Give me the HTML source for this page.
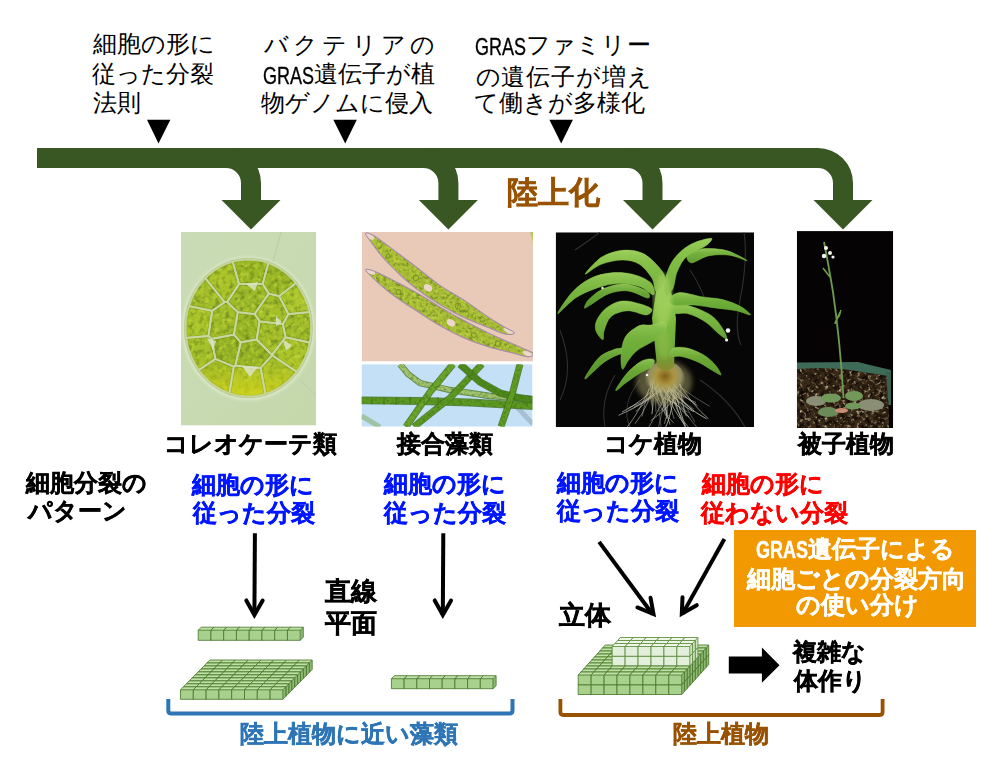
<!DOCTYPE html>
<html><head><meta charset="utf-8"><title>GRAS</title>
<style>
html,body{margin:0;padding:0;background:#fff;}
body{width:1000px;height:782px;position:relative;overflow:hidden;font-family:"Liberation Sans",sans-serif;}
.t{position:absolute;white-space:nowrap;line-height:1;}
.b{font-weight:bold;-webkit-text-stroke:0.45px currentColor;}
svg.main{position:absolute;left:0;top:0;}
.box{position:absolute;left:734px;top:530.3px;width:242px;height:97px;background:#f29800;}

.t:not(.b) .lat{-webkit-text-stroke:0.35px currentColor;}
.lat{font-family:"Liberation Sans",sans-serif;display:inline-block;transform:scaleX(0.75);transform-origin:0 0;margin-right:-17px;position:relative;top:1.5px;}
</style></head><body>
<div class="box"></div>
<svg class="main" width="1000" height="782" viewBox="0 0 1000 782">
<defs><clipPath id="cp1"><rect x="181" y="232" width="135" height="193.6"/></clipPath><clipPath id="cd1"><ellipse cx="248.4" cy="328" rx="63.599999999999994" ry="69.3"/></clipPath><linearGradient id="g1b" x1="0" y1="0" x2="1" y2="1"><stop offset="0" stop-color="#cadcb6"/><stop offset="1" stop-color="#c4d8ab"/></linearGradient><linearGradient id="g1y" x1="0" y1="0" x2="0" y2="1"><stop offset="0.7" stop-color="#c8d020" stop-opacity="0"/><stop offset="0.93" stop-color="#d2d41a" stop-opacity="0.7"/><stop offset="1" stop-color="#d8d820" stop-opacity="0.8"/></linearGradient><filter id="n1a" x="0" y="0" width="100%" height="100%" color-interpolation-filters="sRGB"><feTurbulence type="fractalNoise" baseFrequency="0.2" numOctaves="2" seed="4"/><feColorMatrix type="matrix" values="0 0 0 0 0.373 0 0 0 0 0.490 0 0 0 0 0.098 2.2 0 0 0 -1.0"/><feGaussianBlur stdDeviation="0.6"/></filter><filter id="n1b" x="0" y="0" width="100%" height="100%" color-interpolation-filters="sRGB"><feTurbulence type="fractalNoise" baseFrequency="0.22" numOctaves="2" seed="9"/><feColorMatrix type="matrix" values="0 0 0 0 0.804 0 0 0 0 0.863 0 0 0 0 0.275 0 2.2 0 0 -1.1"/><feGaussianBlur stdDeviation="0.6"/></filter><filter id="bl1"><feGaussianBlur stdDeviation="0.7"/></filter><filter id="bl2"><feGaussianBlur stdDeviation="1.5"/></filter></defs><g clip-path="url(#cp1)"><rect x="181" y="232" width="135" height="193.6" fill="url(#g1b)"/><line x1="281" y1="232" x2="273" y2="262" stroke="#b5c99e" stroke-width="0.8"/><line x1="300" y1="380" x2="316" y2="395" stroke="#b5c99e" stroke-width="0.8"/><ellipse cx="248.4" cy="328.5" rx="66.1" ry="71.8" fill="#dde8cc" filter="url(#bl2)"/><ellipse cx="248.4" cy="328" rx="64.1" ry="69.8" fill="#c4d49a" filter="url(#bl1)"/><clipPath id="cc1x"><polygon points="233.9,334.7 237.8,312.1 254.6,314.1 259.6,321.3 256.6,339.5 240.8,342.3"/><polygon points="224.6,302.2 227.2,302.1 237.8,312.1 233.9,334.7 211.6,338.9 208.4,336.0 212.2,310.8"/><polygon points="268.8,293.6 254.6,314.1 237.8,312.1 227.2,302.1 239.0,283.9 262.7,283.9"/><polygon points="259.6,321.3 254.6,314.1 268.8,293.6 279.2,296.1 288.4,314.1 282.8,324.2"/><polygon points="272.0,354.9 256.6,339.5 259.6,321.3 282.8,324.2 285.6,337.3"/><polygon points="235.3,365.7 240.8,342.3 256.6,339.5 272.0,354.9 272.0,355.3 260.6,368.0"/><polygon points="211.6,338.9 233.9,334.7 240.8,342.3 235.3,365.7 233.8,366.5 215.4,359.0"/><polygon points="205.4,278.2 208.0,275.5 212.4,271.9 217.0,268.7 221.9,265.9 226.9,263.6 232.1,261.8 232.7,261.7 239.0,283.9 227.2,302.1 224.6,302.2"/><polygon points="232.7,261.7 237.5,260.5 242.9,259.8 248.4,259.5 253.9,259.8 259.3,260.5 264.7,261.8 268.4,263.1 262.7,283.9 239.0,283.9"/><polygon points="268.8,293.6 262.7,283.9 268.4,263.1 269.9,263.6 274.9,265.9 279.8,268.7 284.4,271.9 288.8,275.5 292.8,279.6 295.8,283.1 279.2,296.1"/><polygon points="288.4,314.1 279.2,296.1 295.8,283.1 296.5,284.0 299.8,288.7 302.8,293.8 305.3,299.1 307.4,304.6 309.1,310.3 309.4,312.1"/><polygon points="311.2,328.0 311.0,334.0 310.2,339.9 309.7,342.5 285.6,337.3 282.8,324.2 288.4,314.1 309.4,312.1 310.2,316.1 311.0,322.0"/><polygon points="309.7,342.5 309.1,345.7 307.4,351.4 305.3,356.9 302.8,362.2 299.8,367.3 296.7,371.8 272.0,355.3 272.0,354.9 285.6,337.3"/><polygon points="296.7,371.8 296.5,372.0 292.8,376.4 288.8,380.5 284.4,384.1 279.8,387.3 274.9,390.1 269.9,392.4 265.4,393.9 260.6,368.0 272.0,355.3"/><polygon points="265.4,393.9 264.7,394.2 259.3,395.5 253.9,396.2 248.4,396.5 242.9,396.2 237.5,395.5 232.1,394.2 229.4,393.2 233.8,366.5 235.3,365.7 260.6,368.0"/><polygon points="229.4,393.2 226.9,392.4 221.9,390.1 217.0,387.3 212.4,384.1 208.0,380.5 204.0,376.4 200.3,372.0 198.9,370.0 215.4,359.0 233.8,366.5"/><polygon points="198.9,370.0 197.0,367.3 194.0,362.2 191.5,356.9 189.4,351.4 187.7,345.7 186.6,339.9 186.3,337.9 208.4,336.0 211.6,338.9 215.4,359.0"/><polygon points="186.3,337.9 185.8,334.0 185.6,328.0 185.8,322.0 186.6,316.1 187.7,310.3 189.0,306.1 212.2,310.8 208.4,336.0"/><polygon points="189.0,306.1 189.4,304.6 191.5,299.1 194.0,293.8 197.0,288.7 200.3,284.0 204.0,279.6 205.4,278.2 224.6,302.2 212.2,310.8"/></clipPath><g filter="url(#bl1)"><polygon points="233.9,334.7 237.8,312.1 254.6,314.1 259.6,321.3 256.6,339.5 240.8,342.3" fill="#9bb828"/><polygon points="224.6,302.2 227.2,302.1 237.8,312.1 233.9,334.7 211.6,338.9 208.4,336.0 212.2,310.8" fill="#a3be2a"/><polygon points="268.8,293.6 254.6,314.1 237.8,312.1 227.2,302.1 239.0,283.9 262.7,283.9" fill="#9ebb29"/><polygon points="259.6,321.3 254.6,314.1 268.8,293.6 279.2,296.1 288.4,314.1 282.8,324.2" fill="#a4bf2a"/><polygon points="272.0,354.9 256.6,339.5 259.6,321.3 282.8,324.2 285.6,337.3" fill="#a5c02a"/><polygon points="235.3,365.7 240.8,342.3 256.6,339.5 272.0,354.9 272.0,355.3 260.6,368.0" fill="#97b526"/><polygon points="211.6,338.9 233.9,334.7 240.8,342.3 235.3,365.7 233.8,366.5 215.4,359.0" fill="#96b426"/><polygon points="205.4,278.2 208.0,275.5 212.4,271.9 217.0,268.7 221.9,265.9 226.9,263.6 232.1,261.8 232.7,261.7 239.0,283.9 227.2,302.1 224.6,302.2" fill="#aac42c"/><polygon points="232.7,261.7 237.5,260.5 242.9,259.8 248.4,259.5 253.9,259.8 259.3,260.5 264.7,261.8 268.4,263.1 262.7,283.9 239.0,283.9" fill="#9cb928"/><polygon points="268.8,293.6 262.7,283.9 268.4,263.1 269.9,263.6 274.9,265.9 279.8,268.7 284.4,271.9 288.8,275.5 292.8,279.6 295.8,283.1 279.2,296.1" fill="#9bb828"/><polygon points="288.4,314.1 279.2,296.1 295.8,283.1 296.5,284.0 299.8,288.7 302.8,293.8 305.3,299.1 307.4,304.6 309.1,310.3 309.4,312.1" fill="#adc72d"/><polygon points="311.2,328.0 311.0,334.0 310.2,339.9 309.7,342.5 285.6,337.3 282.8,324.2 288.4,314.1 309.4,312.1 310.2,316.1 311.0,322.0" fill="#a1bd29"/><polygon points="309.7,342.5 309.1,345.7 307.4,351.4 305.3,356.9 302.8,362.2 299.8,367.3 296.7,371.8 272.0,355.3 272.0,354.9 285.6,337.3" fill="#aac42c"/><polygon points="296.7,371.8 296.5,372.0 292.8,376.4 288.8,380.5 284.4,384.1 279.8,387.3 274.9,390.1 269.9,392.4 265.4,393.9 260.6,368.0 272.0,355.3" fill="#a1bd29"/><polygon points="265.4,393.9 264.7,394.2 259.3,395.5 253.9,396.2 248.4,396.5 242.9,396.2 237.5,395.5 232.1,394.2 229.4,393.2 233.8,366.5 235.3,365.7 260.6,368.0" fill="#a5c02b"/><polygon points="229.4,393.2 226.9,392.4 221.9,390.1 217.0,387.3 212.4,384.1 208.0,380.5 204.0,376.4 200.3,372.0 198.9,370.0 215.4,359.0 233.8,366.5" fill="#99b727"/><polygon points="198.9,370.0 197.0,367.3 194.0,362.2 191.5,356.9 189.4,351.4 187.7,345.7 186.6,339.9 186.3,337.9 208.4,336.0 211.6,338.9 215.4,359.0" fill="#a5c02a"/><polygon points="186.3,337.9 185.8,334.0 185.6,328.0 185.8,322.0 186.6,316.1 187.7,310.3 189.0,306.1 212.2,310.8 208.4,336.0" fill="#aac52c"/><polygon points="189.0,306.1 189.4,304.6 191.5,299.1 194.0,293.8 197.0,288.7 200.3,284.0 204.0,279.6 205.4,278.2 224.6,302.2 212.2,310.8" fill="#a2be2a"/></g><g clip-path="url(#cc1x)"><rect x="181" y="232" width="135" height="193.6" filter="url(#n1a)" opacity="0.85"/><rect x="181" y="232" width="135" height="193.6" filter="url(#n1b)" opacity="0.85"/><rect x="183.8" y="257.7" width="129.2" height="140.6" fill="url(#g1y)"/></g><g filter="url(#bl1)" fill="none" stroke-linejoin="round"><polygon points="233.9,334.7 237.8,312.1 254.6,314.1 259.6,321.3 256.6,339.5 240.8,342.3" stroke="#6f8c22" stroke-width="3.6" stroke-opacity="0.2"/><polygon points="224.6,302.2 227.2,302.1 237.8,312.1 233.9,334.7 211.6,338.9 208.4,336.0 212.2,310.8" stroke="#6f8c22" stroke-width="3.6" stroke-opacity="0.2"/><polygon points="268.8,293.6 254.6,314.1 237.8,312.1 227.2,302.1 239.0,283.9 262.7,283.9" stroke="#6f8c22" stroke-width="3.6" stroke-opacity="0.2"/><polygon points="259.6,321.3 254.6,314.1 268.8,293.6 279.2,296.1 288.4,314.1 282.8,324.2" stroke="#6f8c22" stroke-width="3.6" stroke-opacity="0.2"/><polygon points="272.0,354.9 256.6,339.5 259.6,321.3 282.8,324.2 285.6,337.3" stroke="#6f8c22" stroke-width="3.6" stroke-opacity="0.2"/><polygon points="235.3,365.7 240.8,342.3 256.6,339.5 272.0,354.9 272.0,355.3 260.6,368.0" stroke="#6f8c22" stroke-width="3.6" stroke-opacity="0.2"/><polygon points="211.6,338.9 233.9,334.7 240.8,342.3 235.3,365.7 233.8,366.5 215.4,359.0" stroke="#6f8c22" stroke-width="3.6" stroke-opacity="0.2"/><polygon points="205.4,278.2 208.0,275.5 212.4,271.9 217.0,268.7 221.9,265.9 226.9,263.6 232.1,261.8 232.7,261.7 239.0,283.9 227.2,302.1 224.6,302.2" stroke="#6f8c22" stroke-width="3.6" stroke-opacity="0.2"/><polygon points="232.7,261.7 237.5,260.5 242.9,259.8 248.4,259.5 253.9,259.8 259.3,260.5 264.7,261.8 268.4,263.1 262.7,283.9 239.0,283.9" stroke="#6f8c22" stroke-width="3.6" stroke-opacity="0.2"/><polygon points="268.8,293.6 262.7,283.9 268.4,263.1 269.9,263.6 274.9,265.9 279.8,268.7 284.4,271.9 288.8,275.5 292.8,279.6 295.8,283.1 279.2,296.1" stroke="#6f8c22" stroke-width="3.6" stroke-opacity="0.2"/><polygon points="288.4,314.1 279.2,296.1 295.8,283.1 296.5,284.0 299.8,288.7 302.8,293.8 305.3,299.1 307.4,304.6 309.1,310.3 309.4,312.1" stroke="#6f8c22" stroke-width="3.6" stroke-opacity="0.2"/><polygon points="311.2,328.0 311.0,334.0 310.2,339.9 309.7,342.5 285.6,337.3 282.8,324.2 288.4,314.1 309.4,312.1 310.2,316.1 311.0,322.0" stroke="#6f8c22" stroke-width="3.6" stroke-opacity="0.2"/><polygon points="309.7,342.5 309.1,345.7 307.4,351.4 305.3,356.9 302.8,362.2 299.8,367.3 296.7,371.8 272.0,355.3 272.0,354.9 285.6,337.3" stroke="#6f8c22" stroke-width="3.6" stroke-opacity="0.2"/><polygon points="296.7,371.8 296.5,372.0 292.8,376.4 288.8,380.5 284.4,384.1 279.8,387.3 274.9,390.1 269.9,392.4 265.4,393.9 260.6,368.0 272.0,355.3" stroke="#6f8c22" stroke-width="3.6" stroke-opacity="0.2"/><polygon points="265.4,393.9 264.7,394.2 259.3,395.5 253.9,396.2 248.4,396.5 242.9,396.2 237.5,395.5 232.1,394.2 229.4,393.2 233.8,366.5 235.3,365.7 260.6,368.0" stroke="#6f8c22" stroke-width="3.6" stroke-opacity="0.2"/><polygon points="229.4,393.2 226.9,392.4 221.9,390.1 217.0,387.3 212.4,384.1 208.0,380.5 204.0,376.4 200.3,372.0 198.9,370.0 215.4,359.0 233.8,366.5" stroke="#6f8c22" stroke-width="3.6" stroke-opacity="0.2"/><polygon points="198.9,370.0 197.0,367.3 194.0,362.2 191.5,356.9 189.4,351.4 187.7,345.7 186.6,339.9 186.3,337.9 208.4,336.0 211.6,338.9 215.4,359.0" stroke="#6f8c22" stroke-width="3.6" stroke-opacity="0.2"/><polygon points="186.3,337.9 185.8,334.0 185.6,328.0 185.8,322.0 186.6,316.1 187.7,310.3 189.0,306.1 212.2,310.8 208.4,336.0" stroke="#6f8c22" stroke-width="3.6" stroke-opacity="0.2"/><polygon points="189.0,306.1 189.4,304.6 191.5,299.1 194.0,293.8 197.0,288.7 200.3,284.0 204.0,279.6 205.4,278.2 224.6,302.2 212.2,310.8" stroke="#6f8c22" stroke-width="3.6" stroke-opacity="0.2"/><polygon points="233.9,334.7 237.8,312.1 254.6,314.1 259.6,321.3 256.6,339.5 240.8,342.3" stroke="#cad8a4" stroke-width="1.8" stroke-opacity="0.9"/><polygon points="224.6,302.2 227.2,302.1 237.8,312.1 233.9,334.7 211.6,338.9 208.4,336.0 212.2,310.8" stroke="#cad8a4" stroke-width="1.8" stroke-opacity="0.9"/><polygon points="268.8,293.6 254.6,314.1 237.8,312.1 227.2,302.1 239.0,283.9 262.7,283.9" stroke="#cad8a4" stroke-width="1.8" stroke-opacity="0.9"/><polygon points="259.6,321.3 254.6,314.1 268.8,293.6 279.2,296.1 288.4,314.1 282.8,324.2" stroke="#cad8a4" stroke-width="1.8" stroke-opacity="0.9"/><polygon points="272.0,354.9 256.6,339.5 259.6,321.3 282.8,324.2 285.6,337.3" stroke="#cad8a4" stroke-width="1.8" stroke-opacity="0.9"/><polygon points="235.3,365.7 240.8,342.3 256.6,339.5 272.0,354.9 272.0,355.3 260.6,368.0" stroke="#cad8a4" stroke-width="1.8" stroke-opacity="0.9"/><polygon points="211.6,338.9 233.9,334.7 240.8,342.3 235.3,365.7 233.8,366.5 215.4,359.0" stroke="#cad8a4" stroke-width="1.8" stroke-opacity="0.9"/><polygon points="205.4,278.2 208.0,275.5 212.4,271.9 217.0,268.7 221.9,265.9 226.9,263.6 232.1,261.8 232.7,261.7 239.0,283.9 227.2,302.1 224.6,302.2" stroke="#cad8a4" stroke-width="1.8" stroke-opacity="0.9"/><polygon points="232.7,261.7 237.5,260.5 242.9,259.8 248.4,259.5 253.9,259.8 259.3,260.5 264.7,261.8 268.4,263.1 262.7,283.9 239.0,283.9" stroke="#cad8a4" stroke-width="1.8" stroke-opacity="0.9"/><polygon points="268.8,293.6 262.7,283.9 268.4,263.1 269.9,263.6 274.9,265.9 279.8,268.7 284.4,271.9 288.8,275.5 292.8,279.6 295.8,283.1 279.2,296.1" stroke="#cad8a4" stroke-width="1.8" stroke-opacity="0.9"/><polygon points="288.4,314.1 279.2,296.1 295.8,283.1 296.5,284.0 299.8,288.7 302.8,293.8 305.3,299.1 307.4,304.6 309.1,310.3 309.4,312.1" stroke="#cad8a4" stroke-width="1.8" stroke-opacity="0.9"/><polygon points="311.2,328.0 311.0,334.0 310.2,339.9 309.7,342.5 285.6,337.3 282.8,324.2 288.4,314.1 309.4,312.1 310.2,316.1 311.0,322.0" stroke="#cad8a4" stroke-width="1.8" stroke-opacity="0.9"/><polygon points="309.7,342.5 309.1,345.7 307.4,351.4 305.3,356.9 302.8,362.2 299.8,367.3 296.7,371.8 272.0,355.3 272.0,354.9 285.6,337.3" stroke="#cad8a4" stroke-width="1.8" stroke-opacity="0.9"/><polygon points="296.7,371.8 296.5,372.0 292.8,376.4 288.8,380.5 284.4,384.1 279.8,387.3 274.9,390.1 269.9,392.4 265.4,393.9 260.6,368.0 272.0,355.3" stroke="#cad8a4" stroke-width="1.8" stroke-opacity="0.9"/><polygon points="265.4,393.9 264.7,394.2 259.3,395.5 253.9,396.2 248.4,396.5 242.9,396.2 237.5,395.5 232.1,394.2 229.4,393.2 233.8,366.5 235.3,365.7 260.6,368.0" stroke="#cad8a4" stroke-width="1.8" stroke-opacity="0.9"/><polygon points="229.4,393.2 226.9,392.4 221.9,390.1 217.0,387.3 212.4,384.1 208.0,380.5 204.0,376.4 200.3,372.0 198.9,370.0 215.4,359.0 233.8,366.5" stroke="#cad8a4" stroke-width="1.8" stroke-opacity="0.9"/><polygon points="198.9,370.0 197.0,367.3 194.0,362.2 191.5,356.9 189.4,351.4 187.7,345.7 186.6,339.9 186.3,337.9 208.4,336.0 211.6,338.9 215.4,359.0" stroke="#cad8a4" stroke-width="1.8" stroke-opacity="0.9"/><polygon points="186.3,337.9 185.8,334.0 185.6,328.0 185.8,322.0 186.6,316.1 187.7,310.3 189.0,306.1 212.2,310.8 208.4,336.0" stroke="#cad8a4" stroke-width="1.8" stroke-opacity="0.9"/><polygon points="189.0,306.1 189.4,304.6 191.5,299.1 194.0,293.8 197.0,288.7 200.3,284.0 204.0,279.6 205.4,278.2 224.6,302.2 212.2,310.8" stroke="#cad8a4" stroke-width="1.8" stroke-opacity="0.9"/></g><g fill="#dfe8cc" opacity="0.8" filter="url(#bl1)"><path d="M246 284 L258 282 L255 291Z"/><path d="M242 366 L258 367 L250 377Z"/><path d="M283 340 L292 345 L286 351Z"/><path d="M207 338 L216 341 L213 350Z"/><path d="M276 316 L282 322 L276 326Z"/></g></g><defs><clipPath id="cp2"><rect x="362" y="232" width="171" height="129.5"/></clipPath><clipPath id="cc1"><path d="M365.8 233.3C366.6 232.8 369 232.9 373.8 235.8C378.6 238.7 387.2 245.3 394.5 250.7C401.8 256.1 409.9 262.2 417.5 268C425.1 273.8 432.2 280.2 440 285.6C447.8 291 456.2 295.1 464.3 300.4C472.4 305.7 481.8 312.9 488.6 317.4C495.4 321.9 500.7 324.9 505 327.5C509.3 330.1 514.1 331.7 514.3 332.8C514.5 333.9 510.3 335.1 506 334.2C501.7 333.3 495.6 330.4 488.6 327.6C481.7 324.8 472.4 321.4 464.3 317.6C456.2 313.8 447.8 309.3 440 304.6C432.2 299.9 424.1 294.4 417.5 289.5C410.9 284.6 406.1 280.3 400.3 275C394.6 269.7 388.2 263.5 383 257.5C377.8 251.5 371.9 243 369 239C366.1 235 365 233.8 365.8 233.3Z"/></clipPath><clipPath id="cc2"><path d="M366.5 269.3C368 269.2 371.7 270.1 377.3 272.6C382.9 275.1 392.6 280.1 400.3 284.1C408 288.1 416.7 292.9 423.3 296.7C429.9 300.5 433.2 303.2 440 307.2C446.8 311.2 456.2 316.5 464.3 320.8C472.4 325.1 480.5 329.3 488.6 333.2C496.7 337.1 506.2 341.1 512.9 344.1C519.6 347.1 525.6 349.4 529 351C532.4 352.6 533.7 353 533.5 354C533.3 355 531.4 357 528 356.8C524.6 356.6 519.5 354.7 512.9 353C506.3 351.3 496.7 349.3 488.6 346.8C480.5 344.3 472.4 341.5 464.3 338C456.2 334.5 447.4 329.8 440 325.6C432.6 321.4 426.7 317.3 420 313C413.3 308.7 406.2 304.3 400 300C393.8 295.7 388.2 291.4 383 287C377.8 282.6 371.2 276.4 368.5 273.5C365.8 270.6 365 269.4 366.5 269.3Z"/></clipPath><filter id="n2a" x="0" y="0" width="100%" height="100%" color-interpolation-filters="sRGB"><feTurbulence type="fractalNoise" baseFrequency="0.3" numOctaves="2" seed="11"/><feColorMatrix type="matrix" values="0 0 0 0 0.412 0 0 0 0 0.510 0 0 0 0 0.118 2.4 0 0 0 -1.1"/></filter><filter id="n2b" x="0" y="0" width="100%" height="100%" color-interpolation-filters="sRGB"><feTurbulence type="fractalNoise" baseFrequency="0.3" numOctaves="2" seed="5"/><feColorMatrix type="matrix" values="0 0 0 0 0.784 0 0 0 0 0.843 0 0 0 0 0.275 0 2.4 0 0 -1.2"/></filter><filter id="bl3"><feGaussianBlur stdDeviation="0.5"/></filter></defs><g clip-path="url(#cp2)"><rect x="362" y="232" width="171" height="129.5" fill="#e9cab8"/><path d="M530 232 Q533 240 533 246 L533 232Z" fill="#b8c860"/><path d="M365.8 233.3C366.6 232.8 369 232.9 373.8 235.8C378.6 238.7 387.2 245.3 394.5 250.7C401.8 256.1 409.9 262.2 417.5 268C425.1 273.8 432.2 280.2 440 285.6C447.8 291 456.2 295.1 464.3 300.4C472.4 305.7 481.8 312.9 488.6 317.4C495.4 321.9 500.7 324.9 505 327.5C509.3 330.1 514.1 331.7 514.3 332.8C514.5 333.9 510.3 335.1 506 334.2C501.7 333.3 495.6 330.4 488.6 327.6C481.7 324.8 472.4 321.4 464.3 317.6C456.2 313.8 447.8 309.3 440 304.6C432.2 299.9 424.1 294.4 417.5 289.5C410.9 284.6 406.1 280.3 400.3 275C394.6 269.7 388.2 263.5 383 257.5C377.8 251.5 371.9 243 369 239C366.1 235 365 233.8 365.8 233.3Z" fill="#a9bf36" stroke="#ad93aa" stroke-width="1.1"/><g clip-path="url(#cc1)"><rect x="362" y="232" width="171" height="129.5" filter="url(#n2a)"/><rect x="362" y="232" width="171" height="129.5" filter="url(#n2b)"/><g filter="url(#bl3)" fill="#edd7cc"><ellipse cx="428" cy="287.8" rx="4.5" ry="3.2" transform="rotate(33 428 287.8)"/><ellipse cx="369" cy="236" rx="6" ry="2.6" transform="rotate(30 369 236)"/><ellipse cx="509" cy="331" rx="6" ry="2.4" transform="rotate(25 509 331)"/></g></g><path d="M365.8 233.3C366.6 232.8 369 232.9 373.8 235.8C378.6 238.7 387.2 245.3 394.5 250.7C401.8 256.1 409.9 262.2 417.5 268C425.1 273.8 432.2 280.2 440 285.6C447.8 291 456.2 295.1 464.3 300.4C472.4 305.7 481.8 312.9 488.6 317.4C495.4 321.9 500.7 324.9 505 327.5C509.3 330.1 514.1 331.7 514.3 332.8C514.5 333.9 510.3 335.1 506 334.2C501.7 333.3 495.6 330.4 488.6 327.6C481.7 324.8 472.4 321.4 464.3 317.6C456.2 313.8 447.8 309.3 440 304.6C432.2 299.9 424.1 294.4 417.5 289.5C410.9 284.6 406.1 280.3 400.3 275C394.6 269.7 388.2 263.5 383 257.5C377.8 251.5 371.9 243 369 239C366.1 235 365 233.8 365.8 233.3Z" fill="none" stroke="#a88ea8" stroke-width="0.9"/><path d="M366.5 269.3C368 269.2 371.7 270.1 377.3 272.6C382.9 275.1 392.6 280.1 400.3 284.1C408 288.1 416.7 292.9 423.3 296.7C429.9 300.5 433.2 303.2 440 307.2C446.8 311.2 456.2 316.5 464.3 320.8C472.4 325.1 480.5 329.3 488.6 333.2C496.7 337.1 506.2 341.1 512.9 344.1C519.6 347.1 525.6 349.4 529 351C532.4 352.6 533.7 353 533.5 354C533.3 355 531.4 357 528 356.8C524.6 356.6 519.5 354.7 512.9 353C506.3 351.3 496.7 349.3 488.6 346.8C480.5 344.3 472.4 341.5 464.3 338C456.2 334.5 447.4 329.8 440 325.6C432.6 321.4 426.7 317.3 420 313C413.3 308.7 406.2 304.3 400 300C393.8 295.7 388.2 291.4 383 287C377.8 282.6 371.2 276.4 368.5 273.5C365.8 270.6 365 269.4 366.5 269.3Z" fill="#a9bf36" stroke="#ad93aa" stroke-width="1.1"/><g clip-path="url(#cc2)"><rect x="362" y="232" width="171" height="129.5" filter="url(#n2a)"/><rect x="362" y="232" width="171" height="129.5" filter="url(#n2b)"/><g filter="url(#bl3)" fill="#edd7cc"><ellipse cx="451" cy="322.8" rx="4.5" ry="3.2" transform="rotate(33 451 322.8)"/><ellipse cx="370" cy="271" rx="6" ry="2.6" transform="rotate(30 370 271)"/><ellipse cx="528" cy="354" rx="6" ry="2.4" transform="rotate(25 528 354)"/></g></g><path d="M366.5 269.3C368 269.2 371.7 270.1 377.3 272.6C382.9 275.1 392.6 280.1 400.3 284.1C408 288.1 416.7 292.9 423.3 296.7C429.9 300.5 433.2 303.2 440 307.2C446.8 311.2 456.2 316.5 464.3 320.8C472.4 325.1 480.5 329.3 488.6 333.2C496.7 337.1 506.2 341.1 512.9 344.1C519.6 347.1 525.6 349.4 529 351C532.4 352.6 533.7 353 533.5 354C533.3 355 531.4 357 528 356.8C524.6 356.6 519.5 354.7 512.9 353C506.3 351.3 496.7 349.3 488.6 346.8C480.5 344.3 472.4 341.5 464.3 338C456.2 334.5 447.4 329.8 440 325.6C432.6 321.4 426.7 317.3 420 313C413.3 308.7 406.2 304.3 400 300C393.8 295.7 388.2 291.4 383 287C377.8 282.6 371.2 276.4 368.5 273.5C365.8 270.6 365 269.4 366.5 269.3Z" fill="none" stroke="#a88ea8" stroke-width="0.9"/><g fill="none" stroke="#6f8a1c" stroke-width="0.9" opacity="0.9"><circle cx="416" cy="278" r="2.8"/><circle cx="458" cy="306" r="2.8"/><circle cx="482.5" cy="319.5" r="2.5"/><circle cx="498" cy="343.8" r="2.8"/><circle cx="473.8" cy="335" r="2.5"/><circle cx="398.5" cy="292" r="2.5"/><circle cx="388" cy="256" r="2.0"/></g></g><defs><clipPath id="cp3"><rect x="361.5" y="364.2" width="171" height="62.5"/></clipPath><filter id="bl4"><feGaussianBlur stdDeviation="0.55"/></filter><filter id="n3a" x="0" y="0" width="100%" height="100%" color-interpolation-filters="sRGB"><feTurbulence type="fractalNoise" baseFrequency="0.35" numOctaves="2" seed="21"/><feColorMatrix type="matrix" values="0 0 0 0 0.235 0 0 0 0 0.392 0 0 0 0 0.078 2.0 0 0 0 -0.9"/></filter><mask id="m3"><g fill="none" stroke="#fff" stroke-width="7" stroke-linecap="butt"><path d="M400 364.2 L408 374 L420 383 L450 390 L490 396 L533 399" stroke-width="5.2"/><path d="M361.5 400.4 L420 401 L470 402.5 L533 406" stroke-width="6.6"/><path d="M453 364.2 L430 392 L406 426.7" stroke-width="5.8"/><path d="M482 364.2 L450 398 L414 426.7" stroke-width="5.8"/><path d="M460 364.2 L480 382 L500 393 L520 398 L533 400" stroke-width="6.2"/><path d="M520 364.2 L512 395 L501 426.7" stroke-width="5.8"/></g></mask></defs><g clip-path="url(#cp3)"><rect x="361.5" y="364.2" width="171" height="62.5" fill="#c4e0f6"/><path d="M515 405 L533 424" stroke="#8898a8" stroke-width="5" opacity="0.45" filter="url(#bl4)"/><path d="M361.5 416 L380 427" stroke="#8ab070" stroke-width="5" opacity="0.6" filter="url(#bl4)"/><g fill="none" filter="url(#bl4)"><path d="M400 364.2 L408 374 L420 383 L450 390 L490 396 L533 399" stroke="#3e6f16" stroke-width="6.4" opacity="0.7200000000000001"/><path d="M400 364.2 L408 374 L420 383 L450 390 L490 396 L533 399" stroke="#a8c870" stroke-width="4.6000000000000005" opacity="0.9"/><path d="M361.5 400.4 L420 401 L470 402.5 L533 406" stroke="#3e6f16" stroke-width="7.8" opacity="0.8"/><path d="M361.5 400.4 L420 401 L470 402.5 L533 406" stroke="#5c9a20" stroke-width="6.0" opacity="1"/><path d="M453 364.2 L430 392 L406 426.7" stroke="#3e6f16" stroke-width="7.0" opacity="0.8"/><path d="M453 364.2 L430 392 L406 426.7" stroke="#6aa62a" stroke-width="5.2" opacity="1"/><path d="M482 364.2 L450 398 L414 426.7" stroke="#3e6f16" stroke-width="7.0" opacity="0.8"/><path d="M482 364.2 L450 398 L414 426.7" stroke="#5b9a22" stroke-width="5.2" opacity="1"/><path d="M460 364.2 L480 382 L500 393 L520 398 L533 400" stroke="#3e6f16" stroke-width="7.4" opacity="0.8"/><path d="M460 364.2 L480 382 L500 393 L520 398 L533 400" stroke="#4e8a1d" stroke-width="5.6000000000000005" opacity="1"/><path d="M520 364.2 L512 395 L501 426.7" stroke="#3e6f16" stroke-width="7.0" opacity="0.8"/><path d="M520 364.2 L512 395 L501 426.7" stroke="#5e9e24" stroke-width="5.2" opacity="1"/></g><rect x="361.5" y="364.2" width="171" height="62.5" filter="url(#n3a)" mask="url(#m3)" opacity="0.7"/><g stroke="#355f12" stroke-width="0.9" opacity="0.7"><line x1="372" y1="397" x2="372" y2="404.5"/><line x1="384" y1="397" x2="384" y2="404.5"/><line x1="396" y1="397" x2="396" y2="404.5"/><line x1="410" y1="397" x2="410" y2="404.5"/><line x1="424" y1="397" x2="424" y2="404.5"/><line x1="438" y1="397" x2="438" y2="404.5"/></g></g><defs><clipPath id="cp4"><rect x="555.7" y="232.3" width="198.3" height="194.7"/></clipPath><filter id="bl5"><feGaussianBlur stdDeviation="0.6"/></filter><filter id="bl6"><feGaussianBlur stdDeviation="2.5"/></filter><radialGradient id="rt4" cx="0.5" cy="0.4" r="0.55"><stop offset="0" stop-color="#806016"/><stop offset="0.4" stop-color="#aa9440"/><stop offset="0.75" stop-color="#c2bc80" stop-opacity="0.55"/><stop offset="1" stop-color="#8a8a70" stop-opacity="0"/></radialGradient><linearGradient id="st4" x1="0" y1="0" x2="0" y2="1"><stop offset="0" stop-color="#90c84c"/><stop offset="0.5" stop-color="#7ab83c"/><stop offset="0.8" stop-color="#6aa234"/><stop offset="1" stop-color="#8a8a30"/></linearGradient><linearGradient id="lg4" x1="0" y1="0" x2="0" y2="1"><stop offset="0" stop-color="#b4e070"/><stop offset="0.45" stop-color="#8cc44c" stop-opacity="0.3"/><stop offset="1" stop-color="#3c7a1c" stop-opacity="0.6"/></linearGradient></defs><g clip-path="url(#cp4)"><rect x="555.7" y="232.3" width="198.3" height="194.7" fill="#060606"/><g fill="none" stroke="#3a3a3a" stroke-width="1.1" opacity="0.8" filter="url(#bl5)"><path d="M744 232 Q748 260 740 300 Q734 330 741 345"/><path d="M615 375 Q600 400 605 427"/><path d="M560 330 Q575 370 560 400"/><path d="M640 380 Q620 405 630 427"/><path d="M700 380 Q730 400 745 427"/><path d="M575 250 Q590 240 600 232"/><path d="M690 270 Q700 285 705 300"/></g><g fill="none" stroke="#e2e2d0" stroke-width="0.85" opacity="0.85" filter="url(#bl5)"><path d="M674.4 390.2 Q671.9 415.5 663.4 432.3" stroke-opacity="0.95"/><path d="M679.2 386.1 Q694.6 398.2 709.7 406.3" stroke-opacity="0.47"/><path d="M666.4 385 Q663.3 403.7 668.4 416.1" stroke-opacity="0.53"/><path d="M673.5 379.2 Q684.4 405 694.9 422.1" stroke-opacity="0.48"/><path d="M649.1 389.2 Q644 405.6 642.2 416.5" stroke-opacity="0.53"/><path d="M658.3 390.5 Q642.7 405.4 618.6 415.3" stroke-opacity="0.81"/><path d="M671.1 390.5 Q685.5 414.3 699.2 430.1" stroke-opacity="0.58"/><path d="M653.7 377.9 Q655.4 394.7 662 405.8" stroke-opacity="0.76"/><path d="M659.8 381.3 Q676.8 394.1 696 402.6" stroke-opacity="0.69"/><path d="M671.5 377.8 Q680.9 398.4 685.5 412.1" stroke-opacity="0.41"/><path d="M649.6 388 Q639.3 412 626.5 428" stroke-opacity="0.75"/><path d="M654.8 390.4 Q661.3 398.5 677.2 403.9" stroke-opacity="0.85"/><path d="M660 382 Q645 400.1 622 412.2" stroke-opacity="0.87"/><path d="M674.5 389 Q683.6 406.9 706.5 418.8" stroke-opacity="0.97"/><path d="M668.5 389.9 Q677.4 403 693.9 411.8" stroke-opacity="0.95"/><path d="M659.1 379.5 Q654.5 399.1 656 412.1" stroke-opacity="0.49"/><path d="M654.2 377.7 Q650.4 405.3 634.9 423.7" stroke-opacity="0.72"/><path d="M668 388.6 Q670.1 406.8 674.1 418.9" stroke-opacity="0.65"/><path d="M650 383.9 Q668.1 401.1 688.5 412.5" stroke-opacity="0.48"/><path d="M669.2 388 Q656.9 413.9 646.4 431.2" stroke-opacity="0.66"/><path d="M658.4 383.3 Q674.8 403.9 689.3 417.6" stroke-opacity="0.91"/><path d="M664.6 387.2 Q652.2 399 634.1 406.9" stroke-opacity="0.57"/><path d="M661.1 390.8 Q667 407.7 666.8 418.9" stroke-opacity="0.78"/><path d="M651.9 380.8 Q654.1 400.9 651.9 414.3" stroke-opacity="0.92"/><path d="M673.8 386.7 Q680.2 412.4 686.6 429.5" stroke-opacity="0.86"/><path d="M658 383.8 Q665 408.3 670 424.7" stroke-opacity="0.81"/><path d="M669.8 385.1 Q674 411.6 690.1 429.3" stroke-opacity="0.73"/><path d="M663.8 388.4 Q673.3 410.2 684.7 424.7" stroke-opacity="0.88"/><path d="M672.6 388.6 Q676.6 412 685.5 427.6" stroke-opacity="0.91"/><path d="M680.2 390.4 Q668.6 408.5 650.7 420.6" stroke-opacity="0.72"/><path d="M679 383.7 Q692.3 404.8 708.5 418.8" stroke-opacity="0.83"/><path d="M674 385.1 Q669.9 400.7 660.4 411.1" stroke-opacity="0.65"/><path d="M669.4 387.1 Q661.1 412.8 658 430" stroke-opacity="0.50"/><path d="M656 386.6 Q659.1 411.2 661.1 427.5" stroke-opacity="0.43"/><path d="M650.7 378.9 Q650 397.2 652.6 409.5" stroke-opacity="0.51"/><path d="M663.9 382.3 Q671 394.8 679.4 403.1" stroke-opacity="0.75"/><path d="M649 382.7 Q657.2 407 673.9 423.3" stroke-opacity="0.65"/><path d="M661 377.5 Q675.1 396.5 694 409.2" stroke-opacity="0.46"/><path d="M667.6 390.4 Q668.9 410.4 664.4 423.8" stroke-opacity="0.65"/><path d="M660.8 379 Q651.6 398.5 635.8 411.5" stroke-opacity="0.74"/><path d="M668.5 381.9 Q655.5 398.9 628.2 410.2" stroke-opacity="0.40"/><path d="M668.7 379 Q681.2 395 697.3 405.6" stroke-opacity="0.93"/><path d="M656.2 381.1 Q663.7 401.8 665.4 415.7" stroke-opacity="0.63"/><path d="M668.1 380.6 Q656.2 397 628.7 407.8" stroke-opacity="0.70"/><path d="M680.5 383.9 Q681.1 403.4 686.3 416.3" stroke-opacity="0.69"/><path d="M663.2 381.1 Q677 398.2 692 409.6" stroke-opacity="0.90"/></g><ellipse cx="664" cy="382" rx="28" ry="22" fill="#b8b070" opacity="0.45" filter="url(#bl6)"/><ellipse cx="665" cy="380" rx="20" ry="19" fill="url(#rt4)" filter="url(#bl5)"/><path d="M658 280 L669 280 L676 318 L674 366 Q666 376 657 366 L652 318 Z" fill="url(#st4)" filter="url(#bl5)"/><g filter="url(#bl5)"><path d="M646.4 291C642.6 288.6 632.3 284.4 625.3 284C618.3 283.6 610.3 285.7 604.2 288.3C598.1 290.9 592.1 296.2 588.8 299.5C585.5 302.8 584.3 307.1 584.5 308C584.7 308.9 586.2 307.5 590.2 305.1C594.2 302.8 602.1 296.2 608.4 293.9C614.7 291.5 621.5 290.3 628.1 291C634.7 291.7 644.8 298.1 647.8 298.1C650.8 298.1 650.1 293.4 646.4 291Z" fill="#5a9a2c" stroke="#8cc850" stroke-width="0.7" stroke-opacity="0.6"/><path d="M646.4 291C642.6 288.6 632.3 284.4 625.3 284C618.3 283.6 610.3 285.7 604.2 288.3C598.1 290.9 592.1 296.2 588.8 299.5C585.5 302.8 584.3 307.1 584.5 308C584.7 308.9 586.2 307.5 590.2 305.1C594.2 302.8 602.1 296.2 608.4 293.9C614.7 291.5 621.5 290.3 628.1 291C634.7 291.7 644.8 298.1 647.8 298.1C650.8 298.1 650.1 293.4 646.4 291Z" fill="url(#lg4)" opacity="0.55"/><path d="M650.6 282.6C647.1 279.2 639 275.8 632.4 274.2C625.8 272.6 618.3 272.1 611.3 272.8C604.3 273.5 596.8 275.1 590.2 278.4C583.6 281.7 577.3 286.6 571.9 292.5C566.5 298.4 557.1 312.7 557.8 313.6C558.5 314.5 569.4 302 576 297.7C582.6 293.4 590.2 290.2 597.2 287.9C604.2 285.5 611.3 283.9 618.3 283.6C625.3 283.4 633.5 284.5 639.4 286.4C645.3 288.3 651.6 295.5 653.5 294.9C655.4 294.3 654.1 286.1 650.6 282.6Z" fill="#74b23c" stroke="#8cc850" stroke-width="0.7" stroke-opacity="0.6"/><path d="M650.6 282.6C647.1 279.2 639 275.8 632.4 274.2C625.8 272.6 618.3 272.1 611.3 272.8C604.3 273.5 596.8 275.1 590.2 278.4C583.6 281.7 577.3 286.6 571.9 292.5C566.5 298.4 557.1 312.7 557.8 313.6C558.5 314.5 569.4 302 576 297.7C582.6 293.4 590.2 290.2 597.2 287.9C604.2 285.5 611.3 283.9 618.3 283.6C625.3 283.4 633.5 284.5 639.4 286.4C645.3 288.3 651.6 295.5 653.5 294.9C655.4 294.3 654.1 286.1 650.6 282.6Z" fill="url(#lg4)" opacity="0.55"/><path d="M665 278.4C665.2 274.2 661.5 270 657.7 265.8C653.9 261.6 648.1 255.7 642.2 253.1C636.3 250.5 629.3 249.6 622.5 250.3C615.7 251 607.6 253.3 601.4 257.3C595.2 261.3 585.2 273 585.2 274.2C585.2 275.4 595.2 266.6 601.4 264.3C607.6 262 616.2 260.1 622.5 260.1C628.8 260.1 634.5 261.2 639.4 264.3C644.3 267.4 649.2 273.9 652 278.4C654.8 282.8 654.1 291 656.3 291C658.5 291 664.8 282.6 665 278.4Z" fill="#80bc44" stroke="#8cc850" stroke-width="0.7" stroke-opacity="0.6"/><path d="M665 278.4C665.2 274.2 661.5 270 657.7 265.8C653.9 261.6 648.1 255.7 642.2 253.1C636.3 250.5 629.3 249.6 622.5 250.3C615.7 251 607.6 253.3 601.4 257.3C595.2 261.3 585.2 273 585.2 274.2C585.2 275.4 595.2 266.6 601.4 264.3C607.6 262 616.2 260.1 622.5 260.1C628.8 260.1 634.5 261.2 639.4 264.3C644.3 267.4 649.2 273.9 652 278.4C654.8 282.8 654.1 291 656.3 291C658.5 291 664.8 282.6 665 278.4Z" fill="url(#lg4)" opacity="0.55"/><path d="M650.6 308C647.1 305.6 632.3 301.1 625.3 300.9C618.3 300.6 613.1 303.4 608.4 306.5C603.7 309.6 599.3 315.2 597.2 319.2C595.1 323.2 594.9 327.1 595.8 330.5C596.7 333.9 601.4 339.7 602.8 339.7C604.2 339.7 602.8 334.4 604.2 330.5C605.6 326.6 607.3 319.7 611.3 316.4C615.3 313.1 622.2 311 628.1 310.8C634 310.6 642.6 315.5 646.4 315C650.1 314.5 654.1 310.4 650.6 308Z" fill="#70ae3a" stroke="#8cc850" stroke-width="0.7" stroke-opacity="0.6"/><path d="M650.6 308C647.1 305.6 632.3 301.1 625.3 300.9C618.3 300.6 613.1 303.4 608.4 306.5C603.7 309.6 599.3 315.2 597.2 319.2C595.1 323.2 594.9 327.1 595.8 330.5C596.7 333.9 601.4 339.7 602.8 339.7C604.2 339.7 602.8 334.4 604.2 330.5C605.6 326.6 607.3 319.7 611.3 316.4C615.3 313.1 622.2 311 628.1 310.8C634 310.6 642.6 315.5 646.4 315C650.1 314.5 654.1 310.4 650.6 308Z" fill="url(#lg4)" opacity="0.55"/><path d="M640 343C637.7 342.7 625.4 347 621.1 348.1C616.8 349.2 617.6 348.1 614.1 349.5C610.6 350.9 604.5 352.6 600 356.6C595.5 360.6 589.8 369.6 587.3 373.4C584.8 377.1 584.5 379.1 585.2 379.1C585.9 379.1 588.4 376.2 591.6 373.4C594.8 370.6 600 365.2 604.2 362.2C608.4 359.2 611.8 357.2 616.9 355.2C622 353.2 631.1 352 635 350C638.9 348 642.3 343.3 640 343Z" fill="#56962a" stroke="#8cc850" stroke-width="0.7" stroke-opacity="0.6"/><path d="M640 343C637.7 342.7 625.4 347 621.1 348.1C616.8 349.2 617.6 348.1 614.1 349.5C610.6 350.9 604.5 352.6 600 356.6C595.5 360.6 589.8 369.6 587.3 373.4C584.8 377.1 584.5 379.1 585.2 379.1C585.9 379.1 588.4 376.2 591.6 373.4C594.8 370.6 600 365.2 604.2 362.2C608.4 359.2 611.8 357.2 616.9 355.2C622 353.2 631.1 352 635 350C638.9 348 642.3 343.3 640 343Z" fill="url(#lg4)" opacity="0.55"/><path d="M653.5 359.4C651.9 358.5 646.4 358.7 642.2 360.8C638 362.9 632.3 367.6 628.1 372C623.9 376.4 618.8 384.4 616.9 387.5C615 390.6 615.5 391 616.9 390.3C618.3 389.6 621.5 386.1 625.3 383.3C629 380.5 634.9 376.2 639.4 373.4C643.9 370.6 649.6 368.7 652 366.4C654.4 364.1 655.1 360.3 653.5 359.4Z" fill="#5e9e2e" stroke="#8cc850" stroke-width="0.7" stroke-opacity="0.6"/><path d="M653.5 359.4C651.9 358.5 646.4 358.7 642.2 360.8C638 362.9 632.3 367.6 628.1 372C623.9 376.4 618.8 384.4 616.9 387.5C615 390.6 615.5 391 616.9 390.3C618.3 389.6 621.5 386.1 625.3 383.3C629 380.5 634.9 376.2 639.4 373.4C643.9 370.6 649.6 368.7 652 366.4C654.4 364.1 655.1 360.3 653.5 359.4Z" fill="url(#lg4)" opacity="0.55"/><path d="M665 322C662.6 320.5 654.9 324.4 650.6 325C646.3 325.6 643.6 323.6 639.4 325.6C635.2 327.6 628.3 332 625.3 336.9C622.2 341.8 621.6 349.8 621.1 355.2C620.6 360.6 621.3 368.3 622.5 369.2C623.7 370.1 625.8 363.9 628.1 360.8C630.5 357.8 632.4 354.2 636.6 350.9C640.8 347.6 648.8 343.9 653.5 341.1C658.2 338.3 663.1 337.3 665 334.1C666.9 330.9 667.4 323.5 665 322Z" fill="#6aaa36" stroke="#8cc850" stroke-width="0.7" stroke-opacity="0.6"/><path d="M665 322C662.6 320.5 654.9 324.4 650.6 325C646.3 325.6 643.6 323.6 639.4 325.6C635.2 327.6 628.3 332 625.3 336.9C622.2 341.8 621.6 349.8 621.1 355.2C620.6 360.6 621.3 368.3 622.5 369.2C623.7 370.1 625.8 363.9 628.1 360.8C630.5 357.8 632.4 354.2 636.6 350.9C640.8 347.6 648.8 343.9 653.5 341.1C658.2 338.3 663.1 337.3 665 334.1C666.9 330.9 667.4 323.5 665 322Z" fill="url(#lg4)" opacity="0.55"/><path d="M687.2 254.5C688.9 252.2 695.4 249.7 701.3 248.9C707.2 248.1 716.5 248.7 722.4 249.6C728.2 250.5 732.3 252.6 736.4 254.5C740.5 256.4 748.2 260.7 747 260.8C745.8 260.9 735.9 256 729.4 255.2C722.9 254.4 714.6 254.6 708.3 255.9C702 257.2 694.9 263.1 691.4 262.9C687.9 262.7 685.6 256.8 687.2 254.5Z" fill="#6aa836" stroke="#8cc850" stroke-width="0.7" stroke-opacity="0.6"/><path d="M687.2 254.5C688.9 252.2 695.4 249.7 701.3 248.9C707.2 248.1 716.5 248.7 722.4 249.6C728.2 250.5 732.3 252.6 736.4 254.5C740.5 256.4 748.2 260.7 747 260.8C745.8 260.9 735.9 256 729.4 255.2C722.9 254.4 714.6 254.6 708.3 255.9C702 257.2 694.9 263.1 691.4 262.9C687.9 262.7 685.6 256.8 687.2 254.5Z" fill="url(#lg4)" opacity="0.55"/><path d="M666.1 295.3C664.7 294.1 663.5 287.1 664.7 281.2C665.9 275.3 668.9 266.2 673.1 260.1C677.3 254 683.7 248.3 690 244.7C696.3 241.1 708.5 238.1 711.1 238.3C713.7 238.5 709.5 243.2 705.5 246.1C701.5 249 691.9 251.7 687.2 255.9C682.5 260.1 679.6 266 677.3 271.4C674.9 276.8 675 284.3 673.1 288.3C671.2 292.3 667.5 296.5 666.1 295.3Z" fill="#7cba42" stroke="#8cc850" stroke-width="0.7" stroke-opacity="0.6"/><path d="M666.1 295.3C664.7 294.1 663.5 287.1 664.7 281.2C665.9 275.3 668.9 266.2 673.1 260.1C677.3 254 683.7 248.3 690 244.7C696.3 241.1 708.5 238.1 711.1 238.3C713.7 238.5 709.5 243.2 705.5 246.1C701.5 249 691.9 251.7 687.2 255.9C682.5 260.1 679.6 266 677.3 271.4C674.9 276.8 675 284.3 673.1 288.3C671.2 292.3 667.5 296.5 666.1 295.3Z" fill="url(#lg4)" opacity="0.55"/><path d="M666 303C670 301.7 682.2 303.8 690 306C697.8 308.2 706.9 312.3 712.5 316.4C718.1 320.5 721.4 326.8 723.8 330.5C726.1 334.2 727.5 338.4 726.6 338.9C725.7 339.4 721.6 336.1 718.1 333.3C714.6 330.5 710.6 325.3 705.5 322C700.4 318.7 693.8 315 687.2 313.6C680.6 312.2 669.6 315.4 666.1 313.6C662.6 311.8 662 304.3 666 303Z" fill="#72b23c" stroke="#8cc850" stroke-width="0.7" stroke-opacity="0.6"/><path d="M666 303C670 301.7 682.2 303.8 690 306C697.8 308.2 706.9 312.3 712.5 316.4C718.1 320.5 721.4 326.8 723.8 330.5C726.1 334.2 727.5 338.4 726.6 338.9C725.7 339.4 721.6 336.1 718.1 333.3C714.6 330.5 710.6 325.3 705.5 322C700.4 318.7 693.8 315 687.2 313.6C680.6 312.2 669.6 315.4 666.1 313.6C662.6 311.8 662 304.3 666 303Z" fill="url(#lg4)" opacity="0.55"/><path d="M670.3 298.1C671.5 296 675 292.7 680.2 292.5C685.4 292.3 694.3 295.5 701.3 296.7C708.3 297.9 715.8 297.9 722.4 299.5C729 301.1 735.9 303.9 740.6 306.5C745.3 309.1 751.2 314.3 750.5 315C749.8 315.7 742.3 312 736.4 310.8C730.5 309.6 722.3 308.9 715.3 308C708.3 307.1 701.2 305.6 694.2 305.1C687.2 304.6 677.1 306.3 673.1 305.1C669.1 303.9 669.1 300.2 670.3 298.1Z" fill="#66a834" stroke="#8cc850" stroke-width="0.7" stroke-opacity="0.6"/><path d="M670.3 298.1C671.5 296 675 292.7 680.2 292.5C685.4 292.3 694.3 295.5 701.3 296.7C708.3 297.9 715.8 297.9 722.4 299.5C729 301.1 735.9 303.9 740.6 306.5C745.3 309.1 751.2 314.3 750.5 315C749.8 315.7 742.3 312 736.4 310.8C730.5 309.6 722.3 308.9 715.3 308C708.3 307.1 701.2 305.6 694.2 305.1C687.2 304.6 677.1 306.3 673.1 305.1C669.1 303.9 669.1 300.2 670.3 298.1Z" fill="url(#lg4)" opacity="0.55"/><path d="M673.1 348.1C676 346.8 682 346.9 687.2 348.1C692.4 349.3 699.4 352.4 704.1 355.2C708.8 358 712.5 361.7 715.3 365C718.1 368.3 721.5 374 721 374.9C720.5 375.8 716.3 372.7 712.5 370.6C708.7 368.5 703.5 364.5 698.4 362.2C693.2 359.9 686.3 357.6 681.6 356.6C676.9 355.6 671.4 357.4 670 356C668.6 354.6 670.2 349.4 673.1 348.1Z" fill="#62a02e" stroke="#8cc850" stroke-width="0.7" stroke-opacity="0.6"/><path d="M673.1 348.1C676 346.8 682 346.9 687.2 348.1C692.4 349.3 699.4 352.4 704.1 355.2C708.8 358 712.5 361.7 715.3 365C718.1 368.3 721.5 374 721 374.9C720.5 375.8 716.3 372.7 712.5 370.6C708.7 368.5 703.5 364.5 698.4 362.2C693.2 359.9 686.3 357.6 681.6 356.6C676.9 355.6 671.4 357.4 670 356C668.6 354.6 670.2 349.4 673.1 348.1Z" fill="url(#lg4)" opacity="0.55"/></g><ellipse cx="663" cy="300" rx="9" ry="26" fill="#a6d060" opacity="0.75" filter="url(#bl6)"/><ellipse cx="664" cy="345" rx="7" ry="14" fill="#8cbc48" opacity="0.7" filter="url(#bl6)"/><g fill="#eef4ee" filter="url(#bl5)"><circle cx="728" cy="330.5" r="2.3"/><circle cx="726.6" cy="340" r="1.6"/><circle cx="602.5" cy="288" r="1.2"/><circle cx="647" cy="375" r="1.3"/></g></g><defs><clipPath id="cp5"><rect x="796.8" y="231.1" width="96.4" height="196.9"/></clipPath><filter id="n5a" x="0" y="0" width="100%" height="100%" color-interpolation-filters="sRGB"><feTurbulence type="fractalNoise" baseFrequency="0.28" numOctaves="2" seed="7"/><feColorMatrix type="matrix" values="0 0 0 0 0.769 0 0 0 0 0.714 0 0 0 0 0.573 3.2 0 0 0 -1.75"/></filter><filter id="n5b" x="0" y="0" width="100%" height="100%" color-interpolation-filters="sRGB"><feTurbulence type="fractalNoise" baseFrequency="0.2" numOctaves="2" seed="13"/><feColorMatrix type="matrix" values="0 0 0 0 0.071 0 0 0 0 0.039 0 0 0 0 0.020 0 2.5 0 0 -0.9"/></filter><filter id="bl7"><feGaussianBlur stdDeviation="0.5"/></filter></defs><g clip-path="url(#cp5)"><rect x="796.8" y="231.1" width="96.4" height="196.9" fill="#050304"/><path d="M797 362.5 L858 362 L891 370 L891 405 L797 405 Z" fill="#3d6b58"/><clipPath id="cs5"><path d="M797 369 Q830 367 850 370 L888 376 L889 428 L797 428 Z"/></clipPath><path d="M797 369 Q830 367 850 370 L888 376 L889 428 L797 428 Z" fill="#3a2a18"/><g clip-path="url(#cs5)"><rect x="797" y="366" width="94" height="62" filter="url(#n5b)"/><rect x="797" y="366" width="94" height="62" filter="url(#n5a)"/></g><path d="M886 372 L891 372 L891 405 L888 400Z" fill="#3a6050"/><g filter="url(#bl7)"><path d="M824 242 Q828 262 833 292 Q840 340 843.5 398" stroke="#6e9c50" stroke-width="1.8" fill="none"/><path d="M830 277 Q826 272 823 268" stroke="#6fa24a" stroke-width="1.5" fill="none"/><path d="M835 322 Q841 316 841 310 Q837 316 835 324Z" fill="#6fa24a" stroke="#6fa24a"/><g fill="#f2f2ee"><circle cx="826" cy="248" r="2"/><circle cx="830" cy="253" r="2"/><circle cx="824" cy="256" r="2.2"/><circle cx="833" cy="257" r="1.6"/></g><ellipse cx="816" cy="401" rx="10" ry="5" fill="#8a8e74"/><ellipse cx="871" cy="405" rx="13" ry="6" fill="#8a8e74"/><ellipse cx="831" cy="398" rx="10" ry="4.5" fill="#72985a"/><ellipse cx="854" cy="396" rx="9" ry="5" fill="#72985a"/><ellipse cx="828" cy="412" rx="10" ry="5" fill="#6a8a58"/><ellipse cx="853" cy="406" rx="8" ry="3.5" fill="#72985a"/><ellipse cx="841.5" cy="410.5" rx="6.5" ry="2.4" fill="#c98d74"/></g></g>
<rect x="37" y="148" width="781.5" height="20" fill="#385723"/><path d="M226 148 A35 35 0 0 1 261 183 L261 200 L280.5 200 L251 229.5 L221.5 200 L241 200 L241 183 A15 15 0 0 0 226 168 Z" fill="#385723"/><path d="M423.4 148 A35 35 0 0 1 458.4 183 L458.4 200 L477.9 200 L448.4 229.5 L418.9 200 L438.4 200 L438.4 183 A15 15 0 0 0 423.4 168 Z" fill="#385723"/><path d="M627.5 148 A35 35 0 0 1 662.5 183 L662.5 200 L682 200 L652.5 229.5 L623 200 L642.5 200 L642.5 183 A15 15 0 0 0 627.5 168 Z" fill="#385723"/><path d="M818 148 A35 35 0 0 1 853 183 L853 200 L872.5 200 L843 229.5 L813.5 200 L833 200 L833 183 A15 15 0 0 0 818 168 Z" fill="#385723"/><polygon points="147,119.7 170.4,119.7 158.5,143.5" fill="#000"/><polygon points="333.3,119.7 356.8,119.7 345.2,143.5" fill="#000"/><polygon points="549.4,119.7 572.9,119.7 561.2,143.5" fill="#000"/><polygon points="198.2,630.2 201.3,627.2 214.05,627.2 210.95,630.2" fill="#bfe0a6"/><polygon points="210.95,630.2 214.05,627.2 214.05,637.3 210.95,640.3" fill="#8fb875"/><rect x="198.2" y="630.2" width="12.75" height="10.1" fill="#a9d18e"/><path d="M198.2 630.2L201.3 627.2L214.05 627.2L214.05 637.3L210.95 640.3L198.2 640.3ZM198.2 630.2L210.95 630.2M210.95 630.2L214.05 627.2" fill="none" stroke="#4a7a2c" stroke-width="0.85" stroke-linejoin="round"/><line x1="210.95" y1="630.2" x2="210.95" y2="640.3" stroke="#4a7a2c" stroke-width="0.85"/><polygon points="210.95,630.2 214.05,627.2 226.8,627.2 223.7,630.2" fill="#bfe0a6"/><polygon points="223.7,630.2 226.8,627.2 226.8,637.3 223.7,640.3" fill="#8fb875"/><rect x="210.95" y="630.2" width="12.75" height="10.1" fill="#a9d18e"/><path d="M210.95 630.2L214.05 627.2L226.8 627.2L226.8 637.3L223.7 640.3L210.95 640.3ZM210.95 630.2L223.7 630.2M223.7 630.2L226.8 627.2" fill="none" stroke="#4a7a2c" stroke-width="0.85" stroke-linejoin="round"/><line x1="223.7" y1="630.2" x2="223.7" y2="640.3" stroke="#4a7a2c" stroke-width="0.85"/><polygon points="223.7,630.2 226.8,627.2 239.55,627.2 236.45,630.2" fill="#bfe0a6"/><polygon points="236.45,630.2 239.55,627.2 239.55,637.3 236.45,640.3" fill="#8fb875"/><rect x="223.7" y="630.2" width="12.75" height="10.1" fill="#a9d18e"/><path d="M223.7 630.2L226.8 627.2L239.55 627.2L239.55 637.3L236.45 640.3L223.7 640.3ZM223.7 630.2L236.45 630.2M236.45 630.2L239.55 627.2" fill="none" stroke="#4a7a2c" stroke-width="0.85" stroke-linejoin="round"/><line x1="236.45" y1="630.2" x2="236.45" y2="640.3" stroke="#4a7a2c" stroke-width="0.85"/><polygon points="236.45,630.2 239.55,627.2 252.3,627.2 249.2,630.2" fill="#bfe0a6"/><polygon points="249.2,630.2 252.3,627.2 252.3,637.3 249.2,640.3" fill="#8fb875"/><rect x="236.45" y="630.2" width="12.75" height="10.1" fill="#a9d18e"/><path d="M236.45 630.2L239.55 627.2L252.3 627.2L252.3 637.3L249.2 640.3L236.45 640.3ZM236.45 630.2L249.2 630.2M249.2 630.2L252.3 627.2" fill="none" stroke="#4a7a2c" stroke-width="0.85" stroke-linejoin="round"/><line x1="249.2" y1="630.2" x2="249.2" y2="640.3" stroke="#4a7a2c" stroke-width="0.85"/><polygon points="249.2,630.2 252.3,627.2 265.05,627.2 261.95,630.2" fill="#bfe0a6"/><polygon points="261.95,630.2 265.05,627.2 265.05,637.3 261.95,640.3" fill="#8fb875"/><rect x="249.2" y="630.2" width="12.75" height="10.1" fill="#a9d18e"/><path d="M249.2 630.2L252.3 627.2L265.05 627.2L265.05 637.3L261.95 640.3L249.2 640.3ZM249.2 630.2L261.95 630.2M261.95 630.2L265.05 627.2" fill="none" stroke="#4a7a2c" stroke-width="0.85" stroke-linejoin="round"/><line x1="261.95" y1="630.2" x2="261.95" y2="640.3" stroke="#4a7a2c" stroke-width="0.85"/><polygon points="261.95,630.2 265.05,627.2 277.8,627.2 274.7,630.2" fill="#bfe0a6"/><polygon points="274.7,630.2 277.8,627.2 277.8,637.3 274.7,640.3" fill="#8fb875"/><rect x="261.95" y="630.2" width="12.75" height="10.1" fill="#a9d18e"/><path d="M261.95 630.2L265.05 627.2L277.8 627.2L277.8 637.3L274.7 640.3L261.95 640.3ZM261.95 630.2L274.7 630.2M274.7 630.2L277.8 627.2" fill="none" stroke="#4a7a2c" stroke-width="0.85" stroke-linejoin="round"/><line x1="274.7" y1="630.2" x2="274.7" y2="640.3" stroke="#4a7a2c" stroke-width="0.85"/><polygon points="274.7,630.2 277.8,627.2 290.55,627.2 287.45,630.2" fill="#bfe0a6"/><polygon points="287.45,630.2 290.55,627.2 290.55,637.3 287.45,640.3" fill="#8fb875"/><rect x="274.7" y="630.2" width="12.75" height="10.1" fill="#a9d18e"/><path d="M274.7 630.2L277.8 627.2L290.55 627.2L290.55 637.3L287.45 640.3L274.7 640.3ZM274.7 630.2L287.45 630.2M287.45 630.2L290.55 627.2" fill="none" stroke="#4a7a2c" stroke-width="0.85" stroke-linejoin="round"/><line x1="287.45" y1="630.2" x2="287.45" y2="640.3" stroke="#4a7a2c" stroke-width="0.85"/><polygon points="287.45,630.2 290.55,627.2 303.3,627.2 300.2,630.2" fill="#bfe0a6"/><polygon points="300.2,630.2 303.3,627.2 303.3,637.3 300.2,640.3" fill="#8fb875"/><rect x="287.45" y="630.2" width="12.75" height="10.1" fill="#a9d18e"/><path d="M287.45 630.2L290.55 627.2L303.3 627.2L303.3 637.3L300.2 640.3L287.45 640.3ZM287.45 630.2L300.2 630.2M300.2 630.2L303.3 627.2" fill="none" stroke="#4a7a2c" stroke-width="0.85" stroke-linejoin="round"/><line x1="300.2" y1="630.2" x2="300.2" y2="640.3" stroke="#4a7a2c" stroke-width="0.85"/><polygon points="206.87,662.98 209.8,660 222.6,660 219.67,662.98" fill="#bfe0a6"/><polygon points="219.67,662.98 222.6,660 222.6,669.5 219.67,672.48" fill="#8fb875"/><rect x="206.87" y="662.98" width="12.8" height="9.5" fill="#a9d18e"/><path d="M206.87 662.98L209.8 660L222.6 660L222.6 669.5L219.67 672.48L206.87 672.48ZM206.87 662.98L219.67 662.98M219.67 662.98L222.6 660" fill="none" stroke="#4a7a2c" stroke-width="0.85" stroke-linejoin="round"/><line x1="219.67" y1="662.98" x2="219.67" y2="672.48" stroke="#4a7a2c" stroke-width="0.85"/><polygon points="219.67,662.98 222.6,660 235.4,660 232.47,662.98" fill="#bfe0a6"/><polygon points="232.47,662.98 235.4,660 235.4,669.5 232.47,672.48" fill="#8fb875"/><rect x="219.67" y="662.98" width="12.8" height="9.5" fill="#a9d18e"/><path d="M219.67 662.98L222.6 660L235.4 660L235.4 669.5L232.47 672.48L219.67 672.48ZM219.67 662.98L232.47 662.98M232.47 662.98L235.4 660" fill="none" stroke="#4a7a2c" stroke-width="0.85" stroke-linejoin="round"/><line x1="232.47" y1="662.98" x2="232.47" y2="672.48" stroke="#4a7a2c" stroke-width="0.85"/><polygon points="232.47,662.98 235.4,660 248.2,660 245.27,662.98" fill="#bfe0a6"/><polygon points="245.27,662.98 248.2,660 248.2,669.5 245.27,672.48" fill="#8fb875"/><rect x="232.47" y="662.98" width="12.8" height="9.5" fill="#a9d18e"/><path d="M232.47 662.98L235.4 660L248.2 660L248.2 669.5L245.27 672.48L232.47 672.48ZM232.47 662.98L245.27 662.98M245.27 662.98L248.2 660" fill="none" stroke="#4a7a2c" stroke-width="0.85" stroke-linejoin="round"/><line x1="245.27" y1="662.98" x2="245.27" y2="672.48" stroke="#4a7a2c" stroke-width="0.85"/><polygon points="245.27,662.98 248.2,660 261,660 258.07,662.98" fill="#bfe0a6"/><polygon points="258.07,662.98 261,660 261,669.5 258.07,672.48" fill="#8fb875"/><rect x="245.27" y="662.98" width="12.8" height="9.5" fill="#a9d18e"/><path d="M245.27 662.98L248.2 660L261 660L261 669.5L258.07 672.48L245.27 672.48ZM245.27 662.98L258.07 662.98M258.07 662.98L261 660" fill="none" stroke="#4a7a2c" stroke-width="0.85" stroke-linejoin="round"/><line x1="258.07" y1="662.98" x2="258.07" y2="672.48" stroke="#4a7a2c" stroke-width="0.85"/><polygon points="258.07,662.98 261,660 273.8,660 270.87,662.98" fill="#bfe0a6"/><polygon points="270.87,662.98 273.8,660 273.8,669.5 270.87,672.48" fill="#8fb875"/><rect x="258.07" y="662.98" width="12.8" height="9.5" fill="#a9d18e"/><path d="M258.07 662.98L261 660L273.8 660L273.8 669.5L270.87 672.48L258.07 672.48ZM258.07 662.98L270.87 662.98M270.87 662.98L273.8 660" fill="none" stroke="#4a7a2c" stroke-width="0.85" stroke-linejoin="round"/><line x1="270.87" y1="662.98" x2="270.87" y2="672.48" stroke="#4a7a2c" stroke-width="0.85"/><polygon points="270.87,662.98 273.8,660 286.6,660 283.67,662.98" fill="#bfe0a6"/><polygon points="283.67,662.98 286.6,660 286.6,669.5 283.67,672.48" fill="#8fb875"/><rect x="270.87" y="662.98" width="12.8" height="9.5" fill="#a9d18e"/><path d="M270.87 662.98L273.8 660L286.6 660L286.6 669.5L283.67 672.48L270.87 672.48ZM270.87 662.98L283.67 662.98M283.67 662.98L286.6 660" fill="none" stroke="#4a7a2c" stroke-width="0.85" stroke-linejoin="round"/><line x1="283.67" y1="662.98" x2="283.67" y2="672.48" stroke="#4a7a2c" stroke-width="0.85"/><polygon points="283.67,662.98 286.6,660 299.4,660 296.47,662.98" fill="#bfe0a6"/><polygon points="296.47,662.98 299.4,660 299.4,669.5 296.47,672.48" fill="#8fb875"/><rect x="283.67" y="662.98" width="12.8" height="9.5" fill="#a9d18e"/><path d="M283.67 662.98L286.6 660L299.4 660L299.4 669.5L296.47 672.48L283.67 672.48ZM283.67 662.98L296.47 662.98M296.47 662.98L299.4 660" fill="none" stroke="#4a7a2c" stroke-width="0.85" stroke-linejoin="round"/><line x1="296.47" y1="662.98" x2="296.47" y2="672.48" stroke="#4a7a2c" stroke-width="0.85"/><polygon points="296.47,662.98 299.4,660 312.2,660 309.27,662.98" fill="#bfe0a6"/><polygon points="309.27,662.98 312.2,660 312.2,669.5 309.27,672.48" fill="#8fb875"/><rect x="296.47" y="662.98" width="12.8" height="9.5" fill="#a9d18e"/><path d="M296.47 662.98L299.4 660L312.2 660L312.2 669.5L309.27 672.48L296.47 672.48ZM296.47 662.98L309.27 662.98M309.27 662.98L312.2 660" fill="none" stroke="#4a7a2c" stroke-width="0.85" stroke-linejoin="round"/><line x1="309.27" y1="662.98" x2="309.27" y2="672.48" stroke="#4a7a2c" stroke-width="0.85"/><polygon points="203.94,665.96 206.87,662.98 219.67,662.98 216.74,665.96" fill="#bfe0a6"/><polygon points="216.74,665.96 219.67,662.98 219.67,672.48 216.74,675.46" fill="#8fb875"/><rect x="203.94" y="665.96" width="12.8" height="9.5" fill="#a9d18e"/><path d="M203.94 665.96L206.87 662.98L219.67 662.98L219.67 672.48L216.74 675.46L203.94 675.46ZM203.94 665.96L216.74 665.96M216.74 665.96L219.67 662.98" fill="none" stroke="#4a7a2c" stroke-width="0.85" stroke-linejoin="round"/><line x1="216.74" y1="665.96" x2="216.74" y2="675.46" stroke="#4a7a2c" stroke-width="0.85"/><polygon points="216.74,665.96 219.67,662.98 232.47,662.98 229.54,665.96" fill="#bfe0a6"/><polygon points="229.54,665.96 232.47,662.98 232.47,672.48 229.54,675.46" fill="#8fb875"/><rect x="216.74" y="665.96" width="12.8" height="9.5" fill="#a9d18e"/><path d="M216.74 665.96L219.67 662.98L232.47 662.98L232.47 672.48L229.54 675.46L216.74 675.46ZM216.74 665.96L229.54 665.96M229.54 665.96L232.47 662.98" fill="none" stroke="#4a7a2c" stroke-width="0.85" stroke-linejoin="round"/><line x1="229.54" y1="665.96" x2="229.54" y2="675.46" stroke="#4a7a2c" stroke-width="0.85"/><polygon points="229.54,665.96 232.47,662.98 245.27,662.98 242.34,665.96" fill="#bfe0a6"/><polygon points="242.34,665.96 245.27,662.98 245.27,672.48 242.34,675.46" fill="#8fb875"/><rect x="229.54" y="665.96" width="12.8" height="9.5" fill="#a9d18e"/><path d="M229.54 665.96L232.47 662.98L245.27 662.98L245.27 672.48L242.34 675.46L229.54 675.46ZM229.54 665.96L242.34 665.96M242.34 665.96L245.27 662.98" fill="none" stroke="#4a7a2c" stroke-width="0.85" stroke-linejoin="round"/><line x1="242.34" y1="665.96" x2="242.34" y2="675.46" stroke="#4a7a2c" stroke-width="0.85"/><polygon points="242.34,665.96 245.27,662.98 258.07,662.98 255.14,665.96" fill="#bfe0a6"/><polygon points="255.14,665.96 258.07,662.98 258.07,672.48 255.14,675.46" fill="#8fb875"/><rect x="242.34" y="665.96" width="12.8" height="9.5" fill="#a9d18e"/><path d="M242.34 665.96L245.27 662.98L258.07 662.98L258.07 672.48L255.14 675.46L242.34 675.46ZM242.34 665.96L255.14 665.96M255.14 665.96L258.07 662.98" fill="none" stroke="#4a7a2c" stroke-width="0.85" stroke-linejoin="round"/><line x1="255.14" y1="665.96" x2="255.14" y2="675.46" stroke="#4a7a2c" stroke-width="0.85"/><polygon points="255.14,665.96 258.07,662.98 270.87,662.98 267.94,665.96" fill="#bfe0a6"/><polygon points="267.94,665.96 270.87,662.98 270.87,672.48 267.94,675.46" fill="#8fb875"/><rect x="255.14" y="665.96" width="12.8" height="9.5" fill="#a9d18e"/><path d="M255.14 665.96L258.07 662.98L270.87 662.98L270.87 672.48L267.94 675.46L255.14 675.46ZM255.14 665.96L267.94 665.96M267.94 665.96L270.87 662.98" fill="none" stroke="#4a7a2c" stroke-width="0.85" stroke-linejoin="round"/><line x1="267.94" y1="665.96" x2="267.94" y2="675.46" stroke="#4a7a2c" stroke-width="0.85"/><polygon points="267.94,665.96 270.87,662.98 283.67,662.98 280.74,665.96" fill="#bfe0a6"/><polygon points="280.74,665.96 283.67,662.98 283.67,672.48 280.74,675.46" fill="#8fb875"/><rect x="267.94" y="665.96" width="12.8" height="9.5" fill="#a9d18e"/><path d="M267.94 665.96L270.87 662.98L283.67 662.98L283.67 672.48L280.74 675.46L267.94 675.46ZM267.94 665.96L280.74 665.96M280.74 665.96L283.67 662.98" fill="none" stroke="#4a7a2c" stroke-width="0.85" stroke-linejoin="round"/><line x1="280.74" y1="665.96" x2="280.74" y2="675.46" stroke="#4a7a2c" stroke-width="0.85"/><polygon points="280.74,665.96 283.67,662.98 296.47,662.98 293.54,665.96" fill="#bfe0a6"/><polygon points="293.54,665.96 296.47,662.98 296.47,672.48 293.54,675.46" fill="#8fb875"/><rect x="280.74" y="665.96" width="12.8" height="9.5" fill="#a9d18e"/><path d="M280.74 665.96L283.67 662.98L296.47 662.98L296.47 672.48L293.54 675.46L280.74 675.46ZM280.74 665.96L293.54 665.96M293.54 665.96L296.47 662.98" fill="none" stroke="#4a7a2c" stroke-width="0.85" stroke-linejoin="round"/><line x1="293.54" y1="665.96" x2="293.54" y2="675.46" stroke="#4a7a2c" stroke-width="0.85"/><polygon points="293.54,665.96 296.47,662.98 309.27,662.98 306.34,665.96" fill="#bfe0a6"/><polygon points="306.34,665.96 309.27,662.98 309.27,672.48 306.34,675.46" fill="#8fb875"/><rect x="293.54" y="665.96" width="12.8" height="9.5" fill="#a9d18e"/><path d="M293.54 665.96L296.47 662.98L309.27 662.98L309.27 672.48L306.34 675.46L293.54 675.46ZM293.54 665.96L306.34 665.96M306.34 665.96L309.27 662.98" fill="none" stroke="#4a7a2c" stroke-width="0.85" stroke-linejoin="round"/><line x1="306.34" y1="665.96" x2="306.34" y2="675.46" stroke="#4a7a2c" stroke-width="0.85"/><polygon points="201.01,668.94 203.94,665.96 216.74,665.96 213.81,668.94" fill="#bfe0a6"/><polygon points="213.81,668.94 216.74,665.96 216.74,675.46 213.81,678.44" fill="#8fb875"/><rect x="201.01" y="668.94" width="12.8" height="9.5" fill="#a9d18e"/><path d="M201.01 668.94L203.94 665.96L216.74 665.96L216.74 675.46L213.81 678.44L201.01 678.44ZM201.01 668.94L213.81 668.94M213.81 668.94L216.74 665.96" fill="none" stroke="#4a7a2c" stroke-width="0.85" stroke-linejoin="round"/><line x1="213.81" y1="668.94" x2="213.81" y2="678.44" stroke="#4a7a2c" stroke-width="0.85"/><polygon points="213.81,668.94 216.74,665.96 229.54,665.96 226.61,668.94" fill="#bfe0a6"/><polygon points="226.61,668.94 229.54,665.96 229.54,675.46 226.61,678.44" fill="#8fb875"/><rect x="213.81" y="668.94" width="12.8" height="9.5" fill="#a9d18e"/><path d="M213.81 668.94L216.74 665.96L229.54 665.96L229.54 675.46L226.61 678.44L213.81 678.44ZM213.81 668.94L226.61 668.94M226.61 668.94L229.54 665.96" fill="none" stroke="#4a7a2c" stroke-width="0.85" stroke-linejoin="round"/><line x1="226.61" y1="668.94" x2="226.61" y2="678.44" stroke="#4a7a2c" stroke-width="0.85"/><polygon points="226.61,668.94 229.54,665.96 242.34,665.96 239.41,668.94" fill="#bfe0a6"/><polygon points="239.41,668.94 242.34,665.96 242.34,675.46 239.41,678.44" fill="#8fb875"/><rect x="226.61" y="668.94" width="12.8" height="9.5" fill="#a9d18e"/><path d="M226.61 668.94L229.54 665.96L242.34 665.96L242.34 675.46L239.41 678.44L226.61 678.44ZM226.61 668.94L239.41 668.94M239.41 668.94L242.34 665.96" fill="none" stroke="#4a7a2c" stroke-width="0.85" stroke-linejoin="round"/><line x1="239.41" y1="668.94" x2="239.41" y2="678.44" stroke="#4a7a2c" stroke-width="0.85"/><polygon points="239.41,668.94 242.34,665.96 255.14,665.96 252.21,668.94" fill="#bfe0a6"/><polygon points="252.21,668.94 255.14,665.96 255.14,675.46 252.21,678.44" fill="#8fb875"/><rect x="239.41" y="668.94" width="12.8" height="9.5" fill="#a9d18e"/><path d="M239.41 668.94L242.34 665.96L255.14 665.96L255.14 675.46L252.21 678.44L239.41 678.44ZM239.41 668.94L252.21 668.94M252.21 668.94L255.14 665.96" fill="none" stroke="#4a7a2c" stroke-width="0.85" stroke-linejoin="round"/><line x1="252.21" y1="668.94" x2="252.21" y2="678.44" stroke="#4a7a2c" stroke-width="0.85"/><polygon points="252.21,668.94 255.14,665.96 267.94,665.96 265.01,668.94" fill="#bfe0a6"/><polygon points="265.01,668.94 267.94,665.96 267.94,675.46 265.01,678.44" fill="#8fb875"/><rect x="252.21" y="668.94" width="12.8" height="9.5" fill="#a9d18e"/><path d="M252.21 668.94L255.14 665.96L267.94 665.96L267.94 675.46L265.01 678.44L252.21 678.44ZM252.21 668.94L265.01 668.94M265.01 668.94L267.94 665.96" fill="none" stroke="#4a7a2c" stroke-width="0.85" stroke-linejoin="round"/><line x1="265.01" y1="668.94" x2="265.01" y2="678.44" stroke="#4a7a2c" stroke-width="0.85"/><polygon points="265.01,668.94 267.94,665.96 280.74,665.96 277.81,668.94" fill="#bfe0a6"/><polygon points="277.81,668.94 280.74,665.96 280.74,675.46 277.81,678.44" fill="#8fb875"/><rect x="265.01" y="668.94" width="12.8" height="9.5" fill="#a9d18e"/><path d="M265.01 668.94L267.94 665.96L280.74 665.96L280.74 675.46L277.81 678.44L265.01 678.44ZM265.01 668.94L277.81 668.94M277.81 668.94L280.74 665.96" fill="none" stroke="#4a7a2c" stroke-width="0.85" stroke-linejoin="round"/><line x1="277.81" y1="668.94" x2="277.81" y2="678.44" stroke="#4a7a2c" stroke-width="0.85"/><polygon points="277.81,668.94 280.74,665.96 293.54,665.96 290.61,668.94" fill="#bfe0a6"/><polygon points="290.61,668.94 293.54,665.96 293.54,675.46 290.61,678.44" fill="#8fb875"/><rect x="277.81" y="668.94" width="12.8" height="9.5" fill="#a9d18e"/><path d="M277.81 668.94L280.74 665.96L293.54 665.96L293.54 675.46L290.61 678.44L277.81 678.44ZM277.81 668.94L290.61 668.94M290.61 668.94L293.54 665.96" fill="none" stroke="#4a7a2c" stroke-width="0.85" stroke-linejoin="round"/><line x1="290.61" y1="668.94" x2="290.61" y2="678.44" stroke="#4a7a2c" stroke-width="0.85"/><polygon points="290.61,668.94 293.54,665.96 306.34,665.96 303.41,668.94" fill="#bfe0a6"/><polygon points="303.41,668.94 306.34,665.96 306.34,675.46 303.41,678.44" fill="#8fb875"/><rect x="290.61" y="668.94" width="12.8" height="9.5" fill="#a9d18e"/><path d="M290.61 668.94L293.54 665.96L306.34 665.96L306.34 675.46L303.41 678.44L290.61 678.44ZM290.61 668.94L303.41 668.94M303.41 668.94L306.34 665.96" fill="none" stroke="#4a7a2c" stroke-width="0.85" stroke-linejoin="round"/><line x1="303.41" y1="668.94" x2="303.41" y2="678.44" stroke="#4a7a2c" stroke-width="0.85"/><polygon points="198.08,671.92 201.01,668.94 213.81,668.94 210.88,671.92" fill="#bfe0a6"/><polygon points="210.88,671.92 213.81,668.94 213.81,678.44 210.88,681.42" fill="#8fb875"/><rect x="198.08" y="671.92" width="12.8" height="9.5" fill="#a9d18e"/><path d="M198.08 671.92L201.01 668.94L213.81 668.94L213.81 678.44L210.88 681.42L198.08 681.42ZM198.08 671.92L210.88 671.92M210.88 671.92L213.81 668.94" fill="none" stroke="#4a7a2c" stroke-width="0.85" stroke-linejoin="round"/><line x1="210.88" y1="671.92" x2="210.88" y2="681.42" stroke="#4a7a2c" stroke-width="0.85"/><polygon points="210.88,671.92 213.81,668.94 226.61,668.94 223.68,671.92" fill="#bfe0a6"/><polygon points="223.68,671.92 226.61,668.94 226.61,678.44 223.68,681.42" fill="#8fb875"/><rect x="210.88" y="671.92" width="12.8" height="9.5" fill="#a9d18e"/><path d="M210.88 671.92L213.81 668.94L226.61 668.94L226.61 678.44L223.68 681.42L210.88 681.42ZM210.88 671.92L223.68 671.92M223.68 671.92L226.61 668.94" fill="none" stroke="#4a7a2c" stroke-width="0.85" stroke-linejoin="round"/><line x1="223.68" y1="671.92" x2="223.68" y2="681.42" stroke="#4a7a2c" stroke-width="0.85"/><polygon points="223.68,671.92 226.61,668.94 239.41,668.94 236.48,671.92" fill="#bfe0a6"/><polygon points="236.48,671.92 239.41,668.94 239.41,678.44 236.48,681.42" fill="#8fb875"/><rect x="223.68" y="671.92" width="12.8" height="9.5" fill="#a9d18e"/><path d="M223.68 671.92L226.61 668.94L239.41 668.94L239.41 678.44L236.48 681.42L223.68 681.42ZM223.68 671.92L236.48 671.92M236.48 671.92L239.41 668.94" fill="none" stroke="#4a7a2c" stroke-width="0.85" stroke-linejoin="round"/><line x1="236.48" y1="671.92" x2="236.48" y2="681.42" stroke="#4a7a2c" stroke-width="0.85"/><polygon points="236.48,671.92 239.41,668.94 252.21,668.94 249.28,671.92" fill="#bfe0a6"/><polygon points="249.28,671.92 252.21,668.94 252.21,678.44 249.28,681.42" fill="#8fb875"/><rect x="236.48" y="671.92" width="12.8" height="9.5" fill="#a9d18e"/><path d="M236.48 671.92L239.41 668.94L252.21 668.94L252.21 678.44L249.28 681.42L236.48 681.42ZM236.48 671.92L249.28 671.92M249.28 671.92L252.21 668.94" fill="none" stroke="#4a7a2c" stroke-width="0.85" stroke-linejoin="round"/><line x1="249.28" y1="671.92" x2="249.28" y2="681.42" stroke="#4a7a2c" stroke-width="0.85"/><polygon points="249.28,671.92 252.21,668.94 265.01,668.94 262.08,671.92" fill="#bfe0a6"/><polygon points="262.08,671.92 265.01,668.94 265.01,678.44 262.08,681.42" fill="#8fb875"/><rect x="249.28" y="671.92" width="12.8" height="9.5" fill="#a9d18e"/><path d="M249.28 671.92L252.21 668.94L265.01 668.94L265.01 678.44L262.08 681.42L249.28 681.42ZM249.28 671.92L262.08 671.92M262.08 671.92L265.01 668.94" fill="none" stroke="#4a7a2c" stroke-width="0.85" stroke-linejoin="round"/><line x1="262.08" y1="671.92" x2="262.08" y2="681.42" stroke="#4a7a2c" stroke-width="0.85"/><polygon points="262.08,671.92 265.01,668.94 277.81,668.94 274.88,671.92" fill="#bfe0a6"/><polygon points="274.88,671.92 277.81,668.94 277.81,678.44 274.88,681.42" fill="#8fb875"/><rect x="262.08" y="671.92" width="12.8" height="9.5" fill="#a9d18e"/><path d="M262.08 671.92L265.01 668.94L277.81 668.94L277.81 678.44L274.88 681.42L262.08 681.42ZM262.08 671.92L274.88 671.92M274.88 671.92L277.81 668.94" fill="none" stroke="#4a7a2c" stroke-width="0.85" stroke-linejoin="round"/><line x1="274.88" y1="671.92" x2="274.88" y2="681.42" stroke="#4a7a2c" stroke-width="0.85"/><polygon points="274.88,671.92 277.81,668.94 290.61,668.94 287.68,671.92" fill="#bfe0a6"/><polygon points="287.68,671.92 290.61,668.94 290.61,678.44 287.68,681.42" fill="#8fb875"/><rect x="274.88" y="671.92" width="12.8" height="9.5" fill="#a9d18e"/><path d="M274.88 671.92L277.81 668.94L290.61 668.94L290.61 678.44L287.68 681.42L274.88 681.42ZM274.88 671.92L287.68 671.92M287.68 671.92L290.61 668.94" fill="none" stroke="#4a7a2c" stroke-width="0.85" stroke-linejoin="round"/><line x1="287.68" y1="671.92" x2="287.68" y2="681.42" stroke="#4a7a2c" stroke-width="0.85"/><polygon points="287.68,671.92 290.61,668.94 303.41,668.94 300.48,671.92" fill="#bfe0a6"/><polygon points="300.48,671.92 303.41,668.94 303.41,678.44 300.48,681.42" fill="#8fb875"/><rect x="287.68" y="671.92" width="12.8" height="9.5" fill="#a9d18e"/><path d="M287.68 671.92L290.61 668.94L303.41 668.94L303.41 678.44L300.48 681.42L287.68 681.42ZM287.68 671.92L300.48 671.92M300.48 671.92L303.41 668.94" fill="none" stroke="#4a7a2c" stroke-width="0.85" stroke-linejoin="round"/><line x1="300.48" y1="671.92" x2="300.48" y2="681.42" stroke="#4a7a2c" stroke-width="0.85"/><polygon points="195.15,674.9 198.08,671.92 210.88,671.92 207.95,674.9" fill="#bfe0a6"/><polygon points="207.95,674.9 210.88,671.92 210.88,681.42 207.95,684.4" fill="#8fb875"/><rect x="195.15" y="674.9" width="12.8" height="9.5" fill="#a9d18e"/><path d="M195.15 674.9L198.08 671.92L210.88 671.92L210.88 681.42L207.95 684.4L195.15 684.4ZM195.15 674.9L207.95 674.9M207.95 674.9L210.88 671.92" fill="none" stroke="#4a7a2c" stroke-width="0.85" stroke-linejoin="round"/><line x1="207.95" y1="674.9" x2="207.95" y2="684.4" stroke="#4a7a2c" stroke-width="0.85"/><polygon points="207.95,674.9 210.88,671.92 223.68,671.92 220.75,674.9" fill="#bfe0a6"/><polygon points="220.75,674.9 223.68,671.92 223.68,681.42 220.75,684.4" fill="#8fb875"/><rect x="207.95" y="674.9" width="12.8" height="9.5" fill="#a9d18e"/><path d="M207.95 674.9L210.88 671.92L223.68 671.92L223.68 681.42L220.75 684.4L207.95 684.4ZM207.95 674.9L220.75 674.9M220.75 674.9L223.68 671.92" fill="none" stroke="#4a7a2c" stroke-width="0.85" stroke-linejoin="round"/><line x1="220.75" y1="674.9" x2="220.75" y2="684.4" stroke="#4a7a2c" stroke-width="0.85"/><polygon points="220.75,674.9 223.68,671.92 236.48,671.92 233.55,674.9" fill="#bfe0a6"/><polygon points="233.55,674.9 236.48,671.92 236.48,681.42 233.55,684.4" fill="#8fb875"/><rect x="220.75" y="674.9" width="12.8" height="9.5" fill="#a9d18e"/><path d="M220.75 674.9L223.68 671.92L236.48 671.92L236.48 681.42L233.55 684.4L220.75 684.4ZM220.75 674.9L233.55 674.9M233.55 674.9L236.48 671.92" fill="none" stroke="#4a7a2c" stroke-width="0.85" stroke-linejoin="round"/><line x1="233.55" y1="674.9" x2="233.55" y2="684.4" stroke="#4a7a2c" stroke-width="0.85"/><polygon points="233.55,674.9 236.48,671.92 249.28,671.92 246.35,674.9" fill="#bfe0a6"/><polygon points="246.35,674.9 249.28,671.92 249.28,681.42 246.35,684.4" fill="#8fb875"/><rect x="233.55" y="674.9" width="12.8" height="9.5" fill="#a9d18e"/><path d="M233.55 674.9L236.48 671.92L249.28 671.92L249.28 681.42L246.35 684.4L233.55 684.4ZM233.55 674.9L246.35 674.9M246.35 674.9L249.28 671.92" fill="none" stroke="#4a7a2c" stroke-width="0.85" stroke-linejoin="round"/><line x1="246.35" y1="674.9" x2="246.35" y2="684.4" stroke="#4a7a2c" stroke-width="0.85"/><polygon points="246.35,674.9 249.28,671.92 262.08,671.92 259.15,674.9" fill="#bfe0a6"/><polygon points="259.15,674.9 262.08,671.92 262.08,681.42 259.15,684.4" fill="#8fb875"/><rect x="246.35" y="674.9" width="12.8" height="9.5" fill="#a9d18e"/><path d="M246.35 674.9L249.28 671.92L262.08 671.92L262.08 681.42L259.15 684.4L246.35 684.4ZM246.35 674.9L259.15 674.9M259.15 674.9L262.08 671.92" fill="none" stroke="#4a7a2c" stroke-width="0.85" stroke-linejoin="round"/><line x1="259.15" y1="674.9" x2="259.15" y2="684.4" stroke="#4a7a2c" stroke-width="0.85"/><polygon points="259.15,674.9 262.08,671.92 274.88,671.92 271.95,674.9" fill="#bfe0a6"/><polygon points="271.95,674.9 274.88,671.92 274.88,681.42 271.95,684.4" fill="#8fb875"/><rect x="259.15" y="674.9" width="12.8" height="9.5" fill="#a9d18e"/><path d="M259.15 674.9L262.08 671.92L274.88 671.92L274.88 681.42L271.95 684.4L259.15 684.4ZM259.15 674.9L271.95 674.9M271.95 674.9L274.88 671.92" fill="none" stroke="#4a7a2c" stroke-width="0.85" stroke-linejoin="round"/><line x1="271.95" y1="674.9" x2="271.95" y2="684.4" stroke="#4a7a2c" stroke-width="0.85"/><polygon points="271.95,674.9 274.88,671.92 287.68,671.92 284.75,674.9" fill="#bfe0a6"/><polygon points="284.75,674.9 287.68,671.92 287.68,681.42 284.75,684.4" fill="#8fb875"/><rect x="271.95" y="674.9" width="12.8" height="9.5" fill="#a9d18e"/><path d="M271.95 674.9L274.88 671.92L287.68 671.92L287.68 681.42L284.75 684.4L271.95 684.4ZM271.95 674.9L284.75 674.9M284.75 674.9L287.68 671.92" fill="none" stroke="#4a7a2c" stroke-width="0.85" stroke-linejoin="round"/><line x1="284.75" y1="674.9" x2="284.75" y2="684.4" stroke="#4a7a2c" stroke-width="0.85"/><polygon points="284.75,674.9 287.68,671.92 300.48,671.92 297.55,674.9" fill="#bfe0a6"/><polygon points="297.55,674.9 300.48,671.92 300.48,681.42 297.55,684.4" fill="#8fb875"/><rect x="284.75" y="674.9" width="12.8" height="9.5" fill="#a9d18e"/><path d="M284.75 674.9L287.68 671.92L300.48 671.92L300.48 681.42L297.55 684.4L284.75 684.4ZM284.75 674.9L297.55 674.9M297.55 674.9L300.48 671.92" fill="none" stroke="#4a7a2c" stroke-width="0.85" stroke-linejoin="round"/><line x1="297.55" y1="674.9" x2="297.55" y2="684.4" stroke="#4a7a2c" stroke-width="0.85"/><polygon points="192.22,677.88 195.15,674.9 207.95,674.9 205.02,677.88" fill="#bfe0a6"/><polygon points="205.02,677.88 207.95,674.9 207.95,684.4 205.02,687.38" fill="#8fb875"/><rect x="192.22" y="677.88" width="12.8" height="9.5" fill="#a9d18e"/><path d="M192.22 677.88L195.15 674.9L207.95 674.9L207.95 684.4L205.02 687.38L192.22 687.38ZM192.22 677.88L205.02 677.88M205.02 677.88L207.95 674.9" fill="none" stroke="#4a7a2c" stroke-width="0.85" stroke-linejoin="round"/><line x1="205.02" y1="677.88" x2="205.02" y2="687.38" stroke="#4a7a2c" stroke-width="0.85"/><polygon points="205.02,677.88 207.95,674.9 220.75,674.9 217.82,677.88" fill="#bfe0a6"/><polygon points="217.82,677.88 220.75,674.9 220.75,684.4 217.82,687.38" fill="#8fb875"/><rect x="205.02" y="677.88" width="12.8" height="9.5" fill="#a9d18e"/><path d="M205.02 677.88L207.95 674.9L220.75 674.9L220.75 684.4L217.82 687.38L205.02 687.38ZM205.02 677.88L217.82 677.88M217.82 677.88L220.75 674.9" fill="none" stroke="#4a7a2c" stroke-width="0.85" stroke-linejoin="round"/><line x1="217.82" y1="677.88" x2="217.82" y2="687.38" stroke="#4a7a2c" stroke-width="0.85"/><polygon points="217.82,677.88 220.75,674.9 233.55,674.9 230.62,677.88" fill="#bfe0a6"/><polygon points="230.62,677.88 233.55,674.9 233.55,684.4 230.62,687.38" fill="#8fb875"/><rect x="217.82" y="677.88" width="12.8" height="9.5" fill="#a9d18e"/><path d="M217.82 677.88L220.75 674.9L233.55 674.9L233.55 684.4L230.62 687.38L217.82 687.38ZM217.82 677.88L230.62 677.88M230.62 677.88L233.55 674.9" fill="none" stroke="#4a7a2c" stroke-width="0.85" stroke-linejoin="round"/><line x1="230.62" y1="677.88" x2="230.62" y2="687.38" stroke="#4a7a2c" stroke-width="0.85"/><polygon points="230.62,677.88 233.55,674.9 246.35,674.9 243.42,677.88" fill="#bfe0a6"/><polygon points="243.42,677.88 246.35,674.9 246.35,684.4 243.42,687.38" fill="#8fb875"/><rect x="230.62" y="677.88" width="12.8" height="9.5" fill="#a9d18e"/><path d="M230.62 677.88L233.55 674.9L246.35 674.9L246.35 684.4L243.42 687.38L230.62 687.38ZM230.62 677.88L243.42 677.88M243.42 677.88L246.35 674.9" fill="none" stroke="#4a7a2c" stroke-width="0.85" stroke-linejoin="round"/><line x1="243.42" y1="677.88" x2="243.42" y2="687.38" stroke="#4a7a2c" stroke-width="0.85"/><polygon points="243.42,677.88 246.35,674.9 259.15,674.9 256.22,677.88" fill="#bfe0a6"/><polygon points="256.22,677.88 259.15,674.9 259.15,684.4 256.22,687.38" fill="#8fb875"/><rect x="243.42" y="677.88" width="12.8" height="9.5" fill="#a9d18e"/><path d="M243.42 677.88L246.35 674.9L259.15 674.9L259.15 684.4L256.22 687.38L243.42 687.38ZM243.42 677.88L256.22 677.88M256.22 677.88L259.15 674.9" fill="none" stroke="#4a7a2c" stroke-width="0.85" stroke-linejoin="round"/><line x1="256.22" y1="677.88" x2="256.22" y2="687.38" stroke="#4a7a2c" stroke-width="0.85"/><polygon points="256.22,677.88 259.15,674.9 271.95,674.9 269.02,677.88" fill="#bfe0a6"/><polygon points="269.02,677.88 271.95,674.9 271.95,684.4 269.02,687.38" fill="#8fb875"/><rect x="256.22" y="677.88" width="12.8" height="9.5" fill="#a9d18e"/><path d="M256.22 677.88L259.15 674.9L271.95 674.9L271.95 684.4L269.02 687.38L256.22 687.38ZM256.22 677.88L269.02 677.88M269.02 677.88L271.95 674.9" fill="none" stroke="#4a7a2c" stroke-width="0.85" stroke-linejoin="round"/><line x1="269.02" y1="677.88" x2="269.02" y2="687.38" stroke="#4a7a2c" stroke-width="0.85"/><polygon points="269.02,677.88 271.95,674.9 284.75,674.9 281.82,677.88" fill="#bfe0a6"/><polygon points="281.82,677.88 284.75,674.9 284.75,684.4 281.82,687.38" fill="#8fb875"/><rect x="269.02" y="677.88" width="12.8" height="9.5" fill="#a9d18e"/><path d="M269.02 677.88L271.95 674.9L284.75 674.9L284.75 684.4L281.82 687.38L269.02 687.38ZM269.02 677.88L281.82 677.88M281.82 677.88L284.75 674.9" fill="none" stroke="#4a7a2c" stroke-width="0.85" stroke-linejoin="round"/><line x1="281.82" y1="677.88" x2="281.82" y2="687.38" stroke="#4a7a2c" stroke-width="0.85"/><polygon points="281.82,677.88 284.75,674.9 297.55,674.9 294.62,677.88" fill="#bfe0a6"/><polygon points="294.62,677.88 297.55,674.9 297.55,684.4 294.62,687.38" fill="#8fb875"/><rect x="281.82" y="677.88" width="12.8" height="9.5" fill="#a9d18e"/><path d="M281.82 677.88L284.75 674.9L297.55 674.9L297.55 684.4L294.62 687.38L281.82 687.38ZM281.82 677.88L294.62 677.88M294.62 677.88L297.55 674.9" fill="none" stroke="#4a7a2c" stroke-width="0.85" stroke-linejoin="round"/><line x1="294.62" y1="677.88" x2="294.62" y2="687.38" stroke="#4a7a2c" stroke-width="0.85"/><polygon points="189.29,680.86 192.22,677.88 205.02,677.88 202.09,680.86" fill="#bfe0a6"/><polygon points="202.09,680.86 205.02,677.88 205.02,687.38 202.09,690.36" fill="#8fb875"/><rect x="189.29" y="680.86" width="12.8" height="9.5" fill="#a9d18e"/><path d="M189.29 680.86L192.22 677.88L205.02 677.88L205.02 687.38L202.09 690.36L189.29 690.36ZM189.29 680.86L202.09 680.86M202.09 680.86L205.02 677.88" fill="none" stroke="#4a7a2c" stroke-width="0.85" stroke-linejoin="round"/><line x1="202.09" y1="680.86" x2="202.09" y2="690.36" stroke="#4a7a2c" stroke-width="0.85"/><polygon points="202.09,680.86 205.02,677.88 217.82,677.88 214.89,680.86" fill="#bfe0a6"/><polygon points="214.89,680.86 217.82,677.88 217.82,687.38 214.89,690.36" fill="#8fb875"/><rect x="202.09" y="680.86" width="12.8" height="9.5" fill="#a9d18e"/><path d="M202.09 680.86L205.02 677.88L217.82 677.88L217.82 687.38L214.89 690.36L202.09 690.36ZM202.09 680.86L214.89 680.86M214.89 680.86L217.82 677.88" fill="none" stroke="#4a7a2c" stroke-width="0.85" stroke-linejoin="round"/><line x1="214.89" y1="680.86" x2="214.89" y2="690.36" stroke="#4a7a2c" stroke-width="0.85"/><polygon points="214.89,680.86 217.82,677.88 230.62,677.88 227.69,680.86" fill="#bfe0a6"/><polygon points="227.69,680.86 230.62,677.88 230.62,687.38 227.69,690.36" fill="#8fb875"/><rect x="214.89" y="680.86" width="12.8" height="9.5" fill="#a9d18e"/><path d="M214.89 680.86L217.82 677.88L230.62 677.88L230.62 687.38L227.69 690.36L214.89 690.36ZM214.89 680.86L227.69 680.86M227.69 680.86L230.62 677.88" fill="none" stroke="#4a7a2c" stroke-width="0.85" stroke-linejoin="round"/><line x1="227.69" y1="680.86" x2="227.69" y2="690.36" stroke="#4a7a2c" stroke-width="0.85"/><polygon points="227.69,680.86 230.62,677.88 243.42,677.88 240.49,680.86" fill="#bfe0a6"/><polygon points="240.49,680.86 243.42,677.88 243.42,687.38 240.49,690.36" fill="#8fb875"/><rect x="227.69" y="680.86" width="12.8" height="9.5" fill="#a9d18e"/><path d="M227.69 680.86L230.62 677.88L243.42 677.88L243.42 687.38L240.49 690.36L227.69 690.36ZM227.69 680.86L240.49 680.86M240.49 680.86L243.42 677.88" fill="none" stroke="#4a7a2c" stroke-width="0.85" stroke-linejoin="round"/><line x1="240.49" y1="680.86" x2="240.49" y2="690.36" stroke="#4a7a2c" stroke-width="0.85"/><polygon points="240.49,680.86 243.42,677.88 256.22,677.88 253.29,680.86" fill="#bfe0a6"/><polygon points="253.29,680.86 256.22,677.88 256.22,687.38 253.29,690.36" fill="#8fb875"/><rect x="240.49" y="680.86" width="12.8" height="9.5" fill="#a9d18e"/><path d="M240.49 680.86L243.42 677.88L256.22 677.88L256.22 687.38L253.29 690.36L240.49 690.36ZM240.49 680.86L253.29 680.86M253.29 680.86L256.22 677.88" fill="none" stroke="#4a7a2c" stroke-width="0.85" stroke-linejoin="round"/><line x1="253.29" y1="680.86" x2="253.29" y2="690.36" stroke="#4a7a2c" stroke-width="0.85"/><polygon points="253.29,680.86 256.22,677.88 269.02,677.88 266.09,680.86" fill="#bfe0a6"/><polygon points="266.09,680.86 269.02,677.88 269.02,687.38 266.09,690.36" fill="#8fb875"/><rect x="253.29" y="680.86" width="12.8" height="9.5" fill="#a9d18e"/><path d="M253.29 680.86L256.22 677.88L269.02 677.88L269.02 687.38L266.09 690.36L253.29 690.36ZM253.29 680.86L266.09 680.86M266.09 680.86L269.02 677.88" fill="none" stroke="#4a7a2c" stroke-width="0.85" stroke-linejoin="round"/><line x1="266.09" y1="680.86" x2="266.09" y2="690.36" stroke="#4a7a2c" stroke-width="0.85"/><polygon points="266.09,680.86 269.02,677.88 281.82,677.88 278.89,680.86" fill="#bfe0a6"/><polygon points="278.89,680.86 281.82,677.88 281.82,687.38 278.89,690.36" fill="#8fb875"/><rect x="266.09" y="680.86" width="12.8" height="9.5" fill="#a9d18e"/><path d="M266.09 680.86L269.02 677.88L281.82 677.88L281.82 687.38L278.89 690.36L266.09 690.36ZM266.09 680.86L278.89 680.86M278.89 680.86L281.82 677.88" fill="none" stroke="#4a7a2c" stroke-width="0.85" stroke-linejoin="round"/><line x1="278.89" y1="680.86" x2="278.89" y2="690.36" stroke="#4a7a2c" stroke-width="0.85"/><polygon points="278.89,680.86 281.82,677.88 294.62,677.88 291.69,680.86" fill="#bfe0a6"/><polygon points="291.69,680.86 294.62,677.88 294.62,687.38 291.69,690.36" fill="#8fb875"/><rect x="278.89" y="680.86" width="12.8" height="9.5" fill="#a9d18e"/><path d="M278.89 680.86L281.82 677.88L294.62 677.88L294.62 687.38L291.69 690.36L278.89 690.36ZM278.89 680.86L291.69 680.86M291.69 680.86L294.62 677.88" fill="none" stroke="#4a7a2c" stroke-width="0.85" stroke-linejoin="round"/><line x1="291.69" y1="680.86" x2="291.69" y2="690.36" stroke="#4a7a2c" stroke-width="0.85"/><polygon points="186.36,683.84 189.29,680.86 202.09,680.86 199.16,683.84" fill="#bfe0a6"/><polygon points="199.16,683.84 202.09,680.86 202.09,690.36 199.16,693.34" fill="#8fb875"/><rect x="186.36" y="683.84" width="12.8" height="9.5" fill="#a9d18e"/><path d="M186.36 683.84L189.29 680.86L202.09 680.86L202.09 690.36L199.16 693.34L186.36 693.34ZM186.36 683.84L199.16 683.84M199.16 683.84L202.09 680.86" fill="none" stroke="#4a7a2c" stroke-width="0.85" stroke-linejoin="round"/><line x1="199.16" y1="683.84" x2="199.16" y2="693.34" stroke="#4a7a2c" stroke-width="0.85"/><polygon points="199.16,683.84 202.09,680.86 214.89,680.86 211.96,683.84" fill="#bfe0a6"/><polygon points="211.96,683.84 214.89,680.86 214.89,690.36 211.96,693.34" fill="#8fb875"/><rect x="199.16" y="683.84" width="12.8" height="9.5" fill="#a9d18e"/><path d="M199.16 683.84L202.09 680.86L214.89 680.86L214.89 690.36L211.96 693.34L199.16 693.34ZM199.16 683.84L211.96 683.84M211.96 683.84L214.89 680.86" fill="none" stroke="#4a7a2c" stroke-width="0.85" stroke-linejoin="round"/><line x1="211.96" y1="683.84" x2="211.96" y2="693.34" stroke="#4a7a2c" stroke-width="0.85"/><polygon points="211.96,683.84 214.89,680.86 227.69,680.86 224.76,683.84" fill="#bfe0a6"/><polygon points="224.76,683.84 227.69,680.86 227.69,690.36 224.76,693.34" fill="#8fb875"/><rect x="211.96" y="683.84" width="12.8" height="9.5" fill="#a9d18e"/><path d="M211.96 683.84L214.89 680.86L227.69 680.86L227.69 690.36L224.76 693.34L211.96 693.34ZM211.96 683.84L224.76 683.84M224.76 683.84L227.69 680.86" fill="none" stroke="#4a7a2c" stroke-width="0.85" stroke-linejoin="round"/><line x1="224.76" y1="683.84" x2="224.76" y2="693.34" stroke="#4a7a2c" stroke-width="0.85"/><polygon points="224.76,683.84 227.69,680.86 240.49,680.86 237.56,683.84" fill="#bfe0a6"/><polygon points="237.56,683.84 240.49,680.86 240.49,690.36 237.56,693.34" fill="#8fb875"/><rect x="224.76" y="683.84" width="12.8" height="9.5" fill="#a9d18e"/><path d="M224.76 683.84L227.69 680.86L240.49 680.86L240.49 690.36L237.56 693.34L224.76 693.34ZM224.76 683.84L237.56 683.84M237.56 683.84L240.49 680.86" fill="none" stroke="#4a7a2c" stroke-width="0.85" stroke-linejoin="round"/><line x1="237.56" y1="683.84" x2="237.56" y2="693.34" stroke="#4a7a2c" stroke-width="0.85"/><polygon points="237.56,683.84 240.49,680.86 253.29,680.86 250.36,683.84" fill="#bfe0a6"/><polygon points="250.36,683.84 253.29,680.86 253.29,690.36 250.36,693.34" fill="#8fb875"/><rect x="237.56" y="683.84" width="12.8" height="9.5" fill="#a9d18e"/><path d="M237.56 683.84L240.49 680.86L253.29 680.86L253.29 690.36L250.36 693.34L237.56 693.34ZM237.56 683.84L250.36 683.84M250.36 683.84L253.29 680.86" fill="none" stroke="#4a7a2c" stroke-width="0.85" stroke-linejoin="round"/><line x1="250.36" y1="683.84" x2="250.36" y2="693.34" stroke="#4a7a2c" stroke-width="0.85"/><polygon points="250.36,683.84 253.29,680.86 266.09,680.86 263.16,683.84" fill="#bfe0a6"/><polygon points="263.16,683.84 266.09,680.86 266.09,690.36 263.16,693.34" fill="#8fb875"/><rect x="250.36" y="683.84" width="12.8" height="9.5" fill="#a9d18e"/><path d="M250.36 683.84L253.29 680.86L266.09 680.86L266.09 690.36L263.16 693.34L250.36 693.34ZM250.36 683.84L263.16 683.84M263.16 683.84L266.09 680.86" fill="none" stroke="#4a7a2c" stroke-width="0.85" stroke-linejoin="round"/><line x1="263.16" y1="683.84" x2="263.16" y2="693.34" stroke="#4a7a2c" stroke-width="0.85"/><polygon points="263.16,683.84 266.09,680.86 278.89,680.86 275.96,683.84" fill="#bfe0a6"/><polygon points="275.96,683.84 278.89,680.86 278.89,690.36 275.96,693.34" fill="#8fb875"/><rect x="263.16" y="683.84" width="12.8" height="9.5" fill="#a9d18e"/><path d="M263.16 683.84L266.09 680.86L278.89 680.86L278.89 690.36L275.96 693.34L263.16 693.34ZM263.16 683.84L275.96 683.84M275.96 683.84L278.89 680.86" fill="none" stroke="#4a7a2c" stroke-width="0.85" stroke-linejoin="round"/><line x1="275.96" y1="683.84" x2="275.96" y2="693.34" stroke="#4a7a2c" stroke-width="0.85"/><polygon points="275.96,683.84 278.89,680.86 291.69,680.86 288.76,683.84" fill="#bfe0a6"/><polygon points="288.76,683.84 291.69,680.86 291.69,690.36 288.76,693.34" fill="#8fb875"/><rect x="275.96" y="683.84" width="12.8" height="9.5" fill="#a9d18e"/><path d="M275.96 683.84L278.89 680.86L291.69 680.86L291.69 690.36L288.76 693.34L275.96 693.34ZM275.96 683.84L288.76 683.84M288.76 683.84L291.69 680.86" fill="none" stroke="#4a7a2c" stroke-width="0.85" stroke-linejoin="round"/><line x1="288.76" y1="683.84" x2="288.76" y2="693.34" stroke="#4a7a2c" stroke-width="0.85"/><polygon points="183.43,686.82 186.36,683.84 199.16,683.84 196.23,686.82" fill="#bfe0a6"/><polygon points="196.23,686.82 199.16,683.84 199.16,693.34 196.23,696.32" fill="#8fb875"/><rect x="183.43" y="686.82" width="12.8" height="9.5" fill="#a9d18e"/><path d="M183.43 686.82L186.36 683.84L199.16 683.84L199.16 693.34L196.23 696.32L183.43 696.32ZM183.43 686.82L196.23 686.82M196.23 686.82L199.16 683.84" fill="none" stroke="#4a7a2c" stroke-width="0.85" stroke-linejoin="round"/><line x1="196.23" y1="686.82" x2="196.23" y2="696.32" stroke="#4a7a2c" stroke-width="0.85"/><polygon points="196.23,686.82 199.16,683.84 211.96,683.84 209.03,686.82" fill="#bfe0a6"/><polygon points="209.03,686.82 211.96,683.84 211.96,693.34 209.03,696.32" fill="#8fb875"/><rect x="196.23" y="686.82" width="12.8" height="9.5" fill="#a9d18e"/><path d="M196.23 686.82L199.16 683.84L211.96 683.84L211.96 693.34L209.03 696.32L196.23 696.32ZM196.23 686.82L209.03 686.82M209.03 686.82L211.96 683.84" fill="none" stroke="#4a7a2c" stroke-width="0.85" stroke-linejoin="round"/><line x1="209.03" y1="686.82" x2="209.03" y2="696.32" stroke="#4a7a2c" stroke-width="0.85"/><polygon points="209.03,686.82 211.96,683.84 224.76,683.84 221.83,686.82" fill="#bfe0a6"/><polygon points="221.83,686.82 224.76,683.84 224.76,693.34 221.83,696.32" fill="#8fb875"/><rect x="209.03" y="686.82" width="12.8" height="9.5" fill="#a9d18e"/><path d="M209.03 686.82L211.96 683.84L224.76 683.84L224.76 693.34L221.83 696.32L209.03 696.32ZM209.03 686.82L221.83 686.82M221.83 686.82L224.76 683.84" fill="none" stroke="#4a7a2c" stroke-width="0.85" stroke-linejoin="round"/><line x1="221.83" y1="686.82" x2="221.83" y2="696.32" stroke="#4a7a2c" stroke-width="0.85"/><polygon points="221.83,686.82 224.76,683.84 237.56,683.84 234.63,686.82" fill="#bfe0a6"/><polygon points="234.63,686.82 237.56,683.84 237.56,693.34 234.63,696.32" fill="#8fb875"/><rect x="221.83" y="686.82" width="12.8" height="9.5" fill="#a9d18e"/><path d="M221.83 686.82L224.76 683.84L237.56 683.84L237.56 693.34L234.63 696.32L221.83 696.32ZM221.83 686.82L234.63 686.82M234.63 686.82L237.56 683.84" fill="none" stroke="#4a7a2c" stroke-width="0.85" stroke-linejoin="round"/><line x1="234.63" y1="686.82" x2="234.63" y2="696.32" stroke="#4a7a2c" stroke-width="0.85"/><polygon points="234.63,686.82 237.56,683.84 250.36,683.84 247.43,686.82" fill="#bfe0a6"/><polygon points="247.43,686.82 250.36,683.84 250.36,693.34 247.43,696.32" fill="#8fb875"/><rect x="234.63" y="686.82" width="12.8" height="9.5" fill="#a9d18e"/><path d="M234.63 686.82L237.56 683.84L250.36 683.84L250.36 693.34L247.43 696.32L234.63 696.32ZM234.63 686.82L247.43 686.82M247.43 686.82L250.36 683.84" fill="none" stroke="#4a7a2c" stroke-width="0.85" stroke-linejoin="round"/><line x1="247.43" y1="686.82" x2="247.43" y2="696.32" stroke="#4a7a2c" stroke-width="0.85"/><polygon points="247.43,686.82 250.36,683.84 263.16,683.84 260.23,686.82" fill="#bfe0a6"/><polygon points="260.23,686.82 263.16,683.84 263.16,693.34 260.23,696.32" fill="#8fb875"/><rect x="247.43" y="686.82" width="12.8" height="9.5" fill="#a9d18e"/><path d="M247.43 686.82L250.36 683.84L263.16 683.84L263.16 693.34L260.23 696.32L247.43 696.32ZM247.43 686.82L260.23 686.82M260.23 686.82L263.16 683.84" fill="none" stroke="#4a7a2c" stroke-width="0.85" stroke-linejoin="round"/><line x1="260.23" y1="686.82" x2="260.23" y2="696.32" stroke="#4a7a2c" stroke-width="0.85"/><polygon points="260.23,686.82 263.16,683.84 275.96,683.84 273.03,686.82" fill="#bfe0a6"/><polygon points="273.03,686.82 275.96,683.84 275.96,693.34 273.03,696.32" fill="#8fb875"/><rect x="260.23" y="686.82" width="12.8" height="9.5" fill="#a9d18e"/><path d="M260.23 686.82L263.16 683.84L275.96 683.84L275.96 693.34L273.03 696.32L260.23 696.32ZM260.23 686.82L273.03 686.82M273.03 686.82L275.96 683.84" fill="none" stroke="#4a7a2c" stroke-width="0.85" stroke-linejoin="round"/><line x1="273.03" y1="686.82" x2="273.03" y2="696.32" stroke="#4a7a2c" stroke-width="0.85"/><polygon points="273.03,686.82 275.96,683.84 288.76,683.84 285.83,686.82" fill="#bfe0a6"/><polygon points="285.83,686.82 288.76,683.84 288.76,693.34 285.83,696.32" fill="#8fb875"/><rect x="273.03" y="686.82" width="12.8" height="9.5" fill="#a9d18e"/><path d="M273.03 686.82L275.96 683.84L288.76 683.84L288.76 693.34L285.83 696.32L273.03 696.32ZM273.03 686.82L285.83 686.82M285.83 686.82L288.76 683.84" fill="none" stroke="#4a7a2c" stroke-width="0.85" stroke-linejoin="round"/><line x1="285.83" y1="686.82" x2="285.83" y2="696.32" stroke="#4a7a2c" stroke-width="0.85"/><polygon points="180.5,689.8 183.43,686.82 196.23,686.82 193.3,689.8" fill="#bfe0a6"/><polygon points="193.3,689.8 196.23,686.82 196.23,696.32 193.3,699.3" fill="#8fb875"/><rect x="180.5" y="689.8" width="12.8" height="9.5" fill="#a9d18e"/><path d="M180.5 689.8L183.43 686.82L196.23 686.82L196.23 696.32L193.3 699.3L180.5 699.3ZM180.5 689.8L193.3 689.8M193.3 689.8L196.23 686.82" fill="none" stroke="#4a7a2c" stroke-width="0.85" stroke-linejoin="round"/><line x1="193.3" y1="689.8" x2="193.3" y2="699.3" stroke="#4a7a2c" stroke-width="0.85"/><polygon points="193.3,689.8 196.23,686.82 209.03,686.82 206.1,689.8" fill="#bfe0a6"/><polygon points="206.1,689.8 209.03,686.82 209.03,696.32 206.1,699.3" fill="#8fb875"/><rect x="193.3" y="689.8" width="12.8" height="9.5" fill="#a9d18e"/><path d="M193.3 689.8L196.23 686.82L209.03 686.82L209.03 696.32L206.1 699.3L193.3 699.3ZM193.3 689.8L206.1 689.8M206.1 689.8L209.03 686.82" fill="none" stroke="#4a7a2c" stroke-width="0.85" stroke-linejoin="round"/><line x1="206.1" y1="689.8" x2="206.1" y2="699.3" stroke="#4a7a2c" stroke-width="0.85"/><polygon points="206.1,689.8 209.03,686.82 221.83,686.82 218.9,689.8" fill="#bfe0a6"/><polygon points="218.9,689.8 221.83,686.82 221.83,696.32 218.9,699.3" fill="#8fb875"/><rect x="206.1" y="689.8" width="12.8" height="9.5" fill="#a9d18e"/><path d="M206.1 689.8L209.03 686.82L221.83 686.82L221.83 696.32L218.9 699.3L206.1 699.3ZM206.1 689.8L218.9 689.8M218.9 689.8L221.83 686.82" fill="none" stroke="#4a7a2c" stroke-width="0.85" stroke-linejoin="round"/><line x1="218.9" y1="689.8" x2="218.9" y2="699.3" stroke="#4a7a2c" stroke-width="0.85"/><polygon points="218.9,689.8 221.83,686.82 234.63,686.82 231.7,689.8" fill="#bfe0a6"/><polygon points="231.7,689.8 234.63,686.82 234.63,696.32 231.7,699.3" fill="#8fb875"/><rect x="218.9" y="689.8" width="12.8" height="9.5" fill="#a9d18e"/><path d="M218.9 689.8L221.83 686.82L234.63 686.82L234.63 696.32L231.7 699.3L218.9 699.3ZM218.9 689.8L231.7 689.8M231.7 689.8L234.63 686.82" fill="none" stroke="#4a7a2c" stroke-width="0.85" stroke-linejoin="round"/><line x1="231.7" y1="689.8" x2="231.7" y2="699.3" stroke="#4a7a2c" stroke-width="0.85"/><polygon points="231.7,689.8 234.63,686.82 247.43,686.82 244.5,689.8" fill="#bfe0a6"/><polygon points="244.5,689.8 247.43,686.82 247.43,696.32 244.5,699.3" fill="#8fb875"/><rect x="231.7" y="689.8" width="12.8" height="9.5" fill="#a9d18e"/><path d="M231.7 689.8L234.63 686.82L247.43 686.82L247.43 696.32L244.5 699.3L231.7 699.3ZM231.7 689.8L244.5 689.8M244.5 689.8L247.43 686.82" fill="none" stroke="#4a7a2c" stroke-width="0.85" stroke-linejoin="round"/><line x1="244.5" y1="689.8" x2="244.5" y2="699.3" stroke="#4a7a2c" stroke-width="0.85"/><polygon points="244.5,689.8 247.43,686.82 260.23,686.82 257.3,689.8" fill="#bfe0a6"/><polygon points="257.3,689.8 260.23,686.82 260.23,696.32 257.3,699.3" fill="#8fb875"/><rect x="244.5" y="689.8" width="12.8" height="9.5" fill="#a9d18e"/><path d="M244.5 689.8L247.43 686.82L260.23 686.82L260.23 696.32L257.3 699.3L244.5 699.3ZM244.5 689.8L257.3 689.8M257.3 689.8L260.23 686.82" fill="none" stroke="#4a7a2c" stroke-width="0.85" stroke-linejoin="round"/><line x1="257.3" y1="689.8" x2="257.3" y2="699.3" stroke="#4a7a2c" stroke-width="0.85"/><polygon points="257.3,689.8 260.23,686.82 273.03,686.82 270.1,689.8" fill="#bfe0a6"/><polygon points="270.1,689.8 273.03,686.82 273.03,696.32 270.1,699.3" fill="#8fb875"/><rect x="257.3" y="689.8" width="12.8" height="9.5" fill="#a9d18e"/><path d="M257.3 689.8L260.23 686.82L273.03 686.82L273.03 696.32L270.1 699.3L257.3 699.3ZM257.3 689.8L270.1 689.8M270.1 689.8L273.03 686.82" fill="none" stroke="#4a7a2c" stroke-width="0.85" stroke-linejoin="round"/><line x1="270.1" y1="689.8" x2="270.1" y2="699.3" stroke="#4a7a2c" stroke-width="0.85"/><polygon points="270.1,689.8 273.03,686.82 285.83,686.82 282.9,689.8" fill="#bfe0a6"/><polygon points="282.9,689.8 285.83,686.82 285.83,696.32 282.9,699.3" fill="#8fb875"/><rect x="270.1" y="689.8" width="12.8" height="9.5" fill="#a9d18e"/><path d="M270.1 689.8L273.03 686.82L285.83 686.82L285.83 696.32L282.9 699.3L270.1 699.3ZM270.1 689.8L282.9 689.8M282.9 689.8L285.83 686.82" fill="none" stroke="#4a7a2c" stroke-width="0.85" stroke-linejoin="round"/><line x1="282.9" y1="689.8" x2="282.9" y2="699.3" stroke="#4a7a2c" stroke-width="0.85"/><polygon points="391.4,678.7 394.5,675.7 407.2,675.7 404.1,678.7" fill="#bfe0a6"/><polygon points="404.1,678.7 407.2,675.7 407.2,685.7 404.1,688.7" fill="#8fb875"/><rect x="391.4" y="678.7" width="12.7" height="10" fill="#a9d18e"/><path d="M391.4 678.7L394.5 675.7L407.2 675.7L407.2 685.7L404.1 688.7L391.4 688.7ZM391.4 678.7L404.1 678.7M404.1 678.7L407.2 675.7" fill="none" stroke="#4a7a2c" stroke-width="0.85" stroke-linejoin="round"/><line x1="404.1" y1="678.7" x2="404.1" y2="688.7" stroke="#4a7a2c" stroke-width="0.85"/><polygon points="404.1,678.7 407.2,675.7 419.9,675.7 416.8,678.7" fill="#bfe0a6"/><polygon points="416.8,678.7 419.9,675.7 419.9,685.7 416.8,688.7" fill="#8fb875"/><rect x="404.1" y="678.7" width="12.7" height="10" fill="#a9d18e"/><path d="M404.1 678.7L407.2 675.7L419.9 675.7L419.9 685.7L416.8 688.7L404.1 688.7ZM404.1 678.7L416.8 678.7M416.8 678.7L419.9 675.7" fill="none" stroke="#4a7a2c" stroke-width="0.85" stroke-linejoin="round"/><line x1="416.8" y1="678.7" x2="416.8" y2="688.7" stroke="#4a7a2c" stroke-width="0.85"/><polygon points="416.8,678.7 419.9,675.7 432.6,675.7 429.5,678.7" fill="#bfe0a6"/><polygon points="429.5,678.7 432.6,675.7 432.6,685.7 429.5,688.7" fill="#8fb875"/><rect x="416.8" y="678.7" width="12.7" height="10" fill="#a9d18e"/><path d="M416.8 678.7L419.9 675.7L432.6 675.7L432.6 685.7L429.5 688.7L416.8 688.7ZM416.8 678.7L429.5 678.7M429.5 678.7L432.6 675.7" fill="none" stroke="#4a7a2c" stroke-width="0.85" stroke-linejoin="round"/><line x1="429.5" y1="678.7" x2="429.5" y2="688.7" stroke="#4a7a2c" stroke-width="0.85"/><polygon points="429.5,678.7 432.6,675.7 445.3,675.7 442.2,678.7" fill="#bfe0a6"/><polygon points="442.2,678.7 445.3,675.7 445.3,685.7 442.2,688.7" fill="#8fb875"/><rect x="429.5" y="678.7" width="12.7" height="10" fill="#a9d18e"/><path d="M429.5 678.7L432.6 675.7L445.3 675.7L445.3 685.7L442.2 688.7L429.5 688.7ZM429.5 678.7L442.2 678.7M442.2 678.7L445.3 675.7" fill="none" stroke="#4a7a2c" stroke-width="0.85" stroke-linejoin="round"/><line x1="442.2" y1="678.7" x2="442.2" y2="688.7" stroke="#4a7a2c" stroke-width="0.85"/><polygon points="442.2,678.7 445.3,675.7 458,675.7 454.9,678.7" fill="#bfe0a6"/><polygon points="454.9,678.7 458,675.7 458,685.7 454.9,688.7" fill="#8fb875"/><rect x="442.2" y="678.7" width="12.7" height="10" fill="#a9d18e"/><path d="M442.2 678.7L445.3 675.7L458 675.7L458 685.7L454.9 688.7L442.2 688.7ZM442.2 678.7L454.9 678.7M454.9 678.7L458 675.7" fill="none" stroke="#4a7a2c" stroke-width="0.85" stroke-linejoin="round"/><line x1="454.9" y1="678.7" x2="454.9" y2="688.7" stroke="#4a7a2c" stroke-width="0.85"/><polygon points="454.9,678.7 458,675.7 470.7,675.7 467.6,678.7" fill="#bfe0a6"/><polygon points="467.6,678.7 470.7,675.7 470.7,685.7 467.6,688.7" fill="#8fb875"/><rect x="454.9" y="678.7" width="12.7" height="10" fill="#a9d18e"/><path d="M454.9 678.7L458 675.7L470.7 675.7L470.7 685.7L467.6 688.7L454.9 688.7ZM454.9 678.7L467.6 678.7M467.6 678.7L470.7 675.7" fill="none" stroke="#4a7a2c" stroke-width="0.85" stroke-linejoin="round"/><line x1="467.6" y1="678.7" x2="467.6" y2="688.7" stroke="#4a7a2c" stroke-width="0.85"/><polygon points="467.6,678.7 470.7,675.7 483.4,675.7 480.3,678.7" fill="#bfe0a6"/><polygon points="480.3,678.7 483.4,675.7 483.4,685.7 480.3,688.7" fill="#8fb875"/><rect x="467.6" y="678.7" width="12.7" height="10" fill="#a9d18e"/><path d="M467.6 678.7L470.7 675.7L483.4 675.7L483.4 685.7L480.3 688.7L467.6 688.7ZM467.6 678.7L480.3 678.7M480.3 678.7L483.4 675.7" fill="none" stroke="#4a7a2c" stroke-width="0.85" stroke-linejoin="round"/><line x1="480.3" y1="678.7" x2="480.3" y2="688.7" stroke="#4a7a2c" stroke-width="0.85"/><polygon points="480.3,678.7 483.4,675.7 496.1,675.7 493,678.7" fill="#bfe0a6"/><polygon points="493,678.7 496.1,675.7 496.1,685.7 493,688.7" fill="#8fb875"/><rect x="480.3" y="678.7" width="12.7" height="10" fill="#a9d18e"/><path d="M480.3 678.7L483.4 675.7L496.1 675.7L496.1 685.7L493 688.7L480.3 688.7ZM480.3 678.7L493 678.7M493 678.7L496.1 675.7" fill="none" stroke="#4a7a2c" stroke-width="0.85" stroke-linejoin="round"/><line x1="493" y1="678.7" x2="493" y2="688.7" stroke="#4a7a2c" stroke-width="0.85"/><polygon points="602.5,657.75 605.2,654.75 618.14,654.75 615.44,657.75" fill="#bfe0a6"/><polygon points="615.44,657.75 618.14,654.75 618.14,664.5 615.44,667.5" fill="#8fb875"/><rect x="602.5" y="657.75" width="12.94" height="9.75" fill="#a9d18e"/><path d="M602.5 657.75L605.2 654.75L618.14 654.75L618.14 664.5L615.44 667.5L602.5 667.5ZM602.5 657.75L615.44 657.75M615.44 657.75L618.14 654.75" fill="none" stroke="#4a7a2c" stroke-width="0.85" stroke-linejoin="round"/><line x1="615.44" y1="657.75" x2="615.44" y2="667.5" stroke="#4a7a2c" stroke-width="0.85"/><polygon points="615.44,657.75 618.14,654.75 631.08,654.75 628.38,657.75" fill="#bfe0a6"/><polygon points="628.38,657.75 631.08,654.75 631.08,664.5 628.38,667.5" fill="#8fb875"/><rect x="615.44" y="657.75" width="12.94" height="9.75" fill="#a9d18e"/><path d="M615.44 657.75L618.14 654.75L631.08 654.75L631.08 664.5L628.38 667.5L615.44 667.5ZM615.44 657.75L628.38 657.75M628.38 657.75L631.08 654.75" fill="none" stroke="#4a7a2c" stroke-width="0.85" stroke-linejoin="round"/><line x1="628.38" y1="657.75" x2="628.38" y2="667.5" stroke="#4a7a2c" stroke-width="0.85"/><polygon points="628.38,657.75 631.08,654.75 644.02,654.75 641.32,657.75" fill="#bfe0a6"/><polygon points="641.32,657.75 644.02,654.75 644.02,664.5 641.32,667.5" fill="#8fb875"/><rect x="628.38" y="657.75" width="12.94" height="9.75" fill="#a9d18e"/><path d="M628.38 657.75L631.08 654.75L644.02 654.75L644.02 664.5L641.32 667.5L628.38 667.5ZM628.38 657.75L641.32 657.75M641.32 657.75L644.02 654.75" fill="none" stroke="#4a7a2c" stroke-width="0.85" stroke-linejoin="round"/><line x1="641.32" y1="657.75" x2="641.32" y2="667.5" stroke="#4a7a2c" stroke-width="0.85"/><polygon points="641.32,657.75 644.02,654.75 656.96,654.75 654.26,657.75" fill="#bfe0a6"/><polygon points="654.26,657.75 656.96,654.75 656.96,664.5 654.26,667.5" fill="#8fb875"/><rect x="641.32" y="657.75" width="12.94" height="9.75" fill="#a9d18e"/><path d="M641.32 657.75L644.02 654.75L656.96 654.75L656.96 664.5L654.26 667.5L641.32 667.5ZM641.32 657.75L654.26 657.75M654.26 657.75L656.96 654.75" fill="none" stroke="#4a7a2c" stroke-width="0.85" stroke-linejoin="round"/><line x1="654.26" y1="657.75" x2="654.26" y2="667.5" stroke="#4a7a2c" stroke-width="0.85"/><polygon points="654.26,657.75 656.96,654.75 669.9,654.75 667.2,657.75" fill="#bfe0a6"/><polygon points="667.2,657.75 669.9,654.75 669.9,664.5 667.2,667.5" fill="#8fb875"/><rect x="654.26" y="657.75" width="12.94" height="9.75" fill="#a9d18e"/><path d="M654.26 657.75L656.96 654.75L669.9 654.75L669.9 664.5L667.2 667.5L654.26 667.5ZM654.26 657.75L667.2 657.75M667.2 657.75L669.9 654.75" fill="none" stroke="#4a7a2c" stroke-width="0.85" stroke-linejoin="round"/><line x1="667.2" y1="657.75" x2="667.2" y2="667.5" stroke="#4a7a2c" stroke-width="0.85"/><polygon points="667.2,657.75 669.9,654.75 682.84,654.75 680.14,657.75" fill="#bfe0a6"/><polygon points="680.14,657.75 682.84,654.75 682.84,664.5 680.14,667.5" fill="#8fb875"/><rect x="667.2" y="657.75" width="12.94" height="9.75" fill="#a9d18e"/><path d="M667.2 657.75L669.9 654.75L682.84 654.75L682.84 664.5L680.14 667.5L667.2 667.5ZM667.2 657.75L680.14 657.75M680.14 657.75L682.84 654.75" fill="none" stroke="#4a7a2c" stroke-width="0.85" stroke-linejoin="round"/><line x1="680.14" y1="657.75" x2="680.14" y2="667.5" stroke="#4a7a2c" stroke-width="0.85"/><polygon points="680.14,657.75 682.84,654.75 695.78,654.75 693.08,657.75" fill="#bfe0a6"/><polygon points="693.08,657.75 695.78,654.75 695.78,664.5 693.08,667.5" fill="#8fb875"/><rect x="680.14" y="657.75" width="12.94" height="9.75" fill="#a9d18e"/><path d="M680.14 657.75L682.84 654.75L695.78 654.75L695.78 664.5L693.08 667.5L680.14 667.5ZM680.14 657.75L693.08 657.75M693.08 657.75L695.78 654.75" fill="none" stroke="#4a7a2c" stroke-width="0.85" stroke-linejoin="round"/><line x1="693.08" y1="657.75" x2="693.08" y2="667.5" stroke="#4a7a2c" stroke-width="0.85"/><polygon points="693.08,657.75 695.78,654.75 708.72,654.75 706.02,657.75" fill="#bfe0a6"/><polygon points="706.02,657.75 708.72,654.75 708.72,664.5 706.02,667.5" fill="#8fb875"/><rect x="693.08" y="657.75" width="12.94" height="9.75" fill="#a9d18e"/><path d="M693.08 657.75L695.78 654.75L708.72 654.75L708.72 664.5L706.02 667.5L693.08 667.5ZM693.08 657.75L706.02 657.75M706.02 657.75L708.72 654.75" fill="none" stroke="#4a7a2c" stroke-width="0.85" stroke-linejoin="round"/><line x1="706.02" y1="657.75" x2="706.02" y2="667.5" stroke="#4a7a2c" stroke-width="0.85"/><polygon points="602.5,648 605.2,645 618.14,645 615.44,648" fill="#bfe0a6"/><polygon points="615.44,648 618.14,645 618.14,654.75 615.44,657.75" fill="#8fb875"/><rect x="602.5" y="648" width="12.94" height="9.75" fill="#a9d18e"/><path d="M602.5 648L605.2 645L618.14 645L618.14 654.75L615.44 657.75L602.5 657.75ZM602.5 648L615.44 648M615.44 648L618.14 645" fill="none" stroke="#4a7a2c" stroke-width="0.85" stroke-linejoin="round"/><line x1="615.44" y1="648" x2="615.44" y2="657.75" stroke="#4a7a2c" stroke-width="0.85"/><polygon points="615.44,648 618.14,645 631.08,645 628.38,648" fill="#bfe0a6"/><polygon points="628.38,648 631.08,645 631.08,654.75 628.38,657.75" fill="#8fb875"/><rect x="615.44" y="648" width="12.94" height="9.75" fill="#a9d18e"/><path d="M615.44 648L618.14 645L631.08 645L631.08 654.75L628.38 657.75L615.44 657.75ZM615.44 648L628.38 648M628.38 648L631.08 645" fill="none" stroke="#4a7a2c" stroke-width="0.85" stroke-linejoin="round"/><line x1="628.38" y1="648" x2="628.38" y2="657.75" stroke="#4a7a2c" stroke-width="0.85"/><polygon points="628.38,648 631.08,645 644.02,645 641.32,648" fill="#bfe0a6"/><polygon points="641.32,648 644.02,645 644.02,654.75 641.32,657.75" fill="#8fb875"/><rect x="628.38" y="648" width="12.94" height="9.75" fill="#a9d18e"/><path d="M628.38 648L631.08 645L644.02 645L644.02 654.75L641.32 657.75L628.38 657.75ZM628.38 648L641.32 648M641.32 648L644.02 645" fill="none" stroke="#4a7a2c" stroke-width="0.85" stroke-linejoin="round"/><line x1="641.32" y1="648" x2="641.32" y2="657.75" stroke="#4a7a2c" stroke-width="0.85"/><polygon points="641.32,648 644.02,645 656.96,645 654.26,648" fill="#bfe0a6"/><polygon points="654.26,648 656.96,645 656.96,654.75 654.26,657.75" fill="#8fb875"/><rect x="641.32" y="648" width="12.94" height="9.75" fill="#a9d18e"/><path d="M641.32 648L644.02 645L656.96 645L656.96 654.75L654.26 657.75L641.32 657.75ZM641.32 648L654.26 648M654.26 648L656.96 645" fill="none" stroke="#4a7a2c" stroke-width="0.85" stroke-linejoin="round"/><line x1="654.26" y1="648" x2="654.26" y2="657.75" stroke="#4a7a2c" stroke-width="0.85"/><polygon points="654.26,648 656.96,645 669.9,645 667.2,648" fill="#bfe0a6"/><polygon points="667.2,648 669.9,645 669.9,654.75 667.2,657.75" fill="#8fb875"/><rect x="654.26" y="648" width="12.94" height="9.75" fill="#a9d18e"/><path d="M654.26 648L656.96 645L669.9 645L669.9 654.75L667.2 657.75L654.26 657.75ZM654.26 648L667.2 648M667.2 648L669.9 645" fill="none" stroke="#4a7a2c" stroke-width="0.85" stroke-linejoin="round"/><line x1="667.2" y1="648" x2="667.2" y2="657.75" stroke="#4a7a2c" stroke-width="0.85"/><polygon points="667.2,648 669.9,645 682.84,645 680.14,648" fill="#bfe0a6"/><polygon points="680.14,648 682.84,645 682.84,654.75 680.14,657.75" fill="#8fb875"/><rect x="667.2" y="648" width="12.94" height="9.75" fill="#a9d18e"/><path d="M667.2 648L669.9 645L682.84 645L682.84 654.75L680.14 657.75L667.2 657.75ZM667.2 648L680.14 648M680.14 648L682.84 645" fill="none" stroke="#4a7a2c" stroke-width="0.85" stroke-linejoin="round"/><line x1="680.14" y1="648" x2="680.14" y2="657.75" stroke="#4a7a2c" stroke-width="0.85"/><polygon points="680.14,648 682.84,645 695.78,645 693.08,648" fill="#bfe0a6"/><polygon points="693.08,648 695.78,645 695.78,654.75 693.08,657.75" fill="#8fb875"/><rect x="680.14" y="648" width="12.94" height="9.75" fill="#a9d18e"/><path d="M680.14 648L682.84 645L695.78 645L695.78 654.75L693.08 657.75L680.14 657.75ZM680.14 648L693.08 648M693.08 648L695.78 645" fill="none" stroke="#4a7a2c" stroke-width="0.85" stroke-linejoin="round"/><line x1="693.08" y1="648" x2="693.08" y2="657.75" stroke="#4a7a2c" stroke-width="0.85"/><polygon points="693.08,648 695.78,645 708.72,645 706.02,648" fill="#bfe0a6"/><polygon points="706.02,648 708.72,645 708.72,654.75 706.02,657.75" fill="#8fb875"/><rect x="693.08" y="648" width="12.94" height="9.75" fill="#a9d18e"/><path d="M693.08 648L695.78 645L708.72 645L708.72 654.75L706.02 657.75L693.08 657.75ZM693.08 648L706.02 648M706.02 648L708.72 645" fill="none" stroke="#4a7a2c" stroke-width="0.85" stroke-linejoin="round"/><line x1="706.02" y1="648" x2="706.02" y2="657.75" stroke="#4a7a2c" stroke-width="0.85"/><polygon points="599.8,660.75 602.5,657.75 615.44,657.75 612.74,660.75" fill="#bfe0a6"/><polygon points="612.74,660.75 615.44,657.75 615.44,667.5 612.74,670.5" fill="#8fb875"/><rect x="599.8" y="660.75" width="12.94" height="9.75" fill="#a9d18e"/><path d="M599.8 660.75L602.5 657.75L615.44 657.75L615.44 667.5L612.74 670.5L599.8 670.5ZM599.8 660.75L612.74 660.75M612.74 660.75L615.44 657.75" fill="none" stroke="#4a7a2c" stroke-width="0.85" stroke-linejoin="round"/><line x1="612.74" y1="660.75" x2="612.74" y2="670.5" stroke="#4a7a2c" stroke-width="0.85"/><polygon points="612.74,660.75 615.44,657.75 628.38,657.75 625.68,660.75" fill="#bfe0a6"/><polygon points="625.68,660.75 628.38,657.75 628.38,667.5 625.68,670.5" fill="#8fb875"/><rect x="612.74" y="660.75" width="12.94" height="9.75" fill="#a9d18e"/><path d="M612.74 660.75L615.44 657.75L628.38 657.75L628.38 667.5L625.68 670.5L612.74 670.5ZM612.74 660.75L625.68 660.75M625.68 660.75L628.38 657.75" fill="none" stroke="#4a7a2c" stroke-width="0.85" stroke-linejoin="round"/><line x1="625.68" y1="660.75" x2="625.68" y2="670.5" stroke="#4a7a2c" stroke-width="0.85"/><polygon points="625.68,660.75 628.38,657.75 641.32,657.75 638.62,660.75" fill="#bfe0a6"/><polygon points="638.62,660.75 641.32,657.75 641.32,667.5 638.62,670.5" fill="#8fb875"/><rect x="625.68" y="660.75" width="12.94" height="9.75" fill="#a9d18e"/><path d="M625.68 660.75L628.38 657.75L641.32 657.75L641.32 667.5L638.62 670.5L625.68 670.5ZM625.68 660.75L638.62 660.75M638.62 660.75L641.32 657.75" fill="none" stroke="#4a7a2c" stroke-width="0.85" stroke-linejoin="round"/><line x1="638.62" y1="660.75" x2="638.62" y2="670.5" stroke="#4a7a2c" stroke-width="0.85"/><polygon points="638.62,660.75 641.32,657.75 654.26,657.75 651.56,660.75" fill="#bfe0a6"/><polygon points="651.56,660.75 654.26,657.75 654.26,667.5 651.56,670.5" fill="#8fb875"/><rect x="638.62" y="660.75" width="12.94" height="9.75" fill="#a9d18e"/><path d="M638.62 660.75L641.32 657.75L654.26 657.75L654.26 667.5L651.56 670.5L638.62 670.5ZM638.62 660.75L651.56 660.75M651.56 660.75L654.26 657.75" fill="none" stroke="#4a7a2c" stroke-width="0.85" stroke-linejoin="round"/><line x1="651.56" y1="660.75" x2="651.56" y2="670.5" stroke="#4a7a2c" stroke-width="0.85"/><polygon points="651.56,660.75 654.26,657.75 667.2,657.75 664.5,660.75" fill="#bfe0a6"/><polygon points="664.5,660.75 667.2,657.75 667.2,667.5 664.5,670.5" fill="#8fb875"/><rect x="651.56" y="660.75" width="12.94" height="9.75" fill="#a9d18e"/><path d="M651.56 660.75L654.26 657.75L667.2 657.75L667.2 667.5L664.5 670.5L651.56 670.5ZM651.56 660.75L664.5 660.75M664.5 660.75L667.2 657.75" fill="none" stroke="#4a7a2c" stroke-width="0.85" stroke-linejoin="round"/><line x1="664.5" y1="660.75" x2="664.5" y2="670.5" stroke="#4a7a2c" stroke-width="0.85"/><polygon points="664.5,660.75 667.2,657.75 680.14,657.75 677.44,660.75" fill="#bfe0a6"/><polygon points="677.44,660.75 680.14,657.75 680.14,667.5 677.44,670.5" fill="#8fb875"/><rect x="664.5" y="660.75" width="12.94" height="9.75" fill="#a9d18e"/><path d="M664.5 660.75L667.2 657.75L680.14 657.75L680.14 667.5L677.44 670.5L664.5 670.5ZM664.5 660.75L677.44 660.75M677.44 660.75L680.14 657.75" fill="none" stroke="#4a7a2c" stroke-width="0.85" stroke-linejoin="round"/><line x1="677.44" y1="660.75" x2="677.44" y2="670.5" stroke="#4a7a2c" stroke-width="0.85"/><polygon points="677.44,660.75 680.14,657.75 693.08,657.75 690.38,660.75" fill="#bfe0a6"/><polygon points="690.38,660.75 693.08,657.75 693.08,667.5 690.38,670.5" fill="#8fb875"/><rect x="677.44" y="660.75" width="12.94" height="9.75" fill="#a9d18e"/><path d="M677.44 660.75L680.14 657.75L693.08 657.75L693.08 667.5L690.38 670.5L677.44 670.5ZM677.44 660.75L690.38 660.75M690.38 660.75L693.08 657.75" fill="none" stroke="#4a7a2c" stroke-width="0.85" stroke-linejoin="round"/><line x1="690.38" y1="660.75" x2="690.38" y2="670.5" stroke="#4a7a2c" stroke-width="0.85"/><polygon points="690.38,660.75 693.08,657.75 706.02,657.75 703.32,660.75" fill="#bfe0a6"/><polygon points="703.32,660.75 706.02,657.75 706.02,667.5 703.32,670.5" fill="#8fb875"/><rect x="690.38" y="660.75" width="12.94" height="9.75" fill="#a9d18e"/><path d="M690.38 660.75L693.08 657.75L706.02 657.75L706.02 667.5L703.32 670.5L690.38 670.5ZM690.38 660.75L703.32 660.75M703.32 660.75L706.02 657.75" fill="none" stroke="#4a7a2c" stroke-width="0.85" stroke-linejoin="round"/><line x1="703.32" y1="660.75" x2="703.32" y2="670.5" stroke="#4a7a2c" stroke-width="0.85"/><polygon points="599.8,651 602.5,648 615.44,648 612.74,651" fill="#bfe0a6"/><polygon points="612.74,651 615.44,648 615.44,657.75 612.74,660.75" fill="#8fb875"/><rect x="599.8" y="651" width="12.94" height="9.75" fill="#a9d18e"/><path d="M599.8 651L602.5 648L615.44 648L615.44 657.75L612.74 660.75L599.8 660.75ZM599.8 651L612.74 651M612.74 651L615.44 648" fill="none" stroke="#4a7a2c" stroke-width="0.85" stroke-linejoin="round"/><line x1="612.74" y1="651" x2="612.74" y2="660.75" stroke="#4a7a2c" stroke-width="0.85"/><polygon points="612.74,651 615.44,648 628.38,648 625.68,651" fill="#bfe0a6"/><polygon points="625.68,651 628.38,648 628.38,657.75 625.68,660.75" fill="#8fb875"/><rect x="612.74" y="651" width="12.94" height="9.75" fill="#a9d18e"/><path d="M612.74 651L615.44 648L628.38 648L628.38 657.75L625.68 660.75L612.74 660.75ZM612.74 651L625.68 651M625.68 651L628.38 648" fill="none" stroke="#4a7a2c" stroke-width="0.85" stroke-linejoin="round"/><line x1="625.68" y1="651" x2="625.68" y2="660.75" stroke="#4a7a2c" stroke-width="0.85"/><polygon points="625.68,651 628.38,648 641.32,648 638.62,651" fill="#bfe0a6"/><polygon points="638.62,651 641.32,648 641.32,657.75 638.62,660.75" fill="#8fb875"/><rect x="625.68" y="651" width="12.94" height="9.75" fill="#a9d18e"/><path d="M625.68 651L628.38 648L641.32 648L641.32 657.75L638.62 660.75L625.68 660.75ZM625.68 651L638.62 651M638.62 651L641.32 648" fill="none" stroke="#4a7a2c" stroke-width="0.85" stroke-linejoin="round"/><line x1="638.62" y1="651" x2="638.62" y2="660.75" stroke="#4a7a2c" stroke-width="0.85"/><polygon points="638.62,651 641.32,648 654.26,648 651.56,651" fill="#bfe0a6"/><polygon points="651.56,651 654.26,648 654.26,657.75 651.56,660.75" fill="#8fb875"/><rect x="638.62" y="651" width="12.94" height="9.75" fill="#a9d18e"/><path d="M638.62 651L641.32 648L654.26 648L654.26 657.75L651.56 660.75L638.62 660.75ZM638.62 651L651.56 651M651.56 651L654.26 648" fill="none" stroke="#4a7a2c" stroke-width="0.85" stroke-linejoin="round"/><line x1="651.56" y1="651" x2="651.56" y2="660.75" stroke="#4a7a2c" stroke-width="0.85"/><polygon points="651.56,651 654.26,648 667.2,648 664.5,651" fill="#bfe0a6"/><polygon points="664.5,651 667.2,648 667.2,657.75 664.5,660.75" fill="#8fb875"/><rect x="651.56" y="651" width="12.94" height="9.75" fill="#a9d18e"/><path d="M651.56 651L654.26 648L667.2 648L667.2 657.75L664.5 660.75L651.56 660.75ZM651.56 651L664.5 651M664.5 651L667.2 648" fill="none" stroke="#4a7a2c" stroke-width="0.85" stroke-linejoin="round"/><line x1="664.5" y1="651" x2="664.5" y2="660.75" stroke="#4a7a2c" stroke-width="0.85"/><polygon points="664.5,651 667.2,648 680.14,648 677.44,651" fill="#bfe0a6"/><polygon points="677.44,651 680.14,648 680.14,657.75 677.44,660.75" fill="#8fb875"/><rect x="664.5" y="651" width="12.94" height="9.75" fill="#a9d18e"/><path d="M664.5 651L667.2 648L680.14 648L680.14 657.75L677.44 660.75L664.5 660.75ZM664.5 651L677.44 651M677.44 651L680.14 648" fill="none" stroke="#4a7a2c" stroke-width="0.85" stroke-linejoin="round"/><line x1="677.44" y1="651" x2="677.44" y2="660.75" stroke="#4a7a2c" stroke-width="0.85"/><polygon points="677.44,651 680.14,648 693.08,648 690.38,651" fill="#bfe0a6"/><polygon points="690.38,651 693.08,648 693.08,657.75 690.38,660.75" fill="#8fb875"/><rect x="677.44" y="651" width="12.94" height="9.75" fill="#a9d18e"/><path d="M677.44 651L680.14 648L693.08 648L693.08 657.75L690.38 660.75L677.44 660.75ZM677.44 651L690.38 651M690.38 651L693.08 648" fill="none" stroke="#4a7a2c" stroke-width="0.85" stroke-linejoin="round"/><line x1="690.38" y1="651" x2="690.38" y2="660.75" stroke="#4a7a2c" stroke-width="0.85"/><polygon points="690.38,651 693.08,648 706.02,648 703.32,651" fill="#bfe0a6"/><polygon points="703.32,651 706.02,648 706.02,657.75 703.32,660.75" fill="#8fb875"/><rect x="690.38" y="651" width="12.94" height="9.75" fill="#a9d18e"/><path d="M690.38 651L693.08 648L706.02 648L706.02 657.75L703.32 660.75L690.38 660.75ZM690.38 651L703.32 651M703.32 651L706.02 648" fill="none" stroke="#4a7a2c" stroke-width="0.85" stroke-linejoin="round"/><line x1="703.32" y1="651" x2="703.32" y2="660.75" stroke="#4a7a2c" stroke-width="0.85"/><polygon points="597.1,663.75 599.8,660.75 612.74,660.75 610.04,663.75" fill="#bfe0a6"/><polygon points="610.04,663.75 612.74,660.75 612.74,670.5 610.04,673.5" fill="#8fb875"/><rect x="597.1" y="663.75" width="12.94" height="9.75" fill="#a9d18e"/><path d="M597.1 663.75L599.8 660.75L612.74 660.75L612.74 670.5L610.04 673.5L597.1 673.5ZM597.1 663.75L610.04 663.75M610.04 663.75L612.74 660.75" fill="none" stroke="#4a7a2c" stroke-width="0.85" stroke-linejoin="round"/><line x1="610.04" y1="663.75" x2="610.04" y2="673.5" stroke="#4a7a2c" stroke-width="0.85"/><polygon points="610.04,663.75 612.74,660.75 625.68,660.75 622.98,663.75" fill="#bfe0a6"/><polygon points="622.98,663.75 625.68,660.75 625.68,670.5 622.98,673.5" fill="#8fb875"/><rect x="610.04" y="663.75" width="12.94" height="9.75" fill="#a9d18e"/><path d="M610.04 663.75L612.74 660.75L625.68 660.75L625.68 670.5L622.98 673.5L610.04 673.5ZM610.04 663.75L622.98 663.75M622.98 663.75L625.68 660.75" fill="none" stroke="#4a7a2c" stroke-width="0.85" stroke-linejoin="round"/><line x1="622.98" y1="663.75" x2="622.98" y2="673.5" stroke="#4a7a2c" stroke-width="0.85"/><polygon points="622.98,663.75 625.68,660.75 638.62,660.75 635.92,663.75" fill="#bfe0a6"/><polygon points="635.92,663.75 638.62,660.75 638.62,670.5 635.92,673.5" fill="#8fb875"/><rect x="622.98" y="663.75" width="12.94" height="9.75" fill="#a9d18e"/><path d="M622.98 663.75L625.68 660.75L638.62 660.75L638.62 670.5L635.92 673.5L622.98 673.5ZM622.98 663.75L635.92 663.75M635.92 663.75L638.62 660.75" fill="none" stroke="#4a7a2c" stroke-width="0.85" stroke-linejoin="round"/><line x1="635.92" y1="663.75" x2="635.92" y2="673.5" stroke="#4a7a2c" stroke-width="0.85"/><polygon points="635.92,663.75 638.62,660.75 651.56,660.75 648.86,663.75" fill="#bfe0a6"/><polygon points="648.86,663.75 651.56,660.75 651.56,670.5 648.86,673.5" fill="#8fb875"/><rect x="635.92" y="663.75" width="12.94" height="9.75" fill="#a9d18e"/><path d="M635.92 663.75L638.62 660.75L651.56 660.75L651.56 670.5L648.86 673.5L635.92 673.5ZM635.92 663.75L648.86 663.75M648.86 663.75L651.56 660.75" fill="none" stroke="#4a7a2c" stroke-width="0.85" stroke-linejoin="round"/><line x1="648.86" y1="663.75" x2="648.86" y2="673.5" stroke="#4a7a2c" stroke-width="0.85"/><polygon points="648.86,663.75 651.56,660.75 664.5,660.75 661.8,663.75" fill="#bfe0a6"/><polygon points="661.8,663.75 664.5,660.75 664.5,670.5 661.8,673.5" fill="#8fb875"/><rect x="648.86" y="663.75" width="12.94" height="9.75" fill="#a9d18e"/><path d="M648.86 663.75L651.56 660.75L664.5 660.75L664.5 670.5L661.8 673.5L648.86 673.5ZM648.86 663.75L661.8 663.75M661.8 663.75L664.5 660.75" fill="none" stroke="#4a7a2c" stroke-width="0.85" stroke-linejoin="round"/><line x1="661.8" y1="663.75" x2="661.8" y2="673.5" stroke="#4a7a2c" stroke-width="0.85"/><polygon points="661.8,663.75 664.5,660.75 677.44,660.75 674.74,663.75" fill="#bfe0a6"/><polygon points="674.74,663.75 677.44,660.75 677.44,670.5 674.74,673.5" fill="#8fb875"/><rect x="661.8" y="663.75" width="12.94" height="9.75" fill="#a9d18e"/><path d="M661.8 663.75L664.5 660.75L677.44 660.75L677.44 670.5L674.74 673.5L661.8 673.5ZM661.8 663.75L674.74 663.75M674.74 663.75L677.44 660.75" fill="none" stroke="#4a7a2c" stroke-width="0.85" stroke-linejoin="round"/><line x1="674.74" y1="663.75" x2="674.74" y2="673.5" stroke="#4a7a2c" stroke-width="0.85"/><polygon points="674.74,663.75 677.44,660.75 690.38,660.75 687.68,663.75" fill="#bfe0a6"/><polygon points="687.68,663.75 690.38,660.75 690.38,670.5 687.68,673.5" fill="#8fb875"/><rect x="674.74" y="663.75" width="12.94" height="9.75" fill="#a9d18e"/><path d="M674.74 663.75L677.44 660.75L690.38 660.75L690.38 670.5L687.68 673.5L674.74 673.5ZM674.74 663.75L687.68 663.75M687.68 663.75L690.38 660.75" fill="none" stroke="#4a7a2c" stroke-width="0.85" stroke-linejoin="round"/><line x1="687.68" y1="663.75" x2="687.68" y2="673.5" stroke="#4a7a2c" stroke-width="0.85"/><polygon points="687.68,663.75 690.38,660.75 703.32,660.75 700.62,663.75" fill="#bfe0a6"/><polygon points="700.62,663.75 703.32,660.75 703.32,670.5 700.62,673.5" fill="#8fb875"/><rect x="687.68" y="663.75" width="12.94" height="9.75" fill="#a9d18e"/><path d="M687.68 663.75L690.38 660.75L703.32 660.75L703.32 670.5L700.62 673.5L687.68 673.5ZM687.68 663.75L700.62 663.75M700.62 663.75L703.32 660.75" fill="none" stroke="#4a7a2c" stroke-width="0.85" stroke-linejoin="round"/><line x1="700.62" y1="663.75" x2="700.62" y2="673.5" stroke="#4a7a2c" stroke-width="0.85"/><polygon points="597.1,654 599.8,651 612.74,651 610.04,654" fill="#bfe0a6"/><polygon points="610.04,654 612.74,651 612.74,660.75 610.04,663.75" fill="#8fb875"/><rect x="597.1" y="654" width="12.94" height="9.75" fill="#a9d18e"/><path d="M597.1 654L599.8 651L612.74 651L612.74 660.75L610.04 663.75L597.1 663.75ZM597.1 654L610.04 654M610.04 654L612.74 651" fill="none" stroke="#4a7a2c" stroke-width="0.85" stroke-linejoin="round"/><line x1="610.04" y1="654" x2="610.04" y2="663.75" stroke="#4a7a2c" stroke-width="0.85"/><polygon points="610.04,654 612.74,651 625.68,651 622.98,654" fill="#bfe0a6"/><polygon points="622.98,654 625.68,651 625.68,660.75 622.98,663.75" fill="#8fb875"/><rect x="610.04" y="654" width="12.94" height="9.75" fill="#a9d18e"/><path d="M610.04 654L612.74 651L625.68 651L625.68 660.75L622.98 663.75L610.04 663.75ZM610.04 654L622.98 654M622.98 654L625.68 651" fill="none" stroke="#4a7a2c" stroke-width="0.85" stroke-linejoin="round"/><line x1="622.98" y1="654" x2="622.98" y2="663.75" stroke="#4a7a2c" stroke-width="0.85"/><polygon points="622.98,654 625.68,651 638.62,651 635.92,654" fill="#bfe0a6"/><polygon points="635.92,654 638.62,651 638.62,660.75 635.92,663.75" fill="#8fb875"/><rect x="622.98" y="654" width="12.94" height="9.75" fill="#a9d18e"/><path d="M622.98 654L625.68 651L638.62 651L638.62 660.75L635.92 663.75L622.98 663.75ZM622.98 654L635.92 654M635.92 654L638.62 651" fill="none" stroke="#4a7a2c" stroke-width="0.85" stroke-linejoin="round"/><line x1="635.92" y1="654" x2="635.92" y2="663.75" stroke="#4a7a2c" stroke-width="0.85"/><polygon points="635.92,654 638.62,651 651.56,651 648.86,654" fill="#bfe0a6"/><polygon points="648.86,654 651.56,651 651.56,660.75 648.86,663.75" fill="#8fb875"/><rect x="635.92" y="654" width="12.94" height="9.75" fill="#a9d18e"/><path d="M635.92 654L638.62 651L651.56 651L651.56 660.75L648.86 663.75L635.92 663.75ZM635.92 654L648.86 654M648.86 654L651.56 651" fill="none" stroke="#4a7a2c" stroke-width="0.85" stroke-linejoin="round"/><line x1="648.86" y1="654" x2="648.86" y2="663.75" stroke="#4a7a2c" stroke-width="0.85"/><polygon points="648.86,654 651.56,651 664.5,651 661.8,654" fill="#bfe0a6"/><polygon points="661.8,654 664.5,651 664.5,660.75 661.8,663.75" fill="#8fb875"/><rect x="648.86" y="654" width="12.94" height="9.75" fill="#a9d18e"/><path d="M648.86 654L651.56 651L664.5 651L664.5 660.75L661.8 663.75L648.86 663.75ZM648.86 654L661.8 654M661.8 654L664.5 651" fill="none" stroke="#4a7a2c" stroke-width="0.85" stroke-linejoin="round"/><line x1="661.8" y1="654" x2="661.8" y2="663.75" stroke="#4a7a2c" stroke-width="0.85"/><polygon points="661.8,654 664.5,651 677.44,651 674.74,654" fill="#bfe0a6"/><polygon points="674.74,654 677.44,651 677.44,660.75 674.74,663.75" fill="#8fb875"/><rect x="661.8" y="654" width="12.94" height="9.75" fill="#a9d18e"/><path d="M661.8 654L664.5 651L677.44 651L677.44 660.75L674.74 663.75L661.8 663.75ZM661.8 654L674.74 654M674.74 654L677.44 651" fill="none" stroke="#4a7a2c" stroke-width="0.85" stroke-linejoin="round"/><line x1="674.74" y1="654" x2="674.74" y2="663.75" stroke="#4a7a2c" stroke-width="0.85"/><polygon points="674.74,654 677.44,651 690.38,651 687.68,654" fill="#bfe0a6"/><polygon points="687.68,654 690.38,651 690.38,660.75 687.68,663.75" fill="#8fb875"/><rect x="674.74" y="654" width="12.94" height="9.75" fill="#a9d18e"/><path d="M674.74 654L677.44 651L690.38 651L690.38 660.75L687.68 663.75L674.74 663.75ZM674.74 654L687.68 654M687.68 654L690.38 651" fill="none" stroke="#4a7a2c" stroke-width="0.85" stroke-linejoin="round"/><line x1="687.68" y1="654" x2="687.68" y2="663.75" stroke="#4a7a2c" stroke-width="0.85"/><polygon points="687.68,654 690.38,651 703.32,651 700.62,654" fill="#bfe0a6"/><polygon points="700.62,654 703.32,651 703.32,660.75 700.62,663.75" fill="#8fb875"/><rect x="687.68" y="654" width="12.94" height="9.75" fill="#a9d18e"/><path d="M687.68 654L690.38 651L703.32 651L703.32 660.75L700.62 663.75L687.68 663.75ZM687.68 654L700.62 654M700.62 654L703.32 651" fill="none" stroke="#4a7a2c" stroke-width="0.85" stroke-linejoin="round"/><line x1="700.62" y1="654" x2="700.62" y2="663.75" stroke="#4a7a2c" stroke-width="0.85"/><polygon points="594.4,666.75 597.1,663.75 610.04,663.75 607.34,666.75" fill="#bfe0a6"/><polygon points="607.34,666.75 610.04,663.75 610.04,673.5 607.34,676.5" fill="#8fb875"/><rect x="594.4" y="666.75" width="12.94" height="9.75" fill="#a9d18e"/><path d="M594.4 666.75L597.1 663.75L610.04 663.75L610.04 673.5L607.34 676.5L594.4 676.5ZM594.4 666.75L607.34 666.75M607.34 666.75L610.04 663.75" fill="none" stroke="#4a7a2c" stroke-width="0.85" stroke-linejoin="round"/><line x1="607.34" y1="666.75" x2="607.34" y2="676.5" stroke="#4a7a2c" stroke-width="0.85"/><polygon points="607.34,666.75 610.04,663.75 622.98,663.75 620.28,666.75" fill="#bfe0a6"/><polygon points="620.28,666.75 622.98,663.75 622.98,673.5 620.28,676.5" fill="#8fb875"/><rect x="607.34" y="666.75" width="12.94" height="9.75" fill="#a9d18e"/><path d="M607.34 666.75L610.04 663.75L622.98 663.75L622.98 673.5L620.28 676.5L607.34 676.5ZM607.34 666.75L620.28 666.75M620.28 666.75L622.98 663.75" fill="none" stroke="#4a7a2c" stroke-width="0.85" stroke-linejoin="round"/><line x1="620.28" y1="666.75" x2="620.28" y2="676.5" stroke="#4a7a2c" stroke-width="0.85"/><polygon points="620.28,666.75 622.98,663.75 635.92,663.75 633.22,666.75" fill="#bfe0a6"/><polygon points="633.22,666.75 635.92,663.75 635.92,673.5 633.22,676.5" fill="#8fb875"/><rect x="620.28" y="666.75" width="12.94" height="9.75" fill="#a9d18e"/><path d="M620.28 666.75L622.98 663.75L635.92 663.75L635.92 673.5L633.22 676.5L620.28 676.5ZM620.28 666.75L633.22 666.75M633.22 666.75L635.92 663.75" fill="none" stroke="#4a7a2c" stroke-width="0.85" stroke-linejoin="round"/><line x1="633.22" y1="666.75" x2="633.22" y2="676.5" stroke="#4a7a2c" stroke-width="0.85"/><polygon points="633.22,666.75 635.92,663.75 648.86,663.75 646.16,666.75" fill="#bfe0a6"/><polygon points="646.16,666.75 648.86,663.75 648.86,673.5 646.16,676.5" fill="#8fb875"/><rect x="633.22" y="666.75" width="12.94" height="9.75" fill="#a9d18e"/><path d="M633.22 666.75L635.92 663.75L648.86 663.75L648.86 673.5L646.16 676.5L633.22 676.5ZM633.22 666.75L646.16 666.75M646.16 666.75L648.86 663.75" fill="none" stroke="#4a7a2c" stroke-width="0.85" stroke-linejoin="round"/><line x1="646.16" y1="666.75" x2="646.16" y2="676.5" stroke="#4a7a2c" stroke-width="0.85"/><polygon points="646.16,666.75 648.86,663.75 661.8,663.75 659.1,666.75" fill="#bfe0a6"/><polygon points="659.1,666.75 661.8,663.75 661.8,673.5 659.1,676.5" fill="#8fb875"/><rect x="646.16" y="666.75" width="12.94" height="9.75" fill="#a9d18e"/><path d="M646.16 666.75L648.86 663.75L661.8 663.75L661.8 673.5L659.1 676.5L646.16 676.5ZM646.16 666.75L659.1 666.75M659.1 666.75L661.8 663.75" fill="none" stroke="#4a7a2c" stroke-width="0.85" stroke-linejoin="round"/><line x1="659.1" y1="666.75" x2="659.1" y2="676.5" stroke="#4a7a2c" stroke-width="0.85"/><polygon points="659.1,666.75 661.8,663.75 674.74,663.75 672.04,666.75" fill="#bfe0a6"/><polygon points="672.04,666.75 674.74,663.75 674.74,673.5 672.04,676.5" fill="#8fb875"/><rect x="659.1" y="666.75" width="12.94" height="9.75" fill="#a9d18e"/><path d="M659.1 666.75L661.8 663.75L674.74 663.75L674.74 673.5L672.04 676.5L659.1 676.5ZM659.1 666.75L672.04 666.75M672.04 666.75L674.74 663.75" fill="none" stroke="#4a7a2c" stroke-width="0.85" stroke-linejoin="round"/><line x1="672.04" y1="666.75" x2="672.04" y2="676.5" stroke="#4a7a2c" stroke-width="0.85"/><polygon points="672.04,666.75 674.74,663.75 687.68,663.75 684.98,666.75" fill="#bfe0a6"/><polygon points="684.98,666.75 687.68,663.75 687.68,673.5 684.98,676.5" fill="#8fb875"/><rect x="672.04" y="666.75" width="12.94" height="9.75" fill="#a9d18e"/><path d="M672.04 666.75L674.74 663.75L687.68 663.75L687.68 673.5L684.98 676.5L672.04 676.5ZM672.04 666.75L684.98 666.75M684.98 666.75L687.68 663.75" fill="none" stroke="#4a7a2c" stroke-width="0.85" stroke-linejoin="round"/><line x1="684.98" y1="666.75" x2="684.98" y2="676.5" stroke="#4a7a2c" stroke-width="0.85"/><polygon points="684.98,666.75 687.68,663.75 700.62,663.75 697.92,666.75" fill="#bfe0a6"/><polygon points="697.92,666.75 700.62,663.75 700.62,673.5 697.92,676.5" fill="#8fb875"/><rect x="684.98" y="666.75" width="12.94" height="9.75" fill="#a9d18e"/><path d="M684.98 666.75L687.68 663.75L700.62 663.75L700.62 673.5L697.92 676.5L684.98 676.5ZM684.98 666.75L697.92 666.75M697.92 666.75L700.62 663.75" fill="none" stroke="#4a7a2c" stroke-width="0.85" stroke-linejoin="round"/><line x1="697.92" y1="666.75" x2="697.92" y2="676.5" stroke="#4a7a2c" stroke-width="0.85"/><polygon points="594.4,657 597.1,654 610.04,654 607.34,657" fill="#bfe0a6"/><polygon points="607.34,657 610.04,654 610.04,663.75 607.34,666.75" fill="#8fb875"/><rect x="594.4" y="657" width="12.94" height="9.75" fill="#a9d18e"/><path d="M594.4 657L597.1 654L610.04 654L610.04 663.75L607.34 666.75L594.4 666.75ZM594.4 657L607.34 657M607.34 657L610.04 654" fill="none" stroke="#4a7a2c" stroke-width="0.85" stroke-linejoin="round"/><line x1="607.34" y1="657" x2="607.34" y2="666.75" stroke="#4a7a2c" stroke-width="0.85"/><polygon points="607.34,657 610.04,654 622.98,654 620.28,657" fill="#bfe0a6"/><polygon points="620.28,657 622.98,654 622.98,663.75 620.28,666.75" fill="#8fb875"/><rect x="607.34" y="657" width="12.94" height="9.75" fill="#a9d18e"/><path d="M607.34 657L610.04 654L622.98 654L622.98 663.75L620.28 666.75L607.34 666.75ZM607.34 657L620.28 657M620.28 657L622.98 654" fill="none" stroke="#4a7a2c" stroke-width="0.85" stroke-linejoin="round"/><line x1="620.28" y1="657" x2="620.28" y2="666.75" stroke="#4a7a2c" stroke-width="0.85"/><polygon points="620.28,657 622.98,654 635.92,654 633.22,657" fill="#bfe0a6"/><polygon points="633.22,657 635.92,654 635.92,663.75 633.22,666.75" fill="#8fb875"/><rect x="620.28" y="657" width="12.94" height="9.75" fill="#a9d18e"/><path d="M620.28 657L622.98 654L635.92 654L635.92 663.75L633.22 666.75L620.28 666.75ZM620.28 657L633.22 657M633.22 657L635.92 654" fill="none" stroke="#4a7a2c" stroke-width="0.85" stroke-linejoin="round"/><line x1="633.22" y1="657" x2="633.22" y2="666.75" stroke="#4a7a2c" stroke-width="0.85"/><polygon points="633.22,657 635.92,654 648.86,654 646.16,657" fill="#bfe0a6"/><polygon points="646.16,657 648.86,654 648.86,663.75 646.16,666.75" fill="#8fb875"/><rect x="633.22" y="657" width="12.94" height="9.75" fill="#a9d18e"/><path d="M633.22 657L635.92 654L648.86 654L648.86 663.75L646.16 666.75L633.22 666.75ZM633.22 657L646.16 657M646.16 657L648.86 654" fill="none" stroke="#4a7a2c" stroke-width="0.85" stroke-linejoin="round"/><line x1="646.16" y1="657" x2="646.16" y2="666.75" stroke="#4a7a2c" stroke-width="0.85"/><polygon points="646.16,657 648.86,654 661.8,654 659.1,657" fill="#bfe0a6"/><polygon points="659.1,657 661.8,654 661.8,663.75 659.1,666.75" fill="#8fb875"/><rect x="646.16" y="657" width="12.94" height="9.75" fill="#a9d18e"/><path d="M646.16 657L648.86 654L661.8 654L661.8 663.75L659.1 666.75L646.16 666.75ZM646.16 657L659.1 657M659.1 657L661.8 654" fill="none" stroke="#4a7a2c" stroke-width="0.85" stroke-linejoin="round"/><line x1="659.1" y1="657" x2="659.1" y2="666.75" stroke="#4a7a2c" stroke-width="0.85"/><polygon points="659.1,657 661.8,654 674.74,654 672.04,657" fill="#bfe0a6"/><polygon points="672.04,657 674.74,654 674.74,663.75 672.04,666.75" fill="#8fb875"/><rect x="659.1" y="657" width="12.94" height="9.75" fill="#a9d18e"/><path d="M659.1 657L661.8 654L674.74 654L674.74 663.75L672.04 666.75L659.1 666.75ZM659.1 657L672.04 657M672.04 657L674.74 654" fill="none" stroke="#4a7a2c" stroke-width="0.85" stroke-linejoin="round"/><line x1="672.04" y1="657" x2="672.04" y2="666.75" stroke="#4a7a2c" stroke-width="0.85"/><polygon points="672.04,657 674.74,654 687.68,654 684.98,657" fill="#bfe0a6"/><polygon points="684.98,657 687.68,654 687.68,663.75 684.98,666.75" fill="#8fb875"/><rect x="672.04" y="657" width="12.94" height="9.75" fill="#a9d18e"/><path d="M672.04 657L674.74 654L687.68 654L687.68 663.75L684.98 666.75L672.04 666.75ZM672.04 657L684.98 657M684.98 657L687.68 654" fill="none" stroke="#4a7a2c" stroke-width="0.85" stroke-linejoin="round"/><line x1="684.98" y1="657" x2="684.98" y2="666.75" stroke="#4a7a2c" stroke-width="0.85"/><polygon points="684.98,657 687.68,654 700.62,654 697.92,657" fill="#bfe0a6"/><polygon points="697.92,657 700.62,654 700.62,663.75 697.92,666.75" fill="#8fb875"/><rect x="684.98" y="657" width="12.94" height="9.75" fill="#a9d18e"/><path d="M684.98 657L687.68 654L700.62 654L700.62 663.75L697.92 666.75L684.98 666.75ZM684.98 657L697.92 657M697.92 657L700.62 654" fill="none" stroke="#4a7a2c" stroke-width="0.85" stroke-linejoin="round"/><line x1="697.92" y1="657" x2="697.92" y2="666.75" stroke="#4a7a2c" stroke-width="0.85"/><polygon points="591.7,669.75 594.4,666.75 607.34,666.75 604.64,669.75" fill="#bfe0a6"/><polygon points="604.64,669.75 607.34,666.75 607.34,676.5 604.64,679.5" fill="#8fb875"/><rect x="591.7" y="669.75" width="12.94" height="9.75" fill="#a9d18e"/><path d="M591.7 669.75L594.4 666.75L607.34 666.75L607.34 676.5L604.64 679.5L591.7 679.5ZM591.7 669.75L604.64 669.75M604.64 669.75L607.34 666.75" fill="none" stroke="#4a7a2c" stroke-width="0.85" stroke-linejoin="round"/><line x1="604.64" y1="669.75" x2="604.64" y2="679.5" stroke="#4a7a2c" stroke-width="0.85"/><polygon points="604.64,669.75 607.34,666.75 620.28,666.75 617.58,669.75" fill="#bfe0a6"/><polygon points="617.58,669.75 620.28,666.75 620.28,676.5 617.58,679.5" fill="#8fb875"/><rect x="604.64" y="669.75" width="12.94" height="9.75" fill="#a9d18e"/><path d="M604.64 669.75L607.34 666.75L620.28 666.75L620.28 676.5L617.58 679.5L604.64 679.5ZM604.64 669.75L617.58 669.75M617.58 669.75L620.28 666.75" fill="none" stroke="#4a7a2c" stroke-width="0.85" stroke-linejoin="round"/><line x1="617.58" y1="669.75" x2="617.58" y2="679.5" stroke="#4a7a2c" stroke-width="0.85"/><polygon points="617.58,669.75 620.28,666.75 633.22,666.75 630.52,669.75" fill="#bfe0a6"/><polygon points="630.52,669.75 633.22,666.75 633.22,676.5 630.52,679.5" fill="#8fb875"/><rect x="617.58" y="669.75" width="12.94" height="9.75" fill="#a9d18e"/><path d="M617.58 669.75L620.28 666.75L633.22 666.75L633.22 676.5L630.52 679.5L617.58 679.5ZM617.58 669.75L630.52 669.75M630.52 669.75L633.22 666.75" fill="none" stroke="#4a7a2c" stroke-width="0.85" stroke-linejoin="round"/><line x1="630.52" y1="669.75" x2="630.52" y2="679.5" stroke="#4a7a2c" stroke-width="0.85"/><polygon points="630.52,669.75 633.22,666.75 646.16,666.75 643.46,669.75" fill="#bfe0a6"/><polygon points="643.46,669.75 646.16,666.75 646.16,676.5 643.46,679.5" fill="#8fb875"/><rect x="630.52" y="669.75" width="12.94" height="9.75" fill="#a9d18e"/><path d="M630.52 669.75L633.22 666.75L646.16 666.75L646.16 676.5L643.46 679.5L630.52 679.5ZM630.52 669.75L643.46 669.75M643.46 669.75L646.16 666.75" fill="none" stroke="#4a7a2c" stroke-width="0.85" stroke-linejoin="round"/><line x1="643.46" y1="669.75" x2="643.46" y2="679.5" stroke="#4a7a2c" stroke-width="0.85"/><polygon points="643.46,669.75 646.16,666.75 659.1,666.75 656.4,669.75" fill="#bfe0a6"/><polygon points="656.4,669.75 659.1,666.75 659.1,676.5 656.4,679.5" fill="#8fb875"/><rect x="643.46" y="669.75" width="12.94" height="9.75" fill="#a9d18e"/><path d="M643.46 669.75L646.16 666.75L659.1 666.75L659.1 676.5L656.4 679.5L643.46 679.5ZM643.46 669.75L656.4 669.75M656.4 669.75L659.1 666.75" fill="none" stroke="#4a7a2c" stroke-width="0.85" stroke-linejoin="round"/><line x1="656.4" y1="669.75" x2="656.4" y2="679.5" stroke="#4a7a2c" stroke-width="0.85"/><polygon points="656.4,669.75 659.1,666.75 672.04,666.75 669.34,669.75" fill="#bfe0a6"/><polygon points="669.34,669.75 672.04,666.75 672.04,676.5 669.34,679.5" fill="#8fb875"/><rect x="656.4" y="669.75" width="12.94" height="9.75" fill="#a9d18e"/><path d="M656.4 669.75L659.1 666.75L672.04 666.75L672.04 676.5L669.34 679.5L656.4 679.5ZM656.4 669.75L669.34 669.75M669.34 669.75L672.04 666.75" fill="none" stroke="#4a7a2c" stroke-width="0.85" stroke-linejoin="round"/><line x1="669.34" y1="669.75" x2="669.34" y2="679.5" stroke="#4a7a2c" stroke-width="0.85"/><polygon points="669.34,669.75 672.04,666.75 684.98,666.75 682.28,669.75" fill="#bfe0a6"/><polygon points="682.28,669.75 684.98,666.75 684.98,676.5 682.28,679.5" fill="#8fb875"/><rect x="669.34" y="669.75" width="12.94" height="9.75" fill="#a9d18e"/><path d="M669.34 669.75L672.04 666.75L684.98 666.75L684.98 676.5L682.28 679.5L669.34 679.5ZM669.34 669.75L682.28 669.75M682.28 669.75L684.98 666.75" fill="none" stroke="#4a7a2c" stroke-width="0.85" stroke-linejoin="round"/><line x1="682.28" y1="669.75" x2="682.28" y2="679.5" stroke="#4a7a2c" stroke-width="0.85"/><polygon points="682.28,669.75 684.98,666.75 697.92,666.75 695.22,669.75" fill="#bfe0a6"/><polygon points="695.22,669.75 697.92,666.75 697.92,676.5 695.22,679.5" fill="#8fb875"/><rect x="682.28" y="669.75" width="12.94" height="9.75" fill="#a9d18e"/><path d="M682.28 669.75L684.98 666.75L697.92 666.75L697.92 676.5L695.22 679.5L682.28 679.5ZM682.28 669.75L695.22 669.75M695.22 669.75L697.92 666.75" fill="none" stroke="#4a7a2c" stroke-width="0.85" stroke-linejoin="round"/><line x1="695.22" y1="669.75" x2="695.22" y2="679.5" stroke="#4a7a2c" stroke-width="0.85"/><polygon points="591.7,660 594.4,657 607.34,657 604.64,660" fill="#bfe0a6"/><polygon points="604.64,660 607.34,657 607.34,666.75 604.64,669.75" fill="#8fb875"/><rect x="591.7" y="660" width="12.94" height="9.75" fill="#a9d18e"/><path d="M591.7 660L594.4 657L607.34 657L607.34 666.75L604.64 669.75L591.7 669.75ZM591.7 660L604.64 660M604.64 660L607.34 657" fill="none" stroke="#4a7a2c" stroke-width="0.85" stroke-linejoin="round"/><line x1="604.64" y1="660" x2="604.64" y2="669.75" stroke="#4a7a2c" stroke-width="0.85"/><polygon points="604.64,660 607.34,657 620.28,657 617.58,660" fill="#bfe0a6"/><polygon points="617.58,660 620.28,657 620.28,666.75 617.58,669.75" fill="#8fb875"/><rect x="604.64" y="660" width="12.94" height="9.75" fill="#a9d18e"/><path d="M604.64 660L607.34 657L620.28 657L620.28 666.75L617.58 669.75L604.64 669.75ZM604.64 660L617.58 660M617.58 660L620.28 657" fill="none" stroke="#4a7a2c" stroke-width="0.85" stroke-linejoin="round"/><line x1="617.58" y1="660" x2="617.58" y2="669.75" stroke="#4a7a2c" stroke-width="0.85"/><polygon points="617.58,660 620.28,657 633.22,657 630.52,660" fill="#bfe0a6"/><polygon points="630.52,660 633.22,657 633.22,666.75 630.52,669.75" fill="#8fb875"/><rect x="617.58" y="660" width="12.94" height="9.75" fill="#a9d18e"/><path d="M617.58 660L620.28 657L633.22 657L633.22 666.75L630.52 669.75L617.58 669.75ZM617.58 660L630.52 660M630.52 660L633.22 657" fill="none" stroke="#4a7a2c" stroke-width="0.85" stroke-linejoin="round"/><line x1="630.52" y1="660" x2="630.52" y2="669.75" stroke="#4a7a2c" stroke-width="0.85"/><polygon points="630.52,660 633.22,657 646.16,657 643.46,660" fill="#bfe0a6"/><polygon points="643.46,660 646.16,657 646.16,666.75 643.46,669.75" fill="#8fb875"/><rect x="630.52" y="660" width="12.94" height="9.75" fill="#a9d18e"/><path d="M630.52 660L633.22 657L646.16 657L646.16 666.75L643.46 669.75L630.52 669.75ZM630.52 660L643.46 660M643.46 660L646.16 657" fill="none" stroke="#4a7a2c" stroke-width="0.85" stroke-linejoin="round"/><line x1="643.46" y1="660" x2="643.46" y2="669.75" stroke="#4a7a2c" stroke-width="0.85"/><polygon points="643.46,660 646.16,657 659.1,657 656.4,660" fill="#bfe0a6"/><polygon points="656.4,660 659.1,657 659.1,666.75 656.4,669.75" fill="#8fb875"/><rect x="643.46" y="660" width="12.94" height="9.75" fill="#a9d18e"/><path d="M643.46 660L646.16 657L659.1 657L659.1 666.75L656.4 669.75L643.46 669.75ZM643.46 660L656.4 660M656.4 660L659.1 657" fill="none" stroke="#4a7a2c" stroke-width="0.85" stroke-linejoin="round"/><line x1="656.4" y1="660" x2="656.4" y2="669.75" stroke="#4a7a2c" stroke-width="0.85"/><polygon points="656.4,660 659.1,657 672.04,657 669.34,660" fill="#bfe0a6"/><polygon points="669.34,660 672.04,657 672.04,666.75 669.34,669.75" fill="#8fb875"/><rect x="656.4" y="660" width="12.94" height="9.75" fill="#a9d18e"/><path d="M656.4 660L659.1 657L672.04 657L672.04 666.75L669.34 669.75L656.4 669.75ZM656.4 660L669.34 660M669.34 660L672.04 657" fill="none" stroke="#4a7a2c" stroke-width="0.85" stroke-linejoin="round"/><line x1="669.34" y1="660" x2="669.34" y2="669.75" stroke="#4a7a2c" stroke-width="0.85"/><polygon points="669.34,660 672.04,657 684.98,657 682.28,660" fill="#bfe0a6"/><polygon points="682.28,660 684.98,657 684.98,666.75 682.28,669.75" fill="#8fb875"/><rect x="669.34" y="660" width="12.94" height="9.75" fill="#a9d18e"/><path d="M669.34 660L672.04 657L684.98 657L684.98 666.75L682.28 669.75L669.34 669.75ZM669.34 660L682.28 660M682.28 660L684.98 657" fill="none" stroke="#4a7a2c" stroke-width="0.85" stroke-linejoin="round"/><line x1="682.28" y1="660" x2="682.28" y2="669.75" stroke="#4a7a2c" stroke-width="0.85"/><polygon points="682.28,660 684.98,657 697.92,657 695.22,660" fill="#bfe0a6"/><polygon points="695.22,660 697.92,657 697.92,666.75 695.22,669.75" fill="#8fb875"/><rect x="682.28" y="660" width="12.94" height="9.75" fill="#a9d18e"/><path d="M682.28 660L684.98 657L697.92 657L697.92 666.75L695.22 669.75L682.28 669.75ZM682.28 660L695.22 660M695.22 660L697.92 657" fill="none" stroke="#4a7a2c" stroke-width="0.85" stroke-linejoin="round"/><line x1="695.22" y1="660" x2="695.22" y2="669.75" stroke="#4a7a2c" stroke-width="0.85"/><polygon points="617.58,650.25 620.28,647.25 633.22,647.25 630.52,650.25" fill="#eef7e8"/><polygon points="630.52,650.25 633.22,647.25 633.22,657 630.52,660" fill="#cfe3c2"/><rect x="617.58" y="650.25" width="12.94" height="9.75" fill="#e2efda"/><path d="M617.58 650.25L620.28 647.25L633.22 647.25L633.22 657L630.52 660L617.58 660ZM617.58 650.25L630.52 650.25M630.52 650.25L633.22 647.25" fill="none" stroke="#5d8c3e" stroke-width="0.85" stroke-linejoin="round"/><line x1="630.52" y1="650.25" x2="630.52" y2="660" stroke="#5d8c3e" stroke-width="0.85"/><polygon points="630.52,650.25 633.22,647.25 646.16,647.25 643.46,650.25" fill="#eef7e8"/><polygon points="643.46,650.25 646.16,647.25 646.16,657 643.46,660" fill="#cfe3c2"/><rect x="630.52" y="650.25" width="12.94" height="9.75" fill="#e2efda"/><path d="M630.52 650.25L633.22 647.25L646.16 647.25L646.16 657L643.46 660L630.52 660ZM630.52 650.25L643.46 650.25M643.46 650.25L646.16 647.25" fill="none" stroke="#5d8c3e" stroke-width="0.85" stroke-linejoin="round"/><line x1="643.46" y1="650.25" x2="643.46" y2="660" stroke="#5d8c3e" stroke-width="0.85"/><polygon points="643.46,650.25 646.16,647.25 659.1,647.25 656.4,650.25" fill="#eef7e8"/><polygon points="656.4,650.25 659.1,647.25 659.1,657 656.4,660" fill="#cfe3c2"/><rect x="643.46" y="650.25" width="12.94" height="9.75" fill="#e2efda"/><path d="M643.46 650.25L646.16 647.25L659.1 647.25L659.1 657L656.4 660L643.46 660ZM643.46 650.25L656.4 650.25M656.4 650.25L659.1 647.25" fill="none" stroke="#5d8c3e" stroke-width="0.85" stroke-linejoin="round"/><line x1="656.4" y1="650.25" x2="656.4" y2="660" stroke="#5d8c3e" stroke-width="0.85"/><polygon points="656.4,650.25 659.1,647.25 672.04,647.25 669.34,650.25" fill="#eef7e8"/><polygon points="669.34,650.25 672.04,647.25 672.04,657 669.34,660" fill="#cfe3c2"/><rect x="656.4" y="650.25" width="12.94" height="9.75" fill="#e2efda"/><path d="M656.4 650.25L659.1 647.25L672.04 647.25L672.04 657L669.34 660L656.4 660ZM656.4 650.25L669.34 650.25M669.34 650.25L672.04 647.25" fill="none" stroke="#5d8c3e" stroke-width="0.85" stroke-linejoin="round"/><line x1="669.34" y1="650.25" x2="669.34" y2="660" stroke="#5d8c3e" stroke-width="0.85"/><polygon points="669.34,650.25 672.04,647.25 684.98,647.25 682.28,650.25" fill="#eef7e8"/><polygon points="682.28,650.25 684.98,647.25 684.98,657 682.28,660" fill="#cfe3c2"/><rect x="669.34" y="650.25" width="12.94" height="9.75" fill="#e2efda"/><path d="M669.34 650.25L672.04 647.25L684.98 647.25L684.98 657L682.28 660L669.34 660ZM669.34 650.25L682.28 650.25M682.28 650.25L684.98 647.25" fill="none" stroke="#5d8c3e" stroke-width="0.85" stroke-linejoin="round"/><line x1="682.28" y1="650.25" x2="682.28" y2="660" stroke="#5d8c3e" stroke-width="0.85"/><polygon points="682.28,650.25 684.98,647.25 697.92,647.25 695.22,650.25" fill="#eef7e8"/><polygon points="695.22,650.25 697.92,647.25 697.92,657 695.22,660" fill="#cfe3c2"/><rect x="682.28" y="650.25" width="12.94" height="9.75" fill="#e2efda"/><path d="M682.28 650.25L684.98 647.25L697.92 647.25L697.92 657L695.22 660L682.28 660ZM682.28 650.25L695.22 650.25M695.22 650.25L697.92 647.25" fill="none" stroke="#5d8c3e" stroke-width="0.85" stroke-linejoin="round"/><line x1="695.22" y1="650.25" x2="695.22" y2="660" stroke="#5d8c3e" stroke-width="0.85"/><polygon points="617.58,640.5 620.28,637.5 633.22,637.5 630.52,640.5" fill="#eef7e8"/><polygon points="630.52,640.5 633.22,637.5 633.22,647.25 630.52,650.25" fill="#cfe3c2"/><rect x="617.58" y="640.5" width="12.94" height="9.75" fill="#e2efda"/><path d="M617.58 640.5L620.28 637.5L633.22 637.5L633.22 647.25L630.52 650.25L617.58 650.25ZM617.58 640.5L630.52 640.5M630.52 640.5L633.22 637.5" fill="none" stroke="#5d8c3e" stroke-width="0.85" stroke-linejoin="round"/><line x1="630.52" y1="640.5" x2="630.52" y2="650.25" stroke="#5d8c3e" stroke-width="0.85"/><polygon points="630.52,640.5 633.22,637.5 646.16,637.5 643.46,640.5" fill="#eef7e8"/><polygon points="643.46,640.5 646.16,637.5 646.16,647.25 643.46,650.25" fill="#cfe3c2"/><rect x="630.52" y="640.5" width="12.94" height="9.75" fill="#e2efda"/><path d="M630.52 640.5L633.22 637.5L646.16 637.5L646.16 647.25L643.46 650.25L630.52 650.25ZM630.52 640.5L643.46 640.5M643.46 640.5L646.16 637.5" fill="none" stroke="#5d8c3e" stroke-width="0.85" stroke-linejoin="round"/><line x1="643.46" y1="640.5" x2="643.46" y2="650.25" stroke="#5d8c3e" stroke-width="0.85"/><polygon points="643.46,640.5 646.16,637.5 659.1,637.5 656.4,640.5" fill="#eef7e8"/><polygon points="656.4,640.5 659.1,637.5 659.1,647.25 656.4,650.25" fill="#cfe3c2"/><rect x="643.46" y="640.5" width="12.94" height="9.75" fill="#e2efda"/><path d="M643.46 640.5L646.16 637.5L659.1 637.5L659.1 647.25L656.4 650.25L643.46 650.25ZM643.46 640.5L656.4 640.5M656.4 640.5L659.1 637.5" fill="none" stroke="#5d8c3e" stroke-width="0.85" stroke-linejoin="round"/><line x1="656.4" y1="640.5" x2="656.4" y2="650.25" stroke="#5d8c3e" stroke-width="0.85"/><polygon points="656.4,640.5 659.1,637.5 672.04,637.5 669.34,640.5" fill="#eef7e8"/><polygon points="669.34,640.5 672.04,637.5 672.04,647.25 669.34,650.25" fill="#cfe3c2"/><rect x="656.4" y="640.5" width="12.94" height="9.75" fill="#e2efda"/><path d="M656.4 640.5L659.1 637.5L672.04 637.5L672.04 647.25L669.34 650.25L656.4 650.25ZM656.4 640.5L669.34 640.5M669.34 640.5L672.04 637.5" fill="none" stroke="#5d8c3e" stroke-width="0.85" stroke-linejoin="round"/><line x1="669.34" y1="640.5" x2="669.34" y2="650.25" stroke="#5d8c3e" stroke-width="0.85"/><polygon points="669.34,640.5 672.04,637.5 684.98,637.5 682.28,640.5" fill="#eef7e8"/><polygon points="682.28,640.5 684.98,637.5 684.98,647.25 682.28,650.25" fill="#cfe3c2"/><rect x="669.34" y="640.5" width="12.94" height="9.75" fill="#e2efda"/><path d="M669.34 640.5L672.04 637.5L684.98 637.5L684.98 647.25L682.28 650.25L669.34 650.25ZM669.34 640.5L682.28 640.5M682.28 640.5L684.98 637.5" fill="none" stroke="#5d8c3e" stroke-width="0.85" stroke-linejoin="round"/><line x1="682.28" y1="640.5" x2="682.28" y2="650.25" stroke="#5d8c3e" stroke-width="0.85"/><polygon points="682.28,640.5 684.98,637.5 697.92,637.5 695.22,640.5" fill="#eef7e8"/><polygon points="695.22,640.5 697.92,637.5 697.92,647.25 695.22,650.25" fill="#cfe3c2"/><rect x="682.28" y="640.5" width="12.94" height="9.75" fill="#e2efda"/><path d="M682.28 640.5L684.98 637.5L697.92 637.5L697.92 647.25L695.22 650.25L682.28 650.25ZM682.28 640.5L695.22 640.5M695.22 640.5L697.92 637.5" fill="none" stroke="#5d8c3e" stroke-width="0.85" stroke-linejoin="round"/><line x1="695.22" y1="640.5" x2="695.22" y2="650.25" stroke="#5d8c3e" stroke-width="0.85"/><polygon points="589,672.75 591.7,669.75 604.64,669.75 601.94,672.75" fill="#bfe0a6"/><polygon points="601.94,672.75 604.64,669.75 604.64,679.5 601.94,682.5" fill="#8fb875"/><rect x="589" y="672.75" width="12.94" height="9.75" fill="#a9d18e"/><path d="M589 672.75L591.7 669.75L604.64 669.75L604.64 679.5L601.94 682.5L589 682.5ZM589 672.75L601.94 672.75M601.94 672.75L604.64 669.75" fill="none" stroke="#4a7a2c" stroke-width="0.85" stroke-linejoin="round"/><line x1="601.94" y1="672.75" x2="601.94" y2="682.5" stroke="#4a7a2c" stroke-width="0.85"/><polygon points="601.94,672.75 604.64,669.75 617.58,669.75 614.88,672.75" fill="#bfe0a6"/><polygon points="614.88,672.75 617.58,669.75 617.58,679.5 614.88,682.5" fill="#8fb875"/><rect x="601.94" y="672.75" width="12.94" height="9.75" fill="#a9d18e"/><path d="M601.94 672.75L604.64 669.75L617.58 669.75L617.58 679.5L614.88 682.5L601.94 682.5ZM601.94 672.75L614.88 672.75M614.88 672.75L617.58 669.75" fill="none" stroke="#4a7a2c" stroke-width="0.85" stroke-linejoin="round"/><line x1="614.88" y1="672.75" x2="614.88" y2="682.5" stroke="#4a7a2c" stroke-width="0.85"/><polygon points="614.88,672.75 617.58,669.75 630.52,669.75 627.82,672.75" fill="#bfe0a6"/><polygon points="627.82,672.75 630.52,669.75 630.52,679.5 627.82,682.5" fill="#8fb875"/><rect x="614.88" y="672.75" width="12.94" height="9.75" fill="#a9d18e"/><path d="M614.88 672.75L617.58 669.75L630.52 669.75L630.52 679.5L627.82 682.5L614.88 682.5ZM614.88 672.75L627.82 672.75M627.82 672.75L630.52 669.75" fill="none" stroke="#4a7a2c" stroke-width="0.85" stroke-linejoin="round"/><line x1="627.82" y1="672.75" x2="627.82" y2="682.5" stroke="#4a7a2c" stroke-width="0.85"/><polygon points="627.82,672.75 630.52,669.75 643.46,669.75 640.76,672.75" fill="#bfe0a6"/><polygon points="640.76,672.75 643.46,669.75 643.46,679.5 640.76,682.5" fill="#8fb875"/><rect x="627.82" y="672.75" width="12.94" height="9.75" fill="#a9d18e"/><path d="M627.82 672.75L630.52 669.75L643.46 669.75L643.46 679.5L640.76 682.5L627.82 682.5ZM627.82 672.75L640.76 672.75M640.76 672.75L643.46 669.75" fill="none" stroke="#4a7a2c" stroke-width="0.85" stroke-linejoin="round"/><line x1="640.76" y1="672.75" x2="640.76" y2="682.5" stroke="#4a7a2c" stroke-width="0.85"/><polygon points="640.76,672.75 643.46,669.75 656.4,669.75 653.7,672.75" fill="#bfe0a6"/><polygon points="653.7,672.75 656.4,669.75 656.4,679.5 653.7,682.5" fill="#8fb875"/><rect x="640.76" y="672.75" width="12.94" height="9.75" fill="#a9d18e"/><path d="M640.76 672.75L643.46 669.75L656.4 669.75L656.4 679.5L653.7 682.5L640.76 682.5ZM640.76 672.75L653.7 672.75M653.7 672.75L656.4 669.75" fill="none" stroke="#4a7a2c" stroke-width="0.85" stroke-linejoin="round"/><line x1="653.7" y1="672.75" x2="653.7" y2="682.5" stroke="#4a7a2c" stroke-width="0.85"/><polygon points="653.7,672.75 656.4,669.75 669.34,669.75 666.64,672.75" fill="#bfe0a6"/><polygon points="666.64,672.75 669.34,669.75 669.34,679.5 666.64,682.5" fill="#8fb875"/><rect x="653.7" y="672.75" width="12.94" height="9.75" fill="#a9d18e"/><path d="M653.7 672.75L656.4 669.75L669.34 669.75L669.34 679.5L666.64 682.5L653.7 682.5ZM653.7 672.75L666.64 672.75M666.64 672.75L669.34 669.75" fill="none" stroke="#4a7a2c" stroke-width="0.85" stroke-linejoin="round"/><line x1="666.64" y1="672.75" x2="666.64" y2="682.5" stroke="#4a7a2c" stroke-width="0.85"/><polygon points="666.64,672.75 669.34,669.75 682.28,669.75 679.58,672.75" fill="#bfe0a6"/><polygon points="679.58,672.75 682.28,669.75 682.28,679.5 679.58,682.5" fill="#8fb875"/><rect x="666.64" y="672.75" width="12.94" height="9.75" fill="#a9d18e"/><path d="M666.64 672.75L669.34 669.75L682.28 669.75L682.28 679.5L679.58 682.5L666.64 682.5ZM666.64 672.75L679.58 672.75M679.58 672.75L682.28 669.75" fill="none" stroke="#4a7a2c" stroke-width="0.85" stroke-linejoin="round"/><line x1="679.58" y1="672.75" x2="679.58" y2="682.5" stroke="#4a7a2c" stroke-width="0.85"/><polygon points="679.58,672.75 682.28,669.75 695.22,669.75 692.52,672.75" fill="#bfe0a6"/><polygon points="692.52,672.75 695.22,669.75 695.22,679.5 692.52,682.5" fill="#8fb875"/><rect x="679.58" y="672.75" width="12.94" height="9.75" fill="#a9d18e"/><path d="M679.58 672.75L682.28 669.75L695.22 669.75L695.22 679.5L692.52 682.5L679.58 682.5ZM679.58 672.75L692.52 672.75M692.52 672.75L695.22 669.75" fill="none" stroke="#4a7a2c" stroke-width="0.85" stroke-linejoin="round"/><line x1="692.52" y1="672.75" x2="692.52" y2="682.5" stroke="#4a7a2c" stroke-width="0.85"/><polygon points="589,663 591.7,660 604.64,660 601.94,663" fill="#bfe0a6"/><polygon points="601.94,663 604.64,660 604.64,669.75 601.94,672.75" fill="#8fb875"/><rect x="589" y="663" width="12.94" height="9.75" fill="#a9d18e"/><path d="M589 663L591.7 660L604.64 660L604.64 669.75L601.94 672.75L589 672.75ZM589 663L601.94 663M601.94 663L604.64 660" fill="none" stroke="#4a7a2c" stroke-width="0.85" stroke-linejoin="round"/><line x1="601.94" y1="663" x2="601.94" y2="672.75" stroke="#4a7a2c" stroke-width="0.85"/><polygon points="601.94,663 604.64,660 617.58,660 614.88,663" fill="#bfe0a6"/><polygon points="614.88,663 617.58,660 617.58,669.75 614.88,672.75" fill="#8fb875"/><rect x="601.94" y="663" width="12.94" height="9.75" fill="#a9d18e"/><path d="M601.94 663L604.64 660L617.58 660L617.58 669.75L614.88 672.75L601.94 672.75ZM601.94 663L614.88 663M614.88 663L617.58 660" fill="none" stroke="#4a7a2c" stroke-width="0.85" stroke-linejoin="round"/><line x1="614.88" y1="663" x2="614.88" y2="672.75" stroke="#4a7a2c" stroke-width="0.85"/><polygon points="614.88,663 617.58,660 630.52,660 627.82,663" fill="#bfe0a6"/><polygon points="627.82,663 630.52,660 630.52,669.75 627.82,672.75" fill="#8fb875"/><rect x="614.88" y="663" width="12.94" height="9.75" fill="#a9d18e"/><path d="M614.88 663L617.58 660L630.52 660L630.52 669.75L627.82 672.75L614.88 672.75ZM614.88 663L627.82 663M627.82 663L630.52 660" fill="none" stroke="#4a7a2c" stroke-width="0.85" stroke-linejoin="round"/><line x1="627.82" y1="663" x2="627.82" y2="672.75" stroke="#4a7a2c" stroke-width="0.85"/><polygon points="627.82,663 630.52,660 643.46,660 640.76,663" fill="#bfe0a6"/><polygon points="640.76,663 643.46,660 643.46,669.75 640.76,672.75" fill="#8fb875"/><rect x="627.82" y="663" width="12.94" height="9.75" fill="#a9d18e"/><path d="M627.82 663L630.52 660L643.46 660L643.46 669.75L640.76 672.75L627.82 672.75ZM627.82 663L640.76 663M640.76 663L643.46 660" fill="none" stroke="#4a7a2c" stroke-width="0.85" stroke-linejoin="round"/><line x1="640.76" y1="663" x2="640.76" y2="672.75" stroke="#4a7a2c" stroke-width="0.85"/><polygon points="640.76,663 643.46,660 656.4,660 653.7,663" fill="#bfe0a6"/><polygon points="653.7,663 656.4,660 656.4,669.75 653.7,672.75" fill="#8fb875"/><rect x="640.76" y="663" width="12.94" height="9.75" fill="#a9d18e"/><path d="M640.76 663L643.46 660L656.4 660L656.4 669.75L653.7 672.75L640.76 672.75ZM640.76 663L653.7 663M653.7 663L656.4 660" fill="none" stroke="#4a7a2c" stroke-width="0.85" stroke-linejoin="round"/><line x1="653.7" y1="663" x2="653.7" y2="672.75" stroke="#4a7a2c" stroke-width="0.85"/><polygon points="653.7,663 656.4,660 669.34,660 666.64,663" fill="#bfe0a6"/><polygon points="666.64,663 669.34,660 669.34,669.75 666.64,672.75" fill="#8fb875"/><rect x="653.7" y="663" width="12.94" height="9.75" fill="#a9d18e"/><path d="M653.7 663L656.4 660L669.34 660L669.34 669.75L666.64 672.75L653.7 672.75ZM653.7 663L666.64 663M666.64 663L669.34 660" fill="none" stroke="#4a7a2c" stroke-width="0.85" stroke-linejoin="round"/><line x1="666.64" y1="663" x2="666.64" y2="672.75" stroke="#4a7a2c" stroke-width="0.85"/><polygon points="666.64,663 669.34,660 682.28,660 679.58,663" fill="#bfe0a6"/><polygon points="679.58,663 682.28,660 682.28,669.75 679.58,672.75" fill="#8fb875"/><rect x="666.64" y="663" width="12.94" height="9.75" fill="#a9d18e"/><path d="M666.64 663L669.34 660L682.28 660L682.28 669.75L679.58 672.75L666.64 672.75ZM666.64 663L679.58 663M679.58 663L682.28 660" fill="none" stroke="#4a7a2c" stroke-width="0.85" stroke-linejoin="round"/><line x1="679.58" y1="663" x2="679.58" y2="672.75" stroke="#4a7a2c" stroke-width="0.85"/><polygon points="679.58,663 682.28,660 695.22,660 692.52,663" fill="#bfe0a6"/><polygon points="692.52,663 695.22,660 695.22,669.75 692.52,672.75" fill="#8fb875"/><rect x="679.58" y="663" width="12.94" height="9.75" fill="#a9d18e"/><path d="M679.58 663L682.28 660L695.22 660L695.22 669.75L692.52 672.75L679.58 672.75ZM679.58 663L692.52 663M692.52 663L695.22 660" fill="none" stroke="#4a7a2c" stroke-width="0.85" stroke-linejoin="round"/><line x1="692.52" y1="663" x2="692.52" y2="672.75" stroke="#4a7a2c" stroke-width="0.85"/><polygon points="614.88,653.25 617.58,650.25 630.52,650.25 627.82,653.25" fill="#eef7e8"/><polygon points="627.82,653.25 630.52,650.25 630.52,660 627.82,663" fill="#cfe3c2"/><rect x="614.88" y="653.25" width="12.94" height="9.75" fill="#e2efda"/><path d="M614.88 653.25L617.58 650.25L630.52 650.25L630.52 660L627.82 663L614.88 663ZM614.88 653.25L627.82 653.25M627.82 653.25L630.52 650.25" fill="none" stroke="#5d8c3e" stroke-width="0.85" stroke-linejoin="round"/><line x1="627.82" y1="653.25" x2="627.82" y2="663" stroke="#5d8c3e" stroke-width="0.85"/><polygon points="627.82,653.25 630.52,650.25 643.46,650.25 640.76,653.25" fill="#eef7e8"/><polygon points="640.76,653.25 643.46,650.25 643.46,660 640.76,663" fill="#cfe3c2"/><rect x="627.82" y="653.25" width="12.94" height="9.75" fill="#e2efda"/><path d="M627.82 653.25L630.52 650.25L643.46 650.25L643.46 660L640.76 663L627.82 663ZM627.82 653.25L640.76 653.25M640.76 653.25L643.46 650.25" fill="none" stroke="#5d8c3e" stroke-width="0.85" stroke-linejoin="round"/><line x1="640.76" y1="653.25" x2="640.76" y2="663" stroke="#5d8c3e" stroke-width="0.85"/><polygon points="640.76,653.25 643.46,650.25 656.4,650.25 653.7,653.25" fill="#eef7e8"/><polygon points="653.7,653.25 656.4,650.25 656.4,660 653.7,663" fill="#cfe3c2"/><rect x="640.76" y="653.25" width="12.94" height="9.75" fill="#e2efda"/><path d="M640.76 653.25L643.46 650.25L656.4 650.25L656.4 660L653.7 663L640.76 663ZM640.76 653.25L653.7 653.25M653.7 653.25L656.4 650.25" fill="none" stroke="#5d8c3e" stroke-width="0.85" stroke-linejoin="round"/><line x1="653.7" y1="653.25" x2="653.7" y2="663" stroke="#5d8c3e" stroke-width="0.85"/><polygon points="653.7,653.25 656.4,650.25 669.34,650.25 666.64,653.25" fill="#eef7e8"/><polygon points="666.64,653.25 669.34,650.25 669.34,660 666.64,663" fill="#cfe3c2"/><rect x="653.7" y="653.25" width="12.94" height="9.75" fill="#e2efda"/><path d="M653.7 653.25L656.4 650.25L669.34 650.25L669.34 660L666.64 663L653.7 663ZM653.7 653.25L666.64 653.25M666.64 653.25L669.34 650.25" fill="none" stroke="#5d8c3e" stroke-width="0.85" stroke-linejoin="round"/><line x1="666.64" y1="653.25" x2="666.64" y2="663" stroke="#5d8c3e" stroke-width="0.85"/><polygon points="666.64,653.25 669.34,650.25 682.28,650.25 679.58,653.25" fill="#eef7e8"/><polygon points="679.58,653.25 682.28,650.25 682.28,660 679.58,663" fill="#cfe3c2"/><rect x="666.64" y="653.25" width="12.94" height="9.75" fill="#e2efda"/><path d="M666.64 653.25L669.34 650.25L682.28 650.25L682.28 660L679.58 663L666.64 663ZM666.64 653.25L679.58 653.25M679.58 653.25L682.28 650.25" fill="none" stroke="#5d8c3e" stroke-width="0.85" stroke-linejoin="round"/><line x1="679.58" y1="653.25" x2="679.58" y2="663" stroke="#5d8c3e" stroke-width="0.85"/><polygon points="679.58,653.25 682.28,650.25 695.22,650.25 692.52,653.25" fill="#eef7e8"/><polygon points="692.52,653.25 695.22,650.25 695.22,660 692.52,663" fill="#cfe3c2"/><rect x="679.58" y="653.25" width="12.94" height="9.75" fill="#e2efda"/><path d="M679.58 653.25L682.28 650.25L695.22 650.25L695.22 660L692.52 663L679.58 663ZM679.58 653.25L692.52 653.25M692.52 653.25L695.22 650.25" fill="none" stroke="#5d8c3e" stroke-width="0.85" stroke-linejoin="round"/><line x1="692.52" y1="653.25" x2="692.52" y2="663" stroke="#5d8c3e" stroke-width="0.85"/><polygon points="614.88,643.5 617.58,640.5 630.52,640.5 627.82,643.5" fill="#eef7e8"/><polygon points="627.82,643.5 630.52,640.5 630.52,650.25 627.82,653.25" fill="#cfe3c2"/><rect x="614.88" y="643.5" width="12.94" height="9.75" fill="#e2efda"/><path d="M614.88 643.5L617.58 640.5L630.52 640.5L630.52 650.25L627.82 653.25L614.88 653.25ZM614.88 643.5L627.82 643.5M627.82 643.5L630.52 640.5" fill="none" stroke="#5d8c3e" stroke-width="0.85" stroke-linejoin="round"/><line x1="627.82" y1="643.5" x2="627.82" y2="653.25" stroke="#5d8c3e" stroke-width="0.85"/><polygon points="627.82,643.5 630.52,640.5 643.46,640.5 640.76,643.5" fill="#eef7e8"/><polygon points="640.76,643.5 643.46,640.5 643.46,650.25 640.76,653.25" fill="#cfe3c2"/><rect x="627.82" y="643.5" width="12.94" height="9.75" fill="#e2efda"/><path d="M627.82 643.5L630.52 640.5L643.46 640.5L643.46 650.25L640.76 653.25L627.82 653.25ZM627.82 643.5L640.76 643.5M640.76 643.5L643.46 640.5" fill="none" stroke="#5d8c3e" stroke-width="0.85" stroke-linejoin="round"/><line x1="640.76" y1="643.5" x2="640.76" y2="653.25" stroke="#5d8c3e" stroke-width="0.85"/><polygon points="640.76,643.5 643.46,640.5 656.4,640.5 653.7,643.5" fill="#eef7e8"/><polygon points="653.7,643.5 656.4,640.5 656.4,650.25 653.7,653.25" fill="#cfe3c2"/><rect x="640.76" y="643.5" width="12.94" height="9.75" fill="#e2efda"/><path d="M640.76 643.5L643.46 640.5L656.4 640.5L656.4 650.25L653.7 653.25L640.76 653.25ZM640.76 643.5L653.7 643.5M653.7 643.5L656.4 640.5" fill="none" stroke="#5d8c3e" stroke-width="0.85" stroke-linejoin="round"/><line x1="653.7" y1="643.5" x2="653.7" y2="653.25" stroke="#5d8c3e" stroke-width="0.85"/><polygon points="653.7,643.5 656.4,640.5 669.34,640.5 666.64,643.5" fill="#eef7e8"/><polygon points="666.64,643.5 669.34,640.5 669.34,650.25 666.64,653.25" fill="#cfe3c2"/><rect x="653.7" y="643.5" width="12.94" height="9.75" fill="#e2efda"/><path d="M653.7 643.5L656.4 640.5L669.34 640.5L669.34 650.25L666.64 653.25L653.7 653.25ZM653.7 643.5L666.64 643.5M666.64 643.5L669.34 640.5" fill="none" stroke="#5d8c3e" stroke-width="0.85" stroke-linejoin="round"/><line x1="666.64" y1="643.5" x2="666.64" y2="653.25" stroke="#5d8c3e" stroke-width="0.85"/><polygon points="666.64,643.5 669.34,640.5 682.28,640.5 679.58,643.5" fill="#eef7e8"/><polygon points="679.58,643.5 682.28,640.5 682.28,650.25 679.58,653.25" fill="#cfe3c2"/><rect x="666.64" y="643.5" width="12.94" height="9.75" fill="#e2efda"/><path d="M666.64 643.5L669.34 640.5L682.28 640.5L682.28 650.25L679.58 653.25L666.64 653.25ZM666.64 643.5L679.58 643.5M679.58 643.5L682.28 640.5" fill="none" stroke="#5d8c3e" stroke-width="0.85" stroke-linejoin="round"/><line x1="679.58" y1="643.5" x2="679.58" y2="653.25" stroke="#5d8c3e" stroke-width="0.85"/><polygon points="679.58,643.5 682.28,640.5 695.22,640.5 692.52,643.5" fill="#eef7e8"/><polygon points="692.52,643.5 695.22,640.5 695.22,650.25 692.52,653.25" fill="#cfe3c2"/><rect x="679.58" y="643.5" width="12.94" height="9.75" fill="#e2efda"/><path d="M679.58 643.5L682.28 640.5L695.22 640.5L695.22 650.25L692.52 653.25L679.58 653.25ZM679.58 643.5L692.52 643.5M692.52 643.5L695.22 640.5" fill="none" stroke="#5d8c3e" stroke-width="0.85" stroke-linejoin="round"/><line x1="692.52" y1="643.5" x2="692.52" y2="653.25" stroke="#5d8c3e" stroke-width="0.85"/><polygon points="586.3,675.75 589,672.75 601.94,672.75 599.24,675.75" fill="#bfe0a6"/><polygon points="599.24,675.75 601.94,672.75 601.94,682.5 599.24,685.5" fill="#8fb875"/><rect x="586.3" y="675.75" width="12.94" height="9.75" fill="#a9d18e"/><path d="M586.3 675.75L589 672.75L601.94 672.75L601.94 682.5L599.24 685.5L586.3 685.5ZM586.3 675.75L599.24 675.75M599.24 675.75L601.94 672.75" fill="none" stroke="#4a7a2c" stroke-width="0.85" stroke-linejoin="round"/><line x1="599.24" y1="675.75" x2="599.24" y2="685.5" stroke="#4a7a2c" stroke-width="0.85"/><polygon points="599.24,675.75 601.94,672.75 614.88,672.75 612.18,675.75" fill="#bfe0a6"/><polygon points="612.18,675.75 614.88,672.75 614.88,682.5 612.18,685.5" fill="#8fb875"/><rect x="599.24" y="675.75" width="12.94" height="9.75" fill="#a9d18e"/><path d="M599.24 675.75L601.94 672.75L614.88 672.75L614.88 682.5L612.18 685.5L599.24 685.5ZM599.24 675.75L612.18 675.75M612.18 675.75L614.88 672.75" fill="none" stroke="#4a7a2c" stroke-width="0.85" stroke-linejoin="round"/><line x1="612.18" y1="675.75" x2="612.18" y2="685.5" stroke="#4a7a2c" stroke-width="0.85"/><polygon points="612.18,675.75 614.88,672.75 627.82,672.75 625.12,675.75" fill="#bfe0a6"/><polygon points="625.12,675.75 627.82,672.75 627.82,682.5 625.12,685.5" fill="#8fb875"/><rect x="612.18" y="675.75" width="12.94" height="9.75" fill="#a9d18e"/><path d="M612.18 675.75L614.88 672.75L627.82 672.75L627.82 682.5L625.12 685.5L612.18 685.5ZM612.18 675.75L625.12 675.75M625.12 675.75L627.82 672.75" fill="none" stroke="#4a7a2c" stroke-width="0.85" stroke-linejoin="round"/><line x1="625.12" y1="675.75" x2="625.12" y2="685.5" stroke="#4a7a2c" stroke-width="0.85"/><polygon points="625.12,675.75 627.82,672.75 640.76,672.75 638.06,675.75" fill="#bfe0a6"/><polygon points="638.06,675.75 640.76,672.75 640.76,682.5 638.06,685.5" fill="#8fb875"/><rect x="625.12" y="675.75" width="12.94" height="9.75" fill="#a9d18e"/><path d="M625.12 675.75L627.82 672.75L640.76 672.75L640.76 682.5L638.06 685.5L625.12 685.5ZM625.12 675.75L638.06 675.75M638.06 675.75L640.76 672.75" fill="none" stroke="#4a7a2c" stroke-width="0.85" stroke-linejoin="round"/><line x1="638.06" y1="675.75" x2="638.06" y2="685.5" stroke="#4a7a2c" stroke-width="0.85"/><polygon points="638.06,675.75 640.76,672.75 653.7,672.75 651,675.75" fill="#bfe0a6"/><polygon points="651,675.75 653.7,672.75 653.7,682.5 651,685.5" fill="#8fb875"/><rect x="638.06" y="675.75" width="12.94" height="9.75" fill="#a9d18e"/><path d="M638.06 675.75L640.76 672.75L653.7 672.75L653.7 682.5L651 685.5L638.06 685.5ZM638.06 675.75L651 675.75M651 675.75L653.7 672.75" fill="none" stroke="#4a7a2c" stroke-width="0.85" stroke-linejoin="round"/><line x1="651" y1="675.75" x2="651" y2="685.5" stroke="#4a7a2c" stroke-width="0.85"/><polygon points="651,675.75 653.7,672.75 666.64,672.75 663.94,675.75" fill="#bfe0a6"/><polygon points="663.94,675.75 666.64,672.75 666.64,682.5 663.94,685.5" fill="#8fb875"/><rect x="651" y="675.75" width="12.94" height="9.75" fill="#a9d18e"/><path d="M651 675.75L653.7 672.75L666.64 672.75L666.64 682.5L663.94 685.5L651 685.5ZM651 675.75L663.94 675.75M663.94 675.75L666.64 672.75" fill="none" stroke="#4a7a2c" stroke-width="0.85" stroke-linejoin="round"/><line x1="663.94" y1="675.75" x2="663.94" y2="685.5" stroke="#4a7a2c" stroke-width="0.85"/><polygon points="663.94,675.75 666.64,672.75 679.58,672.75 676.88,675.75" fill="#bfe0a6"/><polygon points="676.88,675.75 679.58,672.75 679.58,682.5 676.88,685.5" fill="#8fb875"/><rect x="663.94" y="675.75" width="12.94" height="9.75" fill="#a9d18e"/><path d="M663.94 675.75L666.64 672.75L679.58 672.75L679.58 682.5L676.88 685.5L663.94 685.5ZM663.94 675.75L676.88 675.75M676.88 675.75L679.58 672.75" fill="none" stroke="#4a7a2c" stroke-width="0.85" stroke-linejoin="round"/><line x1="676.88" y1="675.75" x2="676.88" y2="685.5" stroke="#4a7a2c" stroke-width="0.85"/><polygon points="676.88,675.75 679.58,672.75 692.52,672.75 689.82,675.75" fill="#bfe0a6"/><polygon points="689.82,675.75 692.52,672.75 692.52,682.5 689.82,685.5" fill="#8fb875"/><rect x="676.88" y="675.75" width="12.94" height="9.75" fill="#a9d18e"/><path d="M676.88 675.75L679.58 672.75L692.52 672.75L692.52 682.5L689.82 685.5L676.88 685.5ZM676.88 675.75L689.82 675.75M689.82 675.75L692.52 672.75" fill="none" stroke="#4a7a2c" stroke-width="0.85" stroke-linejoin="round"/><line x1="689.82" y1="675.75" x2="689.82" y2="685.5" stroke="#4a7a2c" stroke-width="0.85"/><polygon points="586.3,666 589,663 601.94,663 599.24,666" fill="#bfe0a6"/><polygon points="599.24,666 601.94,663 601.94,672.75 599.24,675.75" fill="#8fb875"/><rect x="586.3" y="666" width="12.94" height="9.75" fill="#a9d18e"/><path d="M586.3 666L589 663L601.94 663L601.94 672.75L599.24 675.75L586.3 675.75ZM586.3 666L599.24 666M599.24 666L601.94 663" fill="none" stroke="#4a7a2c" stroke-width="0.85" stroke-linejoin="round"/><line x1="599.24" y1="666" x2="599.24" y2="675.75" stroke="#4a7a2c" stroke-width="0.85"/><polygon points="599.24,666 601.94,663 614.88,663 612.18,666" fill="#bfe0a6"/><polygon points="612.18,666 614.88,663 614.88,672.75 612.18,675.75" fill="#8fb875"/><rect x="599.24" y="666" width="12.94" height="9.75" fill="#a9d18e"/><path d="M599.24 666L601.94 663L614.88 663L614.88 672.75L612.18 675.75L599.24 675.75ZM599.24 666L612.18 666M612.18 666L614.88 663" fill="none" stroke="#4a7a2c" stroke-width="0.85" stroke-linejoin="round"/><line x1="612.18" y1="666" x2="612.18" y2="675.75" stroke="#4a7a2c" stroke-width="0.85"/><polygon points="612.18,666 614.88,663 627.82,663 625.12,666" fill="#bfe0a6"/><polygon points="625.12,666 627.82,663 627.82,672.75 625.12,675.75" fill="#8fb875"/><rect x="612.18" y="666" width="12.94" height="9.75" fill="#a9d18e"/><path d="M612.18 666L614.88 663L627.82 663L627.82 672.75L625.12 675.75L612.18 675.75ZM612.18 666L625.12 666M625.12 666L627.82 663" fill="none" stroke="#4a7a2c" stroke-width="0.85" stroke-linejoin="round"/><line x1="625.12" y1="666" x2="625.12" y2="675.75" stroke="#4a7a2c" stroke-width="0.85"/><polygon points="625.12,666 627.82,663 640.76,663 638.06,666" fill="#bfe0a6"/><polygon points="638.06,666 640.76,663 640.76,672.75 638.06,675.75" fill="#8fb875"/><rect x="625.12" y="666" width="12.94" height="9.75" fill="#a9d18e"/><path d="M625.12 666L627.82 663L640.76 663L640.76 672.75L638.06 675.75L625.12 675.75ZM625.12 666L638.06 666M638.06 666L640.76 663" fill="none" stroke="#4a7a2c" stroke-width="0.85" stroke-linejoin="round"/><line x1="638.06" y1="666" x2="638.06" y2="675.75" stroke="#4a7a2c" stroke-width="0.85"/><polygon points="638.06,666 640.76,663 653.7,663 651,666" fill="#bfe0a6"/><polygon points="651,666 653.7,663 653.7,672.75 651,675.75" fill="#8fb875"/><rect x="638.06" y="666" width="12.94" height="9.75" fill="#a9d18e"/><path d="M638.06 666L640.76 663L653.7 663L653.7 672.75L651 675.75L638.06 675.75ZM638.06 666L651 666M651 666L653.7 663" fill="none" stroke="#4a7a2c" stroke-width="0.85" stroke-linejoin="round"/><line x1="651" y1="666" x2="651" y2="675.75" stroke="#4a7a2c" stroke-width="0.85"/><polygon points="651,666 653.7,663 666.64,663 663.94,666" fill="#bfe0a6"/><polygon points="663.94,666 666.64,663 666.64,672.75 663.94,675.75" fill="#8fb875"/><rect x="651" y="666" width="12.94" height="9.75" fill="#a9d18e"/><path d="M651 666L653.7 663L666.64 663L666.64 672.75L663.94 675.75L651 675.75ZM651 666L663.94 666M663.94 666L666.64 663" fill="none" stroke="#4a7a2c" stroke-width="0.85" stroke-linejoin="round"/><line x1="663.94" y1="666" x2="663.94" y2="675.75" stroke="#4a7a2c" stroke-width="0.85"/><polygon points="663.94,666 666.64,663 679.58,663 676.88,666" fill="#bfe0a6"/><polygon points="676.88,666 679.58,663 679.58,672.75 676.88,675.75" fill="#8fb875"/><rect x="663.94" y="666" width="12.94" height="9.75" fill="#a9d18e"/><path d="M663.94 666L666.64 663L679.58 663L679.58 672.75L676.88 675.75L663.94 675.75ZM663.94 666L676.88 666M676.88 666L679.58 663" fill="none" stroke="#4a7a2c" stroke-width="0.85" stroke-linejoin="round"/><line x1="676.88" y1="666" x2="676.88" y2="675.75" stroke="#4a7a2c" stroke-width="0.85"/><polygon points="676.88,666 679.58,663 692.52,663 689.82,666" fill="#bfe0a6"/><polygon points="689.82,666 692.52,663 692.52,672.75 689.82,675.75" fill="#8fb875"/><rect x="676.88" y="666" width="12.94" height="9.75" fill="#a9d18e"/><path d="M676.88 666L679.58 663L692.52 663L692.52 672.75L689.82 675.75L676.88 675.75ZM676.88 666L689.82 666M689.82 666L692.52 663" fill="none" stroke="#4a7a2c" stroke-width="0.85" stroke-linejoin="round"/><line x1="689.82" y1="666" x2="689.82" y2="675.75" stroke="#4a7a2c" stroke-width="0.85"/><polygon points="612.18,656.25 614.88,653.25 627.82,653.25 625.12,656.25" fill="#eef7e8"/><polygon points="625.12,656.25 627.82,653.25 627.82,663 625.12,666" fill="#cfe3c2"/><rect x="612.18" y="656.25" width="12.94" height="9.75" fill="#e2efda"/><path d="M612.18 656.25L614.88 653.25L627.82 653.25L627.82 663L625.12 666L612.18 666ZM612.18 656.25L625.12 656.25M625.12 656.25L627.82 653.25" fill="none" stroke="#5d8c3e" stroke-width="0.85" stroke-linejoin="round"/><line x1="625.12" y1="656.25" x2="625.12" y2="666" stroke="#5d8c3e" stroke-width="0.85"/><polygon points="625.12,656.25 627.82,653.25 640.76,653.25 638.06,656.25" fill="#eef7e8"/><polygon points="638.06,656.25 640.76,653.25 640.76,663 638.06,666" fill="#cfe3c2"/><rect x="625.12" y="656.25" width="12.94" height="9.75" fill="#e2efda"/><path d="M625.12 656.25L627.82 653.25L640.76 653.25L640.76 663L638.06 666L625.12 666ZM625.12 656.25L638.06 656.25M638.06 656.25L640.76 653.25" fill="none" stroke="#5d8c3e" stroke-width="0.85" stroke-linejoin="round"/><line x1="638.06" y1="656.25" x2="638.06" y2="666" stroke="#5d8c3e" stroke-width="0.85"/><polygon points="638.06,656.25 640.76,653.25 653.7,653.25 651,656.25" fill="#eef7e8"/><polygon points="651,656.25 653.7,653.25 653.7,663 651,666" fill="#cfe3c2"/><rect x="638.06" y="656.25" width="12.94" height="9.75" fill="#e2efda"/><path d="M638.06 656.25L640.76 653.25L653.7 653.25L653.7 663L651 666L638.06 666ZM638.06 656.25L651 656.25M651 656.25L653.7 653.25" fill="none" stroke="#5d8c3e" stroke-width="0.85" stroke-linejoin="round"/><line x1="651" y1="656.25" x2="651" y2="666" stroke="#5d8c3e" stroke-width="0.85"/><polygon points="651,656.25 653.7,653.25 666.64,653.25 663.94,656.25" fill="#eef7e8"/><polygon points="663.94,656.25 666.64,653.25 666.64,663 663.94,666" fill="#cfe3c2"/><rect x="651" y="656.25" width="12.94" height="9.75" fill="#e2efda"/><path d="M651 656.25L653.7 653.25L666.64 653.25L666.64 663L663.94 666L651 666ZM651 656.25L663.94 656.25M663.94 656.25L666.64 653.25" fill="none" stroke="#5d8c3e" stroke-width="0.85" stroke-linejoin="round"/><line x1="663.94" y1="656.25" x2="663.94" y2="666" stroke="#5d8c3e" stroke-width="0.85"/><polygon points="663.94,656.25 666.64,653.25 679.58,653.25 676.88,656.25" fill="#eef7e8"/><polygon points="676.88,656.25 679.58,653.25 679.58,663 676.88,666" fill="#cfe3c2"/><rect x="663.94" y="656.25" width="12.94" height="9.75" fill="#e2efda"/><path d="M663.94 656.25L666.64 653.25L679.58 653.25L679.58 663L676.88 666L663.94 666ZM663.94 656.25L676.88 656.25M676.88 656.25L679.58 653.25" fill="none" stroke="#5d8c3e" stroke-width="0.85" stroke-linejoin="round"/><line x1="676.88" y1="656.25" x2="676.88" y2="666" stroke="#5d8c3e" stroke-width="0.85"/><polygon points="676.88,656.25 679.58,653.25 692.52,653.25 689.82,656.25" fill="#eef7e8"/><polygon points="689.82,656.25 692.52,653.25 692.52,663 689.82,666" fill="#cfe3c2"/><rect x="676.88" y="656.25" width="12.94" height="9.75" fill="#e2efda"/><path d="M676.88 656.25L679.58 653.25L692.52 653.25L692.52 663L689.82 666L676.88 666ZM676.88 656.25L689.82 656.25M689.82 656.25L692.52 653.25" fill="none" stroke="#5d8c3e" stroke-width="0.85" stroke-linejoin="round"/><line x1="689.82" y1="656.25" x2="689.82" y2="666" stroke="#5d8c3e" stroke-width="0.85"/><polygon points="612.18,646.5 614.88,643.5 627.82,643.5 625.12,646.5" fill="#eef7e8"/><polygon points="625.12,646.5 627.82,643.5 627.82,653.25 625.12,656.25" fill="#cfe3c2"/><rect x="612.18" y="646.5" width="12.94" height="9.75" fill="#e2efda"/><path d="M612.18 646.5L614.88 643.5L627.82 643.5L627.82 653.25L625.12 656.25L612.18 656.25ZM612.18 646.5L625.12 646.5M625.12 646.5L627.82 643.5" fill="none" stroke="#5d8c3e" stroke-width="0.85" stroke-linejoin="round"/><line x1="625.12" y1="646.5" x2="625.12" y2="656.25" stroke="#5d8c3e" stroke-width="0.85"/><polygon points="625.12,646.5 627.82,643.5 640.76,643.5 638.06,646.5" fill="#eef7e8"/><polygon points="638.06,646.5 640.76,643.5 640.76,653.25 638.06,656.25" fill="#cfe3c2"/><rect x="625.12" y="646.5" width="12.94" height="9.75" fill="#e2efda"/><path d="M625.12 646.5L627.82 643.5L640.76 643.5L640.76 653.25L638.06 656.25L625.12 656.25ZM625.12 646.5L638.06 646.5M638.06 646.5L640.76 643.5" fill="none" stroke="#5d8c3e" stroke-width="0.85" stroke-linejoin="round"/><line x1="638.06" y1="646.5" x2="638.06" y2="656.25" stroke="#5d8c3e" stroke-width="0.85"/><polygon points="638.06,646.5 640.76,643.5 653.7,643.5 651,646.5" fill="#eef7e8"/><polygon points="651,646.5 653.7,643.5 653.7,653.25 651,656.25" fill="#cfe3c2"/><rect x="638.06" y="646.5" width="12.94" height="9.75" fill="#e2efda"/><path d="M638.06 646.5L640.76 643.5L653.7 643.5L653.7 653.25L651 656.25L638.06 656.25ZM638.06 646.5L651 646.5M651 646.5L653.7 643.5" fill="none" stroke="#5d8c3e" stroke-width="0.85" stroke-linejoin="round"/><line x1="651" y1="646.5" x2="651" y2="656.25" stroke="#5d8c3e" stroke-width="0.85"/><polygon points="651,646.5 653.7,643.5 666.64,643.5 663.94,646.5" fill="#eef7e8"/><polygon points="663.94,646.5 666.64,643.5 666.64,653.25 663.94,656.25" fill="#cfe3c2"/><rect x="651" y="646.5" width="12.94" height="9.75" fill="#e2efda"/><path d="M651 646.5L653.7 643.5L666.64 643.5L666.64 653.25L663.94 656.25L651 656.25ZM651 646.5L663.94 646.5M663.94 646.5L666.64 643.5" fill="none" stroke="#5d8c3e" stroke-width="0.85" stroke-linejoin="round"/><line x1="663.94" y1="646.5" x2="663.94" y2="656.25" stroke="#5d8c3e" stroke-width="0.85"/><polygon points="663.94,646.5 666.64,643.5 679.58,643.5 676.88,646.5" fill="#eef7e8"/><polygon points="676.88,646.5 679.58,643.5 679.58,653.25 676.88,656.25" fill="#cfe3c2"/><rect x="663.94" y="646.5" width="12.94" height="9.75" fill="#e2efda"/><path d="M663.94 646.5L666.64 643.5L679.58 643.5L679.58 653.25L676.88 656.25L663.94 656.25ZM663.94 646.5L676.88 646.5M676.88 646.5L679.58 643.5" fill="none" stroke="#5d8c3e" stroke-width="0.85" stroke-linejoin="round"/><line x1="676.88" y1="646.5" x2="676.88" y2="656.25" stroke="#5d8c3e" stroke-width="0.85"/><polygon points="676.88,646.5 679.58,643.5 692.52,643.5 689.82,646.5" fill="#eef7e8"/><polygon points="689.82,646.5 692.52,643.5 692.52,653.25 689.82,656.25" fill="#cfe3c2"/><rect x="676.88" y="646.5" width="12.94" height="9.75" fill="#e2efda"/><path d="M676.88 646.5L679.58 643.5L692.52 643.5L692.52 653.25L689.82 656.25L676.88 656.25ZM676.88 646.5L689.82 646.5M689.82 646.5L692.52 643.5" fill="none" stroke="#5d8c3e" stroke-width="0.85" stroke-linejoin="round"/><line x1="689.82" y1="646.5" x2="689.82" y2="656.25" stroke="#5d8c3e" stroke-width="0.85"/><polygon points="583.6,678.75 586.3,675.75 599.24,675.75 596.54,678.75" fill="#bfe0a6"/><polygon points="596.54,678.75 599.24,675.75 599.24,685.5 596.54,688.5" fill="#8fb875"/><rect x="583.6" y="678.75" width="12.94" height="9.75" fill="#a9d18e"/><path d="M583.6 678.75L586.3 675.75L599.24 675.75L599.24 685.5L596.54 688.5L583.6 688.5ZM583.6 678.75L596.54 678.75M596.54 678.75L599.24 675.75" fill="none" stroke="#4a7a2c" stroke-width="0.85" stroke-linejoin="round"/><line x1="596.54" y1="678.75" x2="596.54" y2="688.5" stroke="#4a7a2c" stroke-width="0.85"/><polygon points="596.54,678.75 599.24,675.75 612.18,675.75 609.48,678.75" fill="#bfe0a6"/><polygon points="609.48,678.75 612.18,675.75 612.18,685.5 609.48,688.5" fill="#8fb875"/><rect x="596.54" y="678.75" width="12.94" height="9.75" fill="#a9d18e"/><path d="M596.54 678.75L599.24 675.75L612.18 675.75L612.18 685.5L609.48 688.5L596.54 688.5ZM596.54 678.75L609.48 678.75M609.48 678.75L612.18 675.75" fill="none" stroke="#4a7a2c" stroke-width="0.85" stroke-linejoin="round"/><line x1="609.48" y1="678.75" x2="609.48" y2="688.5" stroke="#4a7a2c" stroke-width="0.85"/><polygon points="609.48,678.75 612.18,675.75 625.12,675.75 622.42,678.75" fill="#bfe0a6"/><polygon points="622.42,678.75 625.12,675.75 625.12,685.5 622.42,688.5" fill="#8fb875"/><rect x="609.48" y="678.75" width="12.94" height="9.75" fill="#a9d18e"/><path d="M609.48 678.75L612.18 675.75L625.12 675.75L625.12 685.5L622.42 688.5L609.48 688.5ZM609.48 678.75L622.42 678.75M622.42 678.75L625.12 675.75" fill="none" stroke="#4a7a2c" stroke-width="0.85" stroke-linejoin="round"/><line x1="622.42" y1="678.75" x2="622.42" y2="688.5" stroke="#4a7a2c" stroke-width="0.85"/><polygon points="622.42,678.75 625.12,675.75 638.06,675.75 635.36,678.75" fill="#bfe0a6"/><polygon points="635.36,678.75 638.06,675.75 638.06,685.5 635.36,688.5" fill="#8fb875"/><rect x="622.42" y="678.75" width="12.94" height="9.75" fill="#a9d18e"/><path d="M622.42 678.75L625.12 675.75L638.06 675.75L638.06 685.5L635.36 688.5L622.42 688.5ZM622.42 678.75L635.36 678.75M635.36 678.75L638.06 675.75" fill="none" stroke="#4a7a2c" stroke-width="0.85" stroke-linejoin="round"/><line x1="635.36" y1="678.75" x2="635.36" y2="688.5" stroke="#4a7a2c" stroke-width="0.85"/><polygon points="635.36,678.75 638.06,675.75 651,675.75 648.3,678.75" fill="#bfe0a6"/><polygon points="648.3,678.75 651,675.75 651,685.5 648.3,688.5" fill="#8fb875"/><rect x="635.36" y="678.75" width="12.94" height="9.75" fill="#a9d18e"/><path d="M635.36 678.75L638.06 675.75L651 675.75L651 685.5L648.3 688.5L635.36 688.5ZM635.36 678.75L648.3 678.75M648.3 678.75L651 675.75" fill="none" stroke="#4a7a2c" stroke-width="0.85" stroke-linejoin="round"/><line x1="648.3" y1="678.75" x2="648.3" y2="688.5" stroke="#4a7a2c" stroke-width="0.85"/><polygon points="648.3,678.75 651,675.75 663.94,675.75 661.24,678.75" fill="#bfe0a6"/><polygon points="661.24,678.75 663.94,675.75 663.94,685.5 661.24,688.5" fill="#8fb875"/><rect x="648.3" y="678.75" width="12.94" height="9.75" fill="#a9d18e"/><path d="M648.3 678.75L651 675.75L663.94 675.75L663.94 685.5L661.24 688.5L648.3 688.5ZM648.3 678.75L661.24 678.75M661.24 678.75L663.94 675.75" fill="none" stroke="#4a7a2c" stroke-width="0.85" stroke-linejoin="round"/><line x1="661.24" y1="678.75" x2="661.24" y2="688.5" stroke="#4a7a2c" stroke-width="0.85"/><polygon points="661.24,678.75 663.94,675.75 676.88,675.75 674.18,678.75" fill="#bfe0a6"/><polygon points="674.18,678.75 676.88,675.75 676.88,685.5 674.18,688.5" fill="#8fb875"/><rect x="661.24" y="678.75" width="12.94" height="9.75" fill="#a9d18e"/><path d="M661.24 678.75L663.94 675.75L676.88 675.75L676.88 685.5L674.18 688.5L661.24 688.5ZM661.24 678.75L674.18 678.75M674.18 678.75L676.88 675.75" fill="none" stroke="#4a7a2c" stroke-width="0.85" stroke-linejoin="round"/><line x1="674.18" y1="678.75" x2="674.18" y2="688.5" stroke="#4a7a2c" stroke-width="0.85"/><polygon points="674.18,678.75 676.88,675.75 689.82,675.75 687.12,678.75" fill="#bfe0a6"/><polygon points="687.12,678.75 689.82,675.75 689.82,685.5 687.12,688.5" fill="#8fb875"/><rect x="674.18" y="678.75" width="12.94" height="9.75" fill="#a9d18e"/><path d="M674.18 678.75L676.88 675.75L689.82 675.75L689.82 685.5L687.12 688.5L674.18 688.5ZM674.18 678.75L687.12 678.75M687.12 678.75L689.82 675.75" fill="none" stroke="#4a7a2c" stroke-width="0.85" stroke-linejoin="round"/><line x1="687.12" y1="678.75" x2="687.12" y2="688.5" stroke="#4a7a2c" stroke-width="0.85"/><polygon points="583.6,669 586.3,666 599.24,666 596.54,669" fill="#bfe0a6"/><polygon points="596.54,669 599.24,666 599.24,675.75 596.54,678.75" fill="#8fb875"/><rect x="583.6" y="669" width="12.94" height="9.75" fill="#a9d18e"/><path d="M583.6 669L586.3 666L599.24 666L599.24 675.75L596.54 678.75L583.6 678.75ZM583.6 669L596.54 669M596.54 669L599.24 666" fill="none" stroke="#4a7a2c" stroke-width="0.85" stroke-linejoin="round"/><line x1="596.54" y1="669" x2="596.54" y2="678.75" stroke="#4a7a2c" stroke-width="0.85"/><polygon points="596.54,669 599.24,666 612.18,666 609.48,669" fill="#bfe0a6"/><polygon points="609.48,669 612.18,666 612.18,675.75 609.48,678.75" fill="#8fb875"/><rect x="596.54" y="669" width="12.94" height="9.75" fill="#a9d18e"/><path d="M596.54 669L599.24 666L612.18 666L612.18 675.75L609.48 678.75L596.54 678.75ZM596.54 669L609.48 669M609.48 669L612.18 666" fill="none" stroke="#4a7a2c" stroke-width="0.85" stroke-linejoin="round"/><line x1="609.48" y1="669" x2="609.48" y2="678.75" stroke="#4a7a2c" stroke-width="0.85"/><polygon points="609.48,669 612.18,666 625.12,666 622.42,669" fill="#bfe0a6"/><polygon points="622.42,669 625.12,666 625.12,675.75 622.42,678.75" fill="#8fb875"/><rect x="609.48" y="669" width="12.94" height="9.75" fill="#a9d18e"/><path d="M609.48 669L612.18 666L625.12 666L625.12 675.75L622.42 678.75L609.48 678.75ZM609.48 669L622.42 669M622.42 669L625.12 666" fill="none" stroke="#4a7a2c" stroke-width="0.85" stroke-linejoin="round"/><line x1="622.42" y1="669" x2="622.42" y2="678.75" stroke="#4a7a2c" stroke-width="0.85"/><polygon points="622.42,669 625.12,666 638.06,666 635.36,669" fill="#bfe0a6"/><polygon points="635.36,669 638.06,666 638.06,675.75 635.36,678.75" fill="#8fb875"/><rect x="622.42" y="669" width="12.94" height="9.75" fill="#a9d18e"/><path d="M622.42 669L625.12 666L638.06 666L638.06 675.75L635.36 678.75L622.42 678.75ZM622.42 669L635.36 669M635.36 669L638.06 666" fill="none" stroke="#4a7a2c" stroke-width="0.85" stroke-linejoin="round"/><line x1="635.36" y1="669" x2="635.36" y2="678.75" stroke="#4a7a2c" stroke-width="0.85"/><polygon points="635.36,669 638.06,666 651,666 648.3,669" fill="#bfe0a6"/><polygon points="648.3,669 651,666 651,675.75 648.3,678.75" fill="#8fb875"/><rect x="635.36" y="669" width="12.94" height="9.75" fill="#a9d18e"/><path d="M635.36 669L638.06 666L651 666L651 675.75L648.3 678.75L635.36 678.75ZM635.36 669L648.3 669M648.3 669L651 666" fill="none" stroke="#4a7a2c" stroke-width="0.85" stroke-linejoin="round"/><line x1="648.3" y1="669" x2="648.3" y2="678.75" stroke="#4a7a2c" stroke-width="0.85"/><polygon points="648.3,669 651,666 663.94,666 661.24,669" fill="#bfe0a6"/><polygon points="661.24,669 663.94,666 663.94,675.75 661.24,678.75" fill="#8fb875"/><rect x="648.3" y="669" width="12.94" height="9.75" fill="#a9d18e"/><path d="M648.3 669L651 666L663.94 666L663.94 675.75L661.24 678.75L648.3 678.75ZM648.3 669L661.24 669M661.24 669L663.94 666" fill="none" stroke="#4a7a2c" stroke-width="0.85" stroke-linejoin="round"/><line x1="661.24" y1="669" x2="661.24" y2="678.75" stroke="#4a7a2c" stroke-width="0.85"/><polygon points="661.24,669 663.94,666 676.88,666 674.18,669" fill="#bfe0a6"/><polygon points="674.18,669 676.88,666 676.88,675.75 674.18,678.75" fill="#8fb875"/><rect x="661.24" y="669" width="12.94" height="9.75" fill="#a9d18e"/><path d="M661.24 669L663.94 666L676.88 666L676.88 675.75L674.18 678.75L661.24 678.75ZM661.24 669L674.18 669M674.18 669L676.88 666" fill="none" stroke="#4a7a2c" stroke-width="0.85" stroke-linejoin="round"/><line x1="674.18" y1="669" x2="674.18" y2="678.75" stroke="#4a7a2c" stroke-width="0.85"/><polygon points="674.18,669 676.88,666 689.82,666 687.12,669" fill="#bfe0a6"/><polygon points="687.12,669 689.82,666 689.82,675.75 687.12,678.75" fill="#8fb875"/><rect x="674.18" y="669" width="12.94" height="9.75" fill="#a9d18e"/><path d="M674.18 669L676.88 666L689.82 666L689.82 675.75L687.12 678.75L674.18 678.75ZM674.18 669L687.12 669M687.12 669L689.82 666" fill="none" stroke="#4a7a2c" stroke-width="0.85" stroke-linejoin="round"/><line x1="687.12" y1="669" x2="687.12" y2="678.75" stroke="#4a7a2c" stroke-width="0.85"/><polygon points="580.9,681.75 583.6,678.75 596.54,678.75 593.84,681.75" fill="#bfe0a6"/><polygon points="593.84,681.75 596.54,678.75 596.54,688.5 593.84,691.5" fill="#8fb875"/><rect x="580.9" y="681.75" width="12.94" height="9.75" fill="#a9d18e"/><path d="M580.9 681.75L583.6 678.75L596.54 678.75L596.54 688.5L593.84 691.5L580.9 691.5ZM580.9 681.75L593.84 681.75M593.84 681.75L596.54 678.75" fill="none" stroke="#4a7a2c" stroke-width="0.85" stroke-linejoin="round"/><line x1="593.84" y1="681.75" x2="593.84" y2="691.5" stroke="#4a7a2c" stroke-width="0.85"/><polygon points="593.84,681.75 596.54,678.75 609.48,678.75 606.78,681.75" fill="#bfe0a6"/><polygon points="606.78,681.75 609.48,678.75 609.48,688.5 606.78,691.5" fill="#8fb875"/><rect x="593.84" y="681.75" width="12.94" height="9.75" fill="#a9d18e"/><path d="M593.84 681.75L596.54 678.75L609.48 678.75L609.48 688.5L606.78 691.5L593.84 691.5ZM593.84 681.75L606.78 681.75M606.78 681.75L609.48 678.75" fill="none" stroke="#4a7a2c" stroke-width="0.85" stroke-linejoin="round"/><line x1="606.78" y1="681.75" x2="606.78" y2="691.5" stroke="#4a7a2c" stroke-width="0.85"/><polygon points="606.78,681.75 609.48,678.75 622.42,678.75 619.72,681.75" fill="#bfe0a6"/><polygon points="619.72,681.75 622.42,678.75 622.42,688.5 619.72,691.5" fill="#8fb875"/><rect x="606.78" y="681.75" width="12.94" height="9.75" fill="#a9d18e"/><path d="M606.78 681.75L609.48 678.75L622.42 678.75L622.42 688.5L619.72 691.5L606.78 691.5ZM606.78 681.75L619.72 681.75M619.72 681.75L622.42 678.75" fill="none" stroke="#4a7a2c" stroke-width="0.85" stroke-linejoin="round"/><line x1="619.72" y1="681.75" x2="619.72" y2="691.5" stroke="#4a7a2c" stroke-width="0.85"/><polygon points="619.72,681.75 622.42,678.75 635.36,678.75 632.66,681.75" fill="#bfe0a6"/><polygon points="632.66,681.75 635.36,678.75 635.36,688.5 632.66,691.5" fill="#8fb875"/><rect x="619.72" y="681.75" width="12.94" height="9.75" fill="#a9d18e"/><path d="M619.72 681.75L622.42 678.75L635.36 678.75L635.36 688.5L632.66 691.5L619.72 691.5ZM619.72 681.75L632.66 681.75M632.66 681.75L635.36 678.75" fill="none" stroke="#4a7a2c" stroke-width="0.85" stroke-linejoin="round"/><line x1="632.66" y1="681.75" x2="632.66" y2="691.5" stroke="#4a7a2c" stroke-width="0.85"/><polygon points="632.66,681.75 635.36,678.75 648.3,678.75 645.6,681.75" fill="#bfe0a6"/><polygon points="645.6,681.75 648.3,678.75 648.3,688.5 645.6,691.5" fill="#8fb875"/><rect x="632.66" y="681.75" width="12.94" height="9.75" fill="#a9d18e"/><path d="M632.66 681.75L635.36 678.75L648.3 678.75L648.3 688.5L645.6 691.5L632.66 691.5ZM632.66 681.75L645.6 681.75M645.6 681.75L648.3 678.75" fill="none" stroke="#4a7a2c" stroke-width="0.85" stroke-linejoin="round"/><line x1="645.6" y1="681.75" x2="645.6" y2="691.5" stroke="#4a7a2c" stroke-width="0.85"/><polygon points="645.6,681.75 648.3,678.75 661.24,678.75 658.54,681.75" fill="#bfe0a6"/><polygon points="658.54,681.75 661.24,678.75 661.24,688.5 658.54,691.5" fill="#8fb875"/><rect x="645.6" y="681.75" width="12.94" height="9.75" fill="#a9d18e"/><path d="M645.6 681.75L648.3 678.75L661.24 678.75L661.24 688.5L658.54 691.5L645.6 691.5ZM645.6 681.75L658.54 681.75M658.54 681.75L661.24 678.75" fill="none" stroke="#4a7a2c" stroke-width="0.85" stroke-linejoin="round"/><line x1="658.54" y1="681.75" x2="658.54" y2="691.5" stroke="#4a7a2c" stroke-width="0.85"/><polygon points="658.54,681.75 661.24,678.75 674.18,678.75 671.48,681.75" fill="#bfe0a6"/><polygon points="671.48,681.75 674.18,678.75 674.18,688.5 671.48,691.5" fill="#8fb875"/><rect x="658.54" y="681.75" width="12.94" height="9.75" fill="#a9d18e"/><path d="M658.54 681.75L661.24 678.75L674.18 678.75L674.18 688.5L671.48 691.5L658.54 691.5ZM658.54 681.75L671.48 681.75M671.48 681.75L674.18 678.75" fill="none" stroke="#4a7a2c" stroke-width="0.85" stroke-linejoin="round"/><line x1="671.48" y1="681.75" x2="671.48" y2="691.5" stroke="#4a7a2c" stroke-width="0.85"/><polygon points="671.48,681.75 674.18,678.75 687.12,678.75 684.42,681.75" fill="#bfe0a6"/><polygon points="684.42,681.75 687.12,678.75 687.12,688.5 684.42,691.5" fill="#8fb875"/><rect x="671.48" y="681.75" width="12.94" height="9.75" fill="#a9d18e"/><path d="M671.48 681.75L674.18 678.75L687.12 678.75L687.12 688.5L684.42 691.5L671.48 691.5ZM671.48 681.75L684.42 681.75M684.42 681.75L687.12 678.75" fill="none" stroke="#4a7a2c" stroke-width="0.85" stroke-linejoin="round"/><line x1="684.42" y1="681.75" x2="684.42" y2="691.5" stroke="#4a7a2c" stroke-width="0.85"/><polygon points="580.9,672 583.6,669 596.54,669 593.84,672" fill="#bfe0a6"/><polygon points="593.84,672 596.54,669 596.54,678.75 593.84,681.75" fill="#8fb875"/><rect x="580.9" y="672" width="12.94" height="9.75" fill="#a9d18e"/><path d="M580.9 672L583.6 669L596.54 669L596.54 678.75L593.84 681.75L580.9 681.75ZM580.9 672L593.84 672M593.84 672L596.54 669" fill="none" stroke="#4a7a2c" stroke-width="0.85" stroke-linejoin="round"/><line x1="593.84" y1="672" x2="593.84" y2="681.75" stroke="#4a7a2c" stroke-width="0.85"/><polygon points="593.84,672 596.54,669 609.48,669 606.78,672" fill="#bfe0a6"/><polygon points="606.78,672 609.48,669 609.48,678.75 606.78,681.75" fill="#8fb875"/><rect x="593.84" y="672" width="12.94" height="9.75" fill="#a9d18e"/><path d="M593.84 672L596.54 669L609.48 669L609.48 678.75L606.78 681.75L593.84 681.75ZM593.84 672L606.78 672M606.78 672L609.48 669" fill="none" stroke="#4a7a2c" stroke-width="0.85" stroke-linejoin="round"/><line x1="606.78" y1="672" x2="606.78" y2="681.75" stroke="#4a7a2c" stroke-width="0.85"/><polygon points="606.78,672 609.48,669 622.42,669 619.72,672" fill="#bfe0a6"/><polygon points="619.72,672 622.42,669 622.42,678.75 619.72,681.75" fill="#8fb875"/><rect x="606.78" y="672" width="12.94" height="9.75" fill="#a9d18e"/><path d="M606.78 672L609.48 669L622.42 669L622.42 678.75L619.72 681.75L606.78 681.75ZM606.78 672L619.72 672M619.72 672L622.42 669" fill="none" stroke="#4a7a2c" stroke-width="0.85" stroke-linejoin="round"/><line x1="619.72" y1="672" x2="619.72" y2="681.75" stroke="#4a7a2c" stroke-width="0.85"/><polygon points="619.72,672 622.42,669 635.36,669 632.66,672" fill="#bfe0a6"/><polygon points="632.66,672 635.36,669 635.36,678.75 632.66,681.75" fill="#8fb875"/><rect x="619.72" y="672" width="12.94" height="9.75" fill="#a9d18e"/><path d="M619.72 672L622.42 669L635.36 669L635.36 678.75L632.66 681.75L619.72 681.75ZM619.72 672L632.66 672M632.66 672L635.36 669" fill="none" stroke="#4a7a2c" stroke-width="0.85" stroke-linejoin="round"/><line x1="632.66" y1="672" x2="632.66" y2="681.75" stroke="#4a7a2c" stroke-width="0.85"/><polygon points="632.66,672 635.36,669 648.3,669 645.6,672" fill="#bfe0a6"/><polygon points="645.6,672 648.3,669 648.3,678.75 645.6,681.75" fill="#8fb875"/><rect x="632.66" y="672" width="12.94" height="9.75" fill="#a9d18e"/><path d="M632.66 672L635.36 669L648.3 669L648.3 678.75L645.6 681.75L632.66 681.75ZM632.66 672L645.6 672M645.6 672L648.3 669" fill="none" stroke="#4a7a2c" stroke-width="0.85" stroke-linejoin="round"/><line x1="645.6" y1="672" x2="645.6" y2="681.75" stroke="#4a7a2c" stroke-width="0.85"/><polygon points="645.6,672 648.3,669 661.24,669 658.54,672" fill="#bfe0a6"/><polygon points="658.54,672 661.24,669 661.24,678.75 658.54,681.75" fill="#8fb875"/><rect x="645.6" y="672" width="12.94" height="9.75" fill="#a9d18e"/><path d="M645.6 672L648.3 669L661.24 669L661.24 678.75L658.54 681.75L645.6 681.75ZM645.6 672L658.54 672M658.54 672L661.24 669" fill="none" stroke="#4a7a2c" stroke-width="0.85" stroke-linejoin="round"/><line x1="658.54" y1="672" x2="658.54" y2="681.75" stroke="#4a7a2c" stroke-width="0.85"/><polygon points="658.54,672 661.24,669 674.18,669 671.48,672" fill="#bfe0a6"/><polygon points="671.48,672 674.18,669 674.18,678.75 671.48,681.75" fill="#8fb875"/><rect x="658.54" y="672" width="12.94" height="9.75" fill="#a9d18e"/><path d="M658.54 672L661.24 669L674.18 669L674.18 678.75L671.48 681.75L658.54 681.75ZM658.54 672L671.48 672M671.48 672L674.18 669" fill="none" stroke="#4a7a2c" stroke-width="0.85" stroke-linejoin="round"/><line x1="671.48" y1="672" x2="671.48" y2="681.75" stroke="#4a7a2c" stroke-width="0.85"/><polygon points="671.48,672 674.18,669 687.12,669 684.42,672" fill="#bfe0a6"/><polygon points="684.42,672 687.12,669 687.12,678.75 684.42,681.75" fill="#8fb875"/><rect x="671.48" y="672" width="12.94" height="9.75" fill="#a9d18e"/><path d="M671.48 672L674.18 669L687.12 669L687.12 678.75L684.42 681.75L671.48 681.75ZM671.48 672L684.42 672M684.42 672L687.12 669" fill="none" stroke="#4a7a2c" stroke-width="0.85" stroke-linejoin="round"/><line x1="684.42" y1="672" x2="684.42" y2="681.75" stroke="#4a7a2c" stroke-width="0.85"/><polygon points="578.2,684.75 580.9,681.75 593.84,681.75 591.14,684.75" fill="#bfe0a6"/><polygon points="591.14,684.75 593.84,681.75 593.84,691.5 591.14,694.5" fill="#8fb875"/><rect x="578.2" y="684.75" width="12.94" height="9.75" fill="#a9d18e"/><path d="M578.2 684.75L580.9 681.75L593.84 681.75L593.84 691.5L591.14 694.5L578.2 694.5ZM578.2 684.75L591.14 684.75M591.14 684.75L593.84 681.75" fill="none" stroke="#4a7a2c" stroke-width="0.85" stroke-linejoin="round"/><line x1="591.14" y1="684.75" x2="591.14" y2="694.5" stroke="#4a7a2c" stroke-width="0.85"/><polygon points="591.14,684.75 593.84,681.75 606.78,681.75 604.08,684.75" fill="#bfe0a6"/><polygon points="604.08,684.75 606.78,681.75 606.78,691.5 604.08,694.5" fill="#8fb875"/><rect x="591.14" y="684.75" width="12.94" height="9.75" fill="#a9d18e"/><path d="M591.14 684.75L593.84 681.75L606.78 681.75L606.78 691.5L604.08 694.5L591.14 694.5ZM591.14 684.75L604.08 684.75M604.08 684.75L606.78 681.75" fill="none" stroke="#4a7a2c" stroke-width="0.85" stroke-linejoin="round"/><line x1="604.08" y1="684.75" x2="604.08" y2="694.5" stroke="#4a7a2c" stroke-width="0.85"/><polygon points="604.08,684.75 606.78,681.75 619.72,681.75 617.02,684.75" fill="#bfe0a6"/><polygon points="617.02,684.75 619.72,681.75 619.72,691.5 617.02,694.5" fill="#8fb875"/><rect x="604.08" y="684.75" width="12.94" height="9.75" fill="#a9d18e"/><path d="M604.08 684.75L606.78 681.75L619.72 681.75L619.72 691.5L617.02 694.5L604.08 694.5ZM604.08 684.75L617.02 684.75M617.02 684.75L619.72 681.75" fill="none" stroke="#4a7a2c" stroke-width="0.85" stroke-linejoin="round"/><line x1="617.02" y1="684.75" x2="617.02" y2="694.5" stroke="#4a7a2c" stroke-width="0.85"/><polygon points="617.02,684.75 619.72,681.75 632.66,681.75 629.96,684.75" fill="#bfe0a6"/><polygon points="629.96,684.75 632.66,681.75 632.66,691.5 629.96,694.5" fill="#8fb875"/><rect x="617.02" y="684.75" width="12.94" height="9.75" fill="#a9d18e"/><path d="M617.02 684.75L619.72 681.75L632.66 681.75L632.66 691.5L629.96 694.5L617.02 694.5ZM617.02 684.75L629.96 684.75M629.96 684.75L632.66 681.75" fill="none" stroke="#4a7a2c" stroke-width="0.85" stroke-linejoin="round"/><line x1="629.96" y1="684.75" x2="629.96" y2="694.5" stroke="#4a7a2c" stroke-width="0.85"/><polygon points="629.96,684.75 632.66,681.75 645.6,681.75 642.9,684.75" fill="#bfe0a6"/><polygon points="642.9,684.75 645.6,681.75 645.6,691.5 642.9,694.5" fill="#8fb875"/><rect x="629.96" y="684.75" width="12.94" height="9.75" fill="#a9d18e"/><path d="M629.96 684.75L632.66 681.75L645.6 681.75L645.6 691.5L642.9 694.5L629.96 694.5ZM629.96 684.75L642.9 684.75M642.9 684.75L645.6 681.75" fill="none" stroke="#4a7a2c" stroke-width="0.85" stroke-linejoin="round"/><line x1="642.9" y1="684.75" x2="642.9" y2="694.5" stroke="#4a7a2c" stroke-width="0.85"/><polygon points="642.9,684.75 645.6,681.75 658.54,681.75 655.84,684.75" fill="#bfe0a6"/><polygon points="655.84,684.75 658.54,681.75 658.54,691.5 655.84,694.5" fill="#8fb875"/><rect x="642.9" y="684.75" width="12.94" height="9.75" fill="#a9d18e"/><path d="M642.9 684.75L645.6 681.75L658.54 681.75L658.54 691.5L655.84 694.5L642.9 694.5ZM642.9 684.75L655.84 684.75M655.84 684.75L658.54 681.75" fill="none" stroke="#4a7a2c" stroke-width="0.85" stroke-linejoin="round"/><line x1="655.84" y1="684.75" x2="655.84" y2="694.5" stroke="#4a7a2c" stroke-width="0.85"/><polygon points="655.84,684.75 658.54,681.75 671.48,681.75 668.78,684.75" fill="#bfe0a6"/><polygon points="668.78,684.75 671.48,681.75 671.48,691.5 668.78,694.5" fill="#8fb875"/><rect x="655.84" y="684.75" width="12.94" height="9.75" fill="#a9d18e"/><path d="M655.84 684.75L658.54 681.75L671.48 681.75L671.48 691.5L668.78 694.5L655.84 694.5ZM655.84 684.75L668.78 684.75M668.78 684.75L671.48 681.75" fill="none" stroke="#4a7a2c" stroke-width="0.85" stroke-linejoin="round"/><line x1="668.78" y1="684.75" x2="668.78" y2="694.5" stroke="#4a7a2c" stroke-width="0.85"/><polygon points="668.78,684.75 671.48,681.75 684.42,681.75 681.72,684.75" fill="#bfe0a6"/><polygon points="681.72,684.75 684.42,681.75 684.42,691.5 681.72,694.5" fill="#8fb875"/><rect x="668.78" y="684.75" width="12.94" height="9.75" fill="#a9d18e"/><path d="M668.78 684.75L671.48 681.75L684.42 681.75L684.42 691.5L681.72 694.5L668.78 694.5ZM668.78 684.75L681.72 684.75M681.72 684.75L684.42 681.75" fill="none" stroke="#4a7a2c" stroke-width="0.85" stroke-linejoin="round"/><line x1="681.72" y1="684.75" x2="681.72" y2="694.5" stroke="#4a7a2c" stroke-width="0.85"/><polygon points="578.2,675 580.9,672 593.84,672 591.14,675" fill="#bfe0a6"/><polygon points="591.14,675 593.84,672 593.84,681.75 591.14,684.75" fill="#8fb875"/><rect x="578.2" y="675" width="12.94" height="9.75" fill="#a9d18e"/><path d="M578.2 675L580.9 672L593.84 672L593.84 681.75L591.14 684.75L578.2 684.75ZM578.2 675L591.14 675M591.14 675L593.84 672" fill="none" stroke="#4a7a2c" stroke-width="0.85" stroke-linejoin="round"/><line x1="591.14" y1="675" x2="591.14" y2="684.75" stroke="#4a7a2c" stroke-width="0.85"/><polygon points="591.14,675 593.84,672 606.78,672 604.08,675" fill="#bfe0a6"/><polygon points="604.08,675 606.78,672 606.78,681.75 604.08,684.75" fill="#8fb875"/><rect x="591.14" y="675" width="12.94" height="9.75" fill="#a9d18e"/><path d="M591.14 675L593.84 672L606.78 672L606.78 681.75L604.08 684.75L591.14 684.75ZM591.14 675L604.08 675M604.08 675L606.78 672" fill="none" stroke="#4a7a2c" stroke-width="0.85" stroke-linejoin="round"/><line x1="604.08" y1="675" x2="604.08" y2="684.75" stroke="#4a7a2c" stroke-width="0.85"/><polygon points="604.08,675 606.78,672 619.72,672 617.02,675" fill="#bfe0a6"/><polygon points="617.02,675 619.72,672 619.72,681.75 617.02,684.75" fill="#8fb875"/><rect x="604.08" y="675" width="12.94" height="9.75" fill="#a9d18e"/><path d="M604.08 675L606.78 672L619.72 672L619.72 681.75L617.02 684.75L604.08 684.75ZM604.08 675L617.02 675M617.02 675L619.72 672" fill="none" stroke="#4a7a2c" stroke-width="0.85" stroke-linejoin="round"/><line x1="617.02" y1="675" x2="617.02" y2="684.75" stroke="#4a7a2c" stroke-width="0.85"/><polygon points="617.02,675 619.72,672 632.66,672 629.96,675" fill="#bfe0a6"/><polygon points="629.96,675 632.66,672 632.66,681.75 629.96,684.75" fill="#8fb875"/><rect x="617.02" y="675" width="12.94" height="9.75" fill="#a9d18e"/><path d="M617.02 675L619.72 672L632.66 672L632.66 681.75L629.96 684.75L617.02 684.75ZM617.02 675L629.96 675M629.96 675L632.66 672" fill="none" stroke="#4a7a2c" stroke-width="0.85" stroke-linejoin="round"/><line x1="629.96" y1="675" x2="629.96" y2="684.75" stroke="#4a7a2c" stroke-width="0.85"/><polygon points="629.96,675 632.66,672 645.6,672 642.9,675" fill="#bfe0a6"/><polygon points="642.9,675 645.6,672 645.6,681.75 642.9,684.75" fill="#8fb875"/><rect x="629.96" y="675" width="12.94" height="9.75" fill="#a9d18e"/><path d="M629.96 675L632.66 672L645.6 672L645.6 681.75L642.9 684.75L629.96 684.75ZM629.96 675L642.9 675M642.9 675L645.6 672" fill="none" stroke="#4a7a2c" stroke-width="0.85" stroke-linejoin="round"/><line x1="642.9" y1="675" x2="642.9" y2="684.75" stroke="#4a7a2c" stroke-width="0.85"/><polygon points="642.9,675 645.6,672 658.54,672 655.84,675" fill="#bfe0a6"/><polygon points="655.84,675 658.54,672 658.54,681.75 655.84,684.75" fill="#8fb875"/><rect x="642.9" y="675" width="12.94" height="9.75" fill="#a9d18e"/><path d="M642.9 675L645.6 672L658.54 672L658.54 681.75L655.84 684.75L642.9 684.75ZM642.9 675L655.84 675M655.84 675L658.54 672" fill="none" stroke="#4a7a2c" stroke-width="0.85" stroke-linejoin="round"/><line x1="655.84" y1="675" x2="655.84" y2="684.75" stroke="#4a7a2c" stroke-width="0.85"/><polygon points="655.84,675 658.54,672 671.48,672 668.78,675" fill="#bfe0a6"/><polygon points="668.78,675 671.48,672 671.48,681.75 668.78,684.75" fill="#8fb875"/><rect x="655.84" y="675" width="12.94" height="9.75" fill="#a9d18e"/><path d="M655.84 675L658.54 672L671.48 672L671.48 681.75L668.78 684.75L655.84 684.75ZM655.84 675L668.78 675M668.78 675L671.48 672" fill="none" stroke="#4a7a2c" stroke-width="0.85" stroke-linejoin="round"/><line x1="668.78" y1="675" x2="668.78" y2="684.75" stroke="#4a7a2c" stroke-width="0.85"/><polygon points="668.78,675 671.48,672 684.42,672 681.72,675" fill="#bfe0a6"/><polygon points="681.72,675 684.42,672 684.42,681.75 681.72,684.75" fill="#8fb875"/><rect x="668.78" y="675" width="12.94" height="9.75" fill="#a9d18e"/><path d="M668.78 675L671.48 672L684.42 672L684.42 681.75L681.72 684.75L668.78 684.75ZM668.78 675L681.72 675M681.72 675L684.42 672" fill="none" stroke="#4a7a2c" stroke-width="0.85" stroke-linejoin="round"/><line x1="681.72" y1="675" x2="681.72" y2="684.75" stroke="#4a7a2c" stroke-width="0.85"/><line x1="254.9" y1="533.3" x2="254.41" y2="615" stroke="#000" stroke-width="4"/><polyline points="246.32,600.41 254.4,615 262.67,600.51" fill="none" stroke="#000" stroke-width="4" stroke-linecap="round" stroke-linejoin="miter"/><line x1="443.3" y1="533.3" x2="442.81" y2="615" stroke="#000" stroke-width="4"/><polyline points="434.72,600.41 442.8,615 451.07,600.51" fill="none" stroke="#000" stroke-width="4" stroke-linecap="round" stroke-linejoin="miter"/><line x1="599.1" y1="541.9" x2="652.61" y2="614.29" stroke="#000" stroke-width="4"/><polyline points="637.4,607.46 653.5,614 650.54,597.75" fill="none" stroke="#000" stroke-width="4" stroke-linecap="round" stroke-linejoin="miter"/><line x1="724.4" y1="539.1" x2="682.53" y2="613.89" stroke="#000" stroke-width="4"/><polyline points="682.5,597.21 681.8,613.7 696.76,605.2" fill="none" stroke="#000" stroke-width="4" stroke-linecap="round" stroke-linejoin="miter"/><polygon points="728.8,656.4 761.9,656.4 761.9,647.6 779.5,665.2 761.9,682.8 761.9,673.5 728.8,673.5" fill="#000"/><path d="M168.3 699 L168.3 710.5 Q168.3 713.5 171.3 713.5 L509.5 713.5 Q512.5 713.5 512.5 710.5 L512.5 699" fill="none" stroke="#2e75b6" stroke-width="4"/><path d="M560.4 699 L560.4 712 Q560.4 715 563.4 715 L879.6 715 Q882.6 715 882.6 712 L882.6 699" fill="none" stroke="#985200" stroke-width="3.8"/>
</svg>
<div class="t" style="left:93px;top:31.75px;font-size:24px;">細胞の形に</div>
<div class="t" style="left:91.75px;top:61.7px;font-size:24px;">従った分裂</div>
<div class="t" style="left:93px;top:91.35px;font-size:24px;">法則</div>
<div class="t" style="left:264px;top:33px;font-size:24px;width:171px;text-align:justify;text-align-last:justify;">バクテリアの</div>
<div class="t" style="left:262.5px;top:62px;font-size:24px;width:172px;text-align:justify;text-align-last:justify;"><span class="lat">GRAS</span>遺伝子が植</div>
<div class="t" style="left:261px;top:91px;font-size:24px;">物ゲノムに侵入</div>
<div class="t" style="left:474.5px;top:33px;font-size:24px;width:176px;text-align:justify;text-align-last:justify;"><span class="lat">GRAS</span>ファミリー</div>
<div class="t" style="left:475.5px;top:65px;font-size:24px;width:176px;text-align:justify;text-align-last:justify;">の遺伝子が増え</div>
<div class="t" style="left:474px;top:91px;font-size:24px;">て働きが多様化</div>
<div class="t b" style="left:506.75px;top:176.6px;font-size:31px;color:#985200;">陸上化</div>
<div class="t b" style="left:164px;top:432px;font-size:24px;">コレオケーテ類</div>
<div class="t b" style="left:397.4px;top:432px;font-size:24px;">接合藻類</div>
<div class="t b" style="left:604.4px;top:432px;font-size:24px;">コケ植物</div>
<div class="t b" style="left:797.6px;top:432px;font-size:24px;">被子植物</div>
<div class="t b" style="left:25.6px;top:471.2px;font-size:24px;">細胞分裂の</div>
<div class="t b" style="left:28.2px;top:498.5px;font-size:24px;">パターン</div>
<div class="t b" style="left:191.9px;top:472.9px;font-size:24px;color:#0016ff;">細胞の形に</div>
<div class="t b" style="left:192.6px;top:500.5px;font-size:24px;color:#0016ff;">従った分裂</div>
<div class="t b" style="left:383.55px;top:471.5px;font-size:24px;color:#0016ff;">細胞の形に</div>
<div class="t b" style="left:383.7px;top:500.5px;font-size:24px;color:#0016ff;">従った分裂</div>
<div class="t b" style="left:557.3px;top:470.5px;font-size:24px;color:#0016ff;">細胞の形に</div>
<div class="t b" style="left:557.2px;top:498.9px;font-size:24px;color:#0016ff;">従った分裂</div>
<div class="t b" style="left:702px;top:471.5px;font-size:24px;color:#ff0000;">細胞の形に</div>
<div class="t b" style="left:700.75px;top:500.5px;font-size:24px;color:#ff0000;">従わない分裂</div>
<div class="t b" style="left:756.1px;top:536.9px;font-size:24px;color:#fff;"><span class="lat">GRAS</span>遺伝子による</div>
<div class="t b" style="left:746.8px;top:566.7px;font-size:24px;color:#fff;">細胞ごとの分裂方向</div>
<div class="t b" style="left:795.5px;top:593.3px;font-size:24px;color:#fff;">の使い分け</div>
<div class="t b" style="left:324.7px;top:577.6px;font-size:26px;">直線</div>
<div class="t b" style="left:324.7px;top:609.65px;font-size:26px;">平面</div>
<div class="t b" style="left:559.3px;top:602px;font-size:26px;">立体</div>
<div class="t b" style="left:792.6px;top:639.9px;font-size:24px;">複雑な</div>
<div class="t b" style="left:794.2px;top:669.2px;font-size:24px;">体作り</div>
<div class="t b" style="left:239.85px;top:721.5px;font-size:24px;color:#2e75b6;">陸上植物に近い藻類</div>
<div class="t b" style="left:672.85px;top:721.8px;font-size:24px;color:#985200;">陸上植物</div>
</body></html>
